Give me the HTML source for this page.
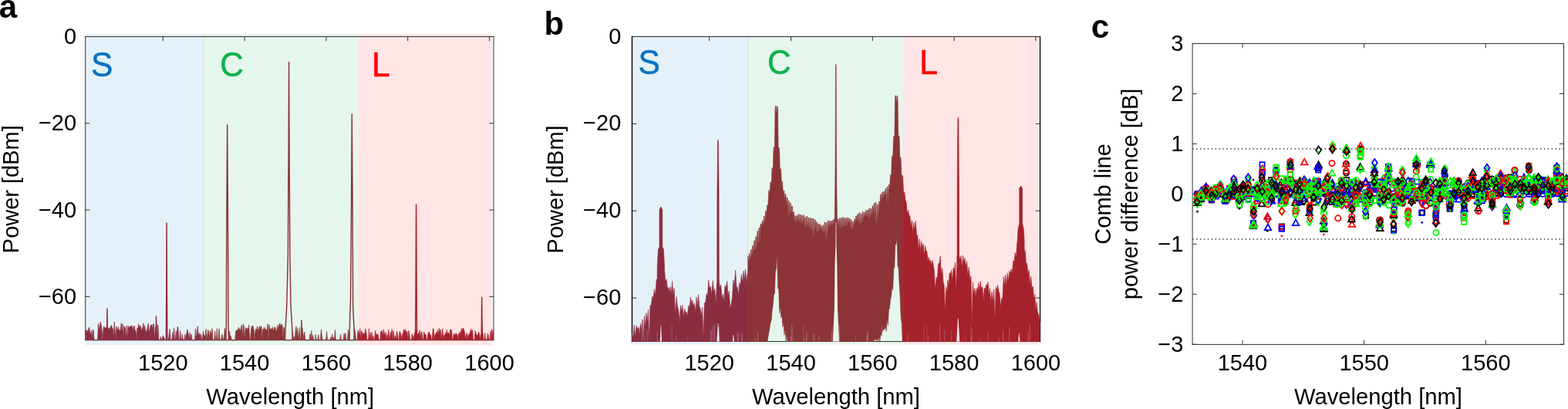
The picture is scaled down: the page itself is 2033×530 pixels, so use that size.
<!DOCTYPE html>
<html lang="en"><head><meta charset="utf-8"><title>Figure</title>
<style>html,body{margin:0;padding:0;background:#fff;overflow:hidden}svg{display:block}</style>
</head><body>
<svg width="2033" height="530" viewBox="0 0 2033 530" font-family='"Liberation Sans", sans-serif' fill="#000">
<rect width="2033" height="530" fill="#fff"/>
<rect x="111" y="44" width="153.3" height="403.3" fill="#0072bd" fill-opacity="0.1"/>
<rect x="263.15" y="44" width="201.2" height="403.3" fill="#00a651" fill-opacity="0.1"/>
<rect x="464.35" y="44" width="173.65" height="403.3" fill="#ff0000" fill-opacity="0.1"/>
<path d="M110.7 47.5H640M110.7 440.7H640" fill="none" stroke="#303030" stroke-width="1.0" stroke-linecap="square"/>
<path d="M110.7 47.5V440.7M640 47.5V440.7" fill="none" stroke="#303030" stroke-width="1.0" stroke-linecap="square"/>
<line x1="211.31" y1="47.5" x2="211.31" y2="53.2" stroke="#303030" stroke-width="1.0"/>
<text x="211.31" y="480.3" font-size="29" text-anchor="middle">1520</text>
<line x1="317.11" y1="47.5" x2="317.11" y2="53.2" stroke="#303030" stroke-width="1.0"/>
<text x="317.11" y="480.3" font-size="29" text-anchor="middle">1540</text>
<line x1="422.91" y1="47.5" x2="422.91" y2="53.2" stroke="#303030" stroke-width="1.0"/>
<text x="422.91" y="480.3" font-size="29" text-anchor="middle">1560</text>
<line x1="528.71" y1="47.5" x2="528.71" y2="53.2" stroke="#303030" stroke-width="1.0"/>
<text x="528.71" y="480.3" font-size="29" text-anchor="middle">1580</text>
<line x1="634.51" y1="47.5" x2="634.51" y2="53.2" stroke="#303030" stroke-width="1.0"/>
<text x="634.51" y="480.3" font-size="29" text-anchor="middle">1600</text>
<line x1="110.7" y1="47.5" x2="116.4" y2="47.5" stroke="#303030" stroke-width="1.0"/>
<line x1="640" y1="47.5" x2="634.3" y2="47.5" stroke="#303030" stroke-width="1.0"/>
<text x="99.1" y="57" font-size="29" text-anchor="end">0</text>
<line x1="110.7" y1="159.79" x2="116.4" y2="159.79" stroke="#303030" stroke-width="1.0"/>
<line x1="640" y1="159.79" x2="634.3" y2="159.79" stroke="#303030" stroke-width="1.0"/>
<text x="99.1" y="169.29" font-size="29" text-anchor="end">−20</text>
<line x1="110.7" y1="272.07" x2="116.4" y2="272.07" stroke="#303030" stroke-width="1.0"/>
<line x1="640" y1="272.07" x2="634.3" y2="272.07" stroke="#303030" stroke-width="1.0"/>
<text x="99.1" y="281.57" font-size="29" text-anchor="end">−40</text>
<line x1="110.7" y1="384.36" x2="116.4" y2="384.36" stroke="#303030" stroke-width="1.0"/>
<line x1="640" y1="384.36" x2="634.3" y2="384.36" stroke="#303030" stroke-width="1.0"/>
<text x="99.1" y="393.86" font-size="29" text-anchor="end">−60</text>
<g fill="#8b2d40" stroke="#8b2d40" stroke-width="0.7" stroke-linejoin="round"><path d="M111.2 440.7L111.2 440.7L111.3 427.66L112.2 428.13L113.1 428.09L114 431.85L114.9 425.41L115.8 423.86L116.7 432.62L117.6 432.57L118.5 428.52L119.4 440.7L120.3 426.94L121.2 428.59L122.1 440.7L123 440.7L123.9 440.7L124.8 440.7L125.7 440.7L126.6 440.7L127.5 419.27L128.4 423.45L129.3 427.69L130.2 416.92L131.1 420.78L132 426.74L132.9 440.7L133.8 427.57L134.7 422.8L135.6 425.6L136.5 424.72L137.4 424.73L138.3 424.35L139.2 423.36L140.1 426.6L141 424.86L141.9 427.41L142.8 425.03L143.7 422.71L144.6 421.38L145.5 426L146.4 425.67L147.3 440.7L148.2 417.25L149.1 427.52L150 440.7L150.9 423.32L151.8 427.37L152.7 427.19L153.6 423.5L154.5 429.62L155.4 427.76L156.3 428.25L157.2 418.91L158.1 429.47L159 419.69L159.9 440.7L160.8 422.7L161.7 426.19L162.6 423.69L163.5 440.7L164.4 421.96L165.3 440.7L166.2 422.16L167.1 425.11L168 423.4L168.9 423.29L169.8 422.67L170.7 421.69L171.6 423.31L172.5 428.78L173.4 423.09L174.3 422.02L175.2 429.59L176.1 428.43L177 440.7L177.9 424.84L178.8 426.54L179.7 419.64L180.6 423.29L181.5 424.24L182.4 421.88L183.3 427.84L184.2 427.35L185.1 424.27L186 418.9L186.9 429.35L187.8 421.91L188.7 428.52L189.6 429.43L190.5 428.73L191.4 422.77L192.3 419.16L193.2 429.64L194.1 427.56L195 422.03L195.9 421.38L196.8 420.4L197.7 428.27L198.6 419.69L199.5 420.03L200.4 440.7L201.3 424.53L202.2 422.64L203.1 419.8L204 440.7L204.9 421L205.8 440.7L206.7 440.7L207.6 440.7L208.5 436.05L209.4 440.7L210.3 440.7L211.2 434.82L212.1 436.69L213 437.81L213.9 440.7L214.8 440.7L215.7 440.7L216.6 440.7L217.5 440.7L218.4 440.7L219.3 432.82L220.2 426.23L221.1 440.7L222 440.7L222.9 440.7L223.8 430.74L224.7 440.7L225.6 424.64L226.5 440.7L227.4 440.7L228.3 428.73L229.2 440.7L230.1 423.1L231 425.29L231.9 440.7L232.8 440.7L233.7 428.7L234.6 440.7L235.5 440.7L236.4 433.03L237.3 440.7L238.2 440.7L239.1 440.7L240 433.21L240.9 440.7L241.8 433.73L242.7 426.77L243.6 429.81L244.5 434.39L245.4 440.7L246.3 430.82L247.2 440.7L248.1 433.04L249 440.7L249.9 440.7L250.8 440.7L251.7 440.7L252.6 440.7L253.5 426.07L254.4 440.7L255.3 431.61L256.2 422.72L257.1 432.59L258 434.44L258.9 431.56L259.8 440.7L260.7 433.09L261.6 440.7L262.5 440.7L263.4 429.13L264 433.15L264 440.7Z"/></g><g fill="none" stroke="#8b2d40" stroke-width="1.45" stroke-linejoin="round"><path d="M138.6 440.7L139 400L139.5 440.7"/><path d="M202.1 440.7L202.5 410L203 440.7"/><path d="M215.4 440.7L215.8 380L216.1 289L216.5 380L216.9 440.7"/></g>
<g fill="#8b3337" stroke="#8b3337" stroke-width="0.7" stroke-linejoin="round"><path d="M264 440.7L264 433.15L264.3 435.17L265.2 435.29L266.1 434.55L267 426.46L267.9 440.7L268.8 435.02L269.7 427.29L270.6 430.03L271.5 440.7L272.4 427.99L273.3 430.71L274.2 434.6L275.1 425.87L276 440.7L276.9 440.7L277.8 440.7L278.7 429.1L279.6 440.7L280.5 440.7L281.4 425.68L282.3 440.7L283.2 440.7L284.1 425.84L285 440.7L285.9 440.7L286.8 440.7L287.7 432.98L288.6 435.58L289.5 440.7L290.4 440.7L291.3 425.31L292.2 428.78L293.1 440.7L294 440.7L294.9 440.7L295.8 440.7L296.7 440.7L297.6 429.32L298.5 435.76L299.4 435.63L300.3 440.7L301.2 440.7L302.1 440.7L303 440.7L303.9 440.7L304.8 440.7L305.7 428.86L306.6 429.2L307.5 427.13L308.4 429.06L309.3 423.91L310.2 426.56L311.1 426.58L312 429.69L312.9 421.4L313.8 421.56L314.7 440.7L315.6 419.74L316.5 424.1L317.4 440.7L318.3 424.55L319.2 425.56L320.1 428.52L321 424.83L321.9 426.82L322.8 421.14L323.7 440.7L324.6 440.7L325.5 427.36L326.4 422.83L327.3 422.16L328.2 422.74L329.1 426.96L330 440.7L330.9 429.58L331.8 425.99L332.7 428.75L333.6 422.76L334.5 427.38L335.4 428.6L336.3 422.84L337.2 425.92L338.1 422.51L339 423.67L339.9 440.7L340.8 426.15L341.7 428.79L342.6 423.85L343.5 427.35L344.4 426.36L345.3 428.59L346.2 426.84L347.1 419.6L348 440.7L348.9 420.87L349.8 425.3L350.7 426.97L351.6 425.7L352.5 427.56L353.4 423.75L354.3 427.76L355.2 428.1L356.1 423.46L357 424.86L357.9 429.02L358.8 428.77L359.7 421.5L360.6 427.28L361.5 421.29L362.4 419.05L363.3 423.79L364.2 419.64L365.1 422.37L366 420.53L366.9 440.7L367.8 423.94L368.7 425.06L369.6 440.7L370.5 440.7L371.4 440.7L372.3 440.7L373.2 440.7L374.1 440.7L375 440.7L375.9 440.7L376.8 440.7L377.7 440.7L378.6 440.7L379.5 430.23L380.4 440.7L381.3 436L382.2 440.7L383.1 429.31L384 422.84L384.9 436.55L385.8 425.55L386.7 440.7L387.6 434.5L388.5 424.53L389.4 440.7L390.3 440.7L391.2 430.93L392.1 425.2L393 440.7L393.9 432.92L394.8 429.98L395.7 440.7L396.6 440.7L397.5 440.7L398.4 440.7L399.3 440.7L400.2 440.7L401.1 440.7L402 432.76L402.9 440.7L403.8 428.55L404.7 440.7L405.6 434.34L406.5 440.7L407.4 440.7L408.3 440.7L409.2 433.36L410.1 440.7L411 440.7L411.9 440.7L412.8 433.55L413.7 440.7L414.6 440.7L415.5 440.7L416.4 426.79L417.3 435.15L418.2 440.7L419.1 440.7L420 440.7L420.9 440.7L421.8 440.7L422.7 440.7L423.6 429.65L424.5 440.7L425.4 440.7L426.3 440.7L427.2 440.7L428.1 440.7L429 436.65L429.9 440.7L430.8 433.27L431.7 440.7L432.6 437.39L433.5 440.7L434.4 427.57L435.3 440.7L436.2 440.7L437.1 440.7L438 440.7L438.9 440.7L439.8 440.7L440.7 440.7L441.6 433.29L442.5 440.7L443.4 440.7L444.3 440.7L445.2 440.7L446.1 432.06L447 440.7L447.9 431.55L448.8 440.7L449.7 440.7L450.6 440.7L451.5 427.27L452.4 431.82L453.3 440.7L454.2 440.7L455.1 440.7L456 440.7L456.9 440.7L457.8 440.7L458.7 440.7L459.6 425.76L460.5 430.1L461.4 440.7L462.3 440.7L463.2 440.7L464.1 428.3L464.35 428.76L464.35 440.7Z"/></g><g fill="none" stroke="#8b3337" stroke-width="1.45" stroke-linejoin="round"><path d="M390.6 440.7L391 415L391.5 440.7"/><path d="M292.9 440.7L293.4 420L293.6 350L294.3 220L294.7 161.6L295.1 220L295.8 350L296 420L296.5 440.7"/><path d="M369.4 440.7L370.4 420L371.7 398L373.4 330L374.1 200L374.6 80.8L375.1 200L375.9 330L377.1 398L378.5 420L379.4 440.7"/><path d="M453 440.7L453.4 424L453.8 407L454.5 390L455.6 260L456.3 148L457.1 260L457.6 390L458.1 407L459 424L459.5 440.7"/></g>
<g fill="#a5212c" stroke="#a5212c" stroke-width="0.7" stroke-linejoin="round"><path d="M464.35 440.7L464.35 428.76L465 429.96L465.9 435.52L466.8 425.83L467.7 440.7L468.6 428.99L469.5 429.78L470.4 433.7L471.3 431.84L472.2 432.75L473.1 431.39L474 426.11L474.9 431.59L475.8 440.7L476.7 440.7L477.6 440.7L478.5 425.75L479.4 440.7L480.3 431.36L481.2 440.7L482.1 430.45L483 440.7L483.9 435.15L484.8 440.7L485.7 440.7L486.6 428.18L487.5 435.39L488.4 432.94L489.3 433.31L490.2 433.55L491.1 440.7L492 440.7L492.9 440.7L493.8 429.69L494.7 428.54L495.6 430.32L496.5 434.91L497.4 426.75L498.3 432.14L499.2 435.39L500.1 430.72L501 440.7L501.9 433.79L502.8 440.7L503.7 427.32L504.6 433.98L505.5 440.7L506.4 430.13L507.3 434.64L508.2 426.7L509.1 440.7L510 428.74L510.9 435.46L511.8 440.7L512.7 434.5L513.6 440.7L514.5 429.08L515.4 433.41L516.3 440.7L517.2 440.7L518.1 429.41L519 430.42L519.9 434.2L520.8 440.7L521.7 432.85L522.6 432.91L523.5 426.73L524.4 431.08L525.3 426.41L526.2 430.14L527.1 429.12L528 430.64L528.9 440.7L529.8 428.28L530.7 433.02L531.6 440.7L532.5 440.7L533.4 440.7L534.3 432.86L535.2 435.35L536.1 440.7L537 434.37L537.9 430.74L538.8 433.07L539.7 426.63L540.6 433.54L541.5 434.28L542.4 431.61L543.3 432.61L544.2 427.79L545.1 440.7L546 430.59L546.9 429.95L547.8 440.7L548.7 440.7L549.6 430.15L550.5 432.29L551.4 433.03L552.3 434.36L553.2 440.7L554.1 440.7L555 432.17L555.9 430.08L556.8 431.33L557.7 434.3L558.6 434.11L559.5 440.7L560.4 440.7L561.3 425.84L562.2 426.27L563.1 440.7L564 432.79L564.9 433.75L565.8 430.23L566.7 431.4L567.6 427.79L568.5 434.65L569.4 425.46L570.3 431.32L571.2 427.04L572.1 440.7L573 431.48L573.9 425.88L574.8 440.7L575.7 434.15L576.6 434.46L577.5 431.58L578.4 433.34L579.3 427.45L580.2 433.24L581.1 430.83L582 431.78L582.9 434.44L583.8 426.61L584.7 428L585.6 427.81L586.5 440.7L587.4 440.7L588.3 431.99L589.2 434.1L590.1 433.91L591 431.54L591.9 433.77L592.8 433.19L593.7 440.7L594.6 431.96L595.5 434.07L596.4 429.74L597.3 434.62L598.2 425.78L599.1 431.57L600 425.15L600.9 425.28L601.8 428.49L602.7 431.94L603.6 440.7L604.5 433.46L605.4 431.61L606.3 440.7L607.2 433.39L608.1 434.69L609 432.31L609.9 429.22L610.8 426.39L611.7 431.23L612.6 427.54L613.5 440.7L614.4 440.7L615.3 440.7L616.2 428.48L617.1 431.93L618 433.93L618.9 434.38L619.8 433.68L620.7 430.18L621.6 433.07L622.5 440.7L623.4 433.16L624.3 440.7L625.2 430.58L626.1 432.36L627 440.7L627.9 440.7L628.8 431.49L629.7 440.7L630.6 440.7L631.5 440.7L632.4 431.93L633.3 434.62L634.2 440.7L635.1 440.7L636 428.82L636.9 440.7L637.8 426.37L638.7 435.4L639.6 428.39L639.7 440.7L639.7 440.7Z"/></g><g fill="none" stroke="#a5212c" stroke-width="1.45" stroke-linejoin="round"><path d="M538.5 440.7L538.9 400L539.6 265L540.3 400L540.7 440.7"/><path d="M624 440.7L624.4 420L624.7 385.3L625.1 420L625.5 440.7"/></g>
<text x="376.2" y="523.5" font-size="29.2" text-anchor="middle">Wavelength [nm]</text>
<text transform="translate(23.8 245.2) rotate(-90)" font-size="29" text-anchor="middle">Power [dBm]</text>
<text x="-1.3" y="22.8" font-size="42" font-weight="bold">a</text>
<text transform="translate(117.9 98.7) scale(1 1.045)" font-size="42.5" fill="#0b72c4" stroke="#0b72c4" stroke-width="0.5">S</text>
<text transform="translate(285.3 98.7) scale(1 1.045)" font-size="42.5" fill="#0cb14b" stroke="#0cb14b" stroke-width="0.5">C</text>
<text transform="translate(482 98.7) scale(1 1.045)" font-size="42.5" fill="#ff0000" stroke="#ff0000" stroke-width="0.5">L</text>
<rect x="817.5" y="45.5" width="152.6" height="401" fill="#0072bd" fill-opacity="0.1"/>
<rect x="968.95" y="45.5" width="201.45" height="401" fill="#00a651" fill-opacity="0.1"/>
<rect x="1170.4" y="45.5" width="175.6" height="401" fill="#ff0000" fill-opacity="0.1"/>
<path d="M819.5 47.5H1348.5M819.5 442.5H1348.5" fill="none" stroke="#303030" stroke-width="1.0" stroke-linecap="square"/>
<path d="M819.5 47.5V442.5M1348.5 47.5V442.5" fill="none" stroke="#000" stroke-width="1.35" stroke-linecap="square"/>
<line x1="919.71" y1="47.5" x2="919.71" y2="53.2" stroke="#303030" stroke-width="1.0"/>
<text x="919.71" y="480.3" font-size="29" text-anchor="middle">1520</text>
<line x1="1025.51" y1="47.5" x2="1025.51" y2="53.2" stroke="#303030" stroke-width="1.0"/>
<text x="1025.51" y="480.3" font-size="29" text-anchor="middle">1540</text>
<line x1="1131.31" y1="47.5" x2="1131.31" y2="53.2" stroke="#303030" stroke-width="1.0"/>
<text x="1131.31" y="480.3" font-size="29" text-anchor="middle">1560</text>
<line x1="1237.11" y1="47.5" x2="1237.11" y2="53.2" stroke="#303030" stroke-width="1.0"/>
<text x="1237.11" y="480.3" font-size="29" text-anchor="middle">1580</text>
<line x1="1342.91" y1="47.5" x2="1342.91" y2="53.2" stroke="#303030" stroke-width="1.0"/>
<text x="1342.91" y="480.3" font-size="29" text-anchor="middle">1600</text>
<line x1="819.5" y1="47.5" x2="825.2" y2="47.5" stroke="#303030" stroke-width="1.0"/>
<line x1="1348.5" y1="47.5" x2="1342.8" y2="47.5" stroke="#303030" stroke-width="1.0"/>
<text x="805.3" y="56.5" font-size="29" text-anchor="end">0</text>
<line x1="819.5" y1="160.36" x2="825.2" y2="160.36" stroke="#303030" stroke-width="1.0"/>
<line x1="1348.5" y1="160.36" x2="1342.8" y2="160.36" stroke="#303030" stroke-width="1.0"/>
<text x="805.3" y="169.36" font-size="29" text-anchor="end">−20</text>
<line x1="819.5" y1="273.21" x2="825.2" y2="273.21" stroke="#303030" stroke-width="1.0"/>
<line x1="1348.5" y1="273.21" x2="1342.8" y2="273.21" stroke="#303030" stroke-width="1.0"/>
<text x="805.3" y="282.21" font-size="29" text-anchor="end">−40</text>
<line x1="819.5" y1="386.07" x2="825.2" y2="386.07" stroke="#303030" stroke-width="1.0"/>
<line x1="1348.5" y1="386.07" x2="1342.8" y2="386.07" stroke="#303030" stroke-width="1.0"/>
<text x="805.3" y="395.07" font-size="29" text-anchor="end">−60</text>
<g fill="#8b2d40" stroke="#8b2d40" stroke-width="0.6" stroke-linejoin="round"><path d="M819.5 432L820.8 438.52L822.25 420.99L823.55 436.96L825.07 421.87L826.37 426.22L827.9 423.93L829.2 433.68L830.3 419.39L831.6 426.36L832.93 414.15L834.23 441.79L835.41 409.33L836.71 423.05L837.83 405.4L839.13 417.46L840.49 401.09L841.79 442.5L842.94 395.74L844.24 396.34L845.74 384.09L847.04 386.42L848.36 374.75L849.66 382.69L851.19 361.53L852.49 366.01L853.99 347.51L855.29 351.18L856.42 344L857.72 377.45L859.07 344.24L860.37 351.62L861.59 352.62L862.89 364.59L864.18 361.98L865.48 374.3L866.88 372.4L868.18 378.59L869.24 371.47L870.54 380.86L871.59 364.05L872.89 382.76L874.23 373.67L875.53 407.36L877.06 384.39L878.36 396.65L879.89 403.09L881.19 416.06L882.41 395.6L883.71 403.56L884.81 395.12L886.11 410.85L887.59 399.95L888.89 405.72L889.98 404.1L891.28 409.62L892.8 395.72L894.1 398.23L895.42 385.13L896.72 393.48L897.85 389.18L899.15 396.8L900.55 393.12L901.85 405.66L902.92 385.08L904.22 397.47L905.47 381.31L906.77 396.81L908.24 400.86L909.54 409.4L910.61 398.16L911.91 436.66L913.38 392.47L914.68 392.09L916.22 380.41L917.52 382.7L918.61 362.84L919.91 373.26L921.39 370.94L922.69 381.78L924.25 363.74L925.55 378.31L926.83 374.64L928.13 393.2L929.42 366.9L930.72 369.07L931.83 362L933.13 372.42L934.67 368.63L935.97 386.64L937.19 380.94L938.49 391.69L939.93 370.54L941.23 372.79L942.68 364.13L943.98 383.8L945.37 377.02L946.67 399.54L948.08 394.15L949.38 386.35L950.82 363.09L952.12 369.13L953.65 350.22L954.95 373.67L955.99 371.29L957.29 383.08L958.68 366.16L959.98 369.77L961.36 355.15L962.66 367.31L964.03 351.03L965.33 362.36L966.56 349.02L967.86 366.22L969.25 353.99L969.8 371.67L969.8 355L969.8 442.5L819.5 442.5Z"/><path d="M851.7 442.5L852.2 346L853.4 323L855 320L855 272L856.2 269L856.9 268L857.6 269L858.8 272L858.8 320L860.4 323L861.6 346L862.1 442.5Z"/><path d="M929.2 442.5L929.7 364L929.9 250L930.5 184L931 181L931.5 184L932.1 250L932.3 364L932.8 442.5Z"/></g>
<g fill="#8b3337" stroke="#8b3337" stroke-width="0.6" stroke-linejoin="round"><path d="M969.7 337.9L969.7 332.07L969.88 332.07L970.21 337.9L970.86 337.99L971.2 328.74L972.01 328.74L972.34 337.99L972.99 335.43L973.33 323.4L974.14 323.4L974.47 335.43L975.12 328.78L975.46 318.39L976.27 318.39L976.6 328.78L977.25 322.77L977.59 311.91L978.4 311.91L978.73 322.77L979.38 324.14L979.72 306.74L980.53 306.74L980.86 324.14L981.51 310.75L981.85 299.6L982.66 299.6L982.99 310.75L983.64 317.27L983.98 295.2L984.79 295.2L985.12 317.27L985.77 294.61L986.11 290.02L986.92 290.02L987.25 294.61L987.9 292.15L988.24 286.16L989.05 286.16L989.38 292.15L990.03 289.04L990.37 279.92L991.18 279.92L991.51 289.04L992.16 283.63L992.5 273.14L993.31 273.14L993.64 283.63L994.29 269.68L994.63 265.67L995.44 265.67L995.77 269.68L996.42 252.53L996.76 246.66L997.57 246.66L997.9 252.53L998.55 241.79L998.89 236.09L999.7 236.09L1000.03 241.79L1000.68 225.6L1001.02 217.54L1001.83 217.54L1002.16 225.6L1002.81 197.61L1003.15 190.79L1003.96 190.79L1004.29 197.61L1004.94 144.4L1005.28 137.4L1006.09 137.4L1006.42 144.4L1007.08 144.83L1007.41 137.83L1008.22 137.83L1008.56 144.83L1009.21 197.26L1009.54 191.38L1010.35 191.38L1010.69 197.26L1011.34 224.54L1011.67 218.64L1012.48 218.64L1012.82 224.54L1013.47 244.42L1013.8 235.52L1014.61 235.52L1014.95 244.42L1015.6 253.43L1015.93 246.97L1016.74 246.97L1017.08 253.43L1017.73 260.57L1018.06 251.33L1018.87 251.33L1019.21 260.57L1019.86 264.84L1020.19 255.96L1021 255.96L1021.34 264.84L1021.99 283.17L1022.32 260.18L1023.13 260.18L1023.47 283.17L1024.12 277.23L1024.45 262.95L1025.26 262.95L1025.6 277.23L1026.25 273.83L1026.58 266.88L1027.39 266.88L1027.73 273.83L1028.38 281.74L1028.71 274.52L1029.52 274.52L1029.86 281.74L1030.51 290.89L1030.84 279.8L1031.65 279.8L1031.99 290.89L1032.64 284.52L1032.97 279.22L1033.78 279.22L1034.12 284.52L1034.77 287.26L1035.1 277.39L1035.91 277.39L1036.25 287.26L1036.9 287.91L1037.23 278.08L1038.04 278.08L1038.38 287.91L1039.03 291.13L1039.36 278.94L1040.17 278.94L1040.51 291.13L1041.16 285.64L1041.49 278.86L1042.3 278.86L1042.64 285.64L1043.29 295.45L1043.62 281.68L1044.43 281.68L1044.77 295.45L1045.42 292.73L1045.75 280.16L1046.56 280.16L1046.9 292.73L1047.55 293.9L1047.88 282.11L1048.69 282.11L1049.03 293.9L1049.68 296.52L1050.01 282.49L1050.82 282.49L1051.16 296.52L1051.81 296.25L1052.14 282.88L1052.95 282.88L1053.29 296.25L1053.94 310.8L1054.27 283.25L1055.09 283.25L1055.42 310.8L1056.07 293.57L1056.4 284.81L1057.22 284.81L1057.55 293.57L1058.2 301.8L1058.53 287.79L1059.35 287.79L1059.68 301.8L1060.33 300.02L1060.66 289.98L1061.48 289.98L1061.81 300.02L1062.46 296.16L1062.79 290.47L1063.61 290.47L1063.94 296.16L1064.59 297.23L1064.92 292.48L1065.74 292.48L1066.07 297.23L1066.72 304.26L1067.05 291.55L1067.87 291.55L1068.2 304.26L1068.85 299.82L1069.18 287.87L1070 287.87L1070.33 299.82L1070.98 316.06L1071.31 288.43L1072.13 288.43L1072.46 316.06L1073.11 296.97L1073.44 285.86L1074.26 285.86L1074.59 296.97L1075.24 292L1075.57 286.52L1076.39 286.52L1076.72 292L1077.37 292.12L1077.7 286.48L1078.52 286.48L1078.85 292.12L1079.5 290.51L1079.83 284.73L1080.65 284.73L1080.98 290.51L1081.63 288.5L1081.96 283.31L1082.78 283.31L1083.11 288.5L1083.76 287.48L1084.09 282.85L1084.91 282.85L1085.24 287.48L1085.89 297.59L1086.22 283.92L1087.04 283.92L1087.37 297.59L1088.02 290.23L1088.35 282.77L1089.17 282.77L1089.5 290.23L1090.15 297.06L1090.48 282.73L1091.3 282.73L1091.63 297.06L1092.28 293.19L1092.61 281.52L1093.43 281.52L1093.76 293.19L1094.41 292.28L1094.74 282.72L1095.56 282.72L1095.89 292.28L1096.54 293.19L1096.87 282.36L1097.69 282.36L1098.02 293.19L1098.67 288.97L1099 282.17L1099.82 282.17L1100.15 288.97L1100.8 288.8L1101.13 283.33L1101.95 283.33L1102.28 288.8L1102.93 296.85L1103.26 284.75L1104.08 284.75L1104.41 296.85L1105.06 298.55L1105.39 287.35L1106.21 287.35L1106.54 298.55L1107.19 288.93L1107.52 283.93L1108.34 283.93L1108.67 288.93L1109.32 286.54L1109.65 279.91L1110.47 279.91L1110.8 286.54L1111.45 285.06L1111.78 277.5L1112.6 277.5L1112.93 285.06L1113.58 292.88L1113.91 275.62L1114.73 275.62L1115.06 292.88L1115.71 288.52L1116.05 277.03L1116.86 277.03L1117.19 288.52L1117.84 288.91L1118.18 274.21L1118.99 274.21L1119.32 288.91L1119.97 280.54L1120.31 275L1121.12 275L1121.45 280.54L1122.1 279.36L1122.44 272.77L1123.25 272.77L1123.58 279.36L1124.23 280.12L1124.57 272.29L1125.38 272.29L1125.71 280.12L1126.36 283.18L1126.7 270.03L1127.51 270.03L1127.84 283.18L1128.49 279.3L1128.83 270.53L1129.64 270.53L1129.97 279.3L1130.62 277.44L1130.96 266.92L1131.77 266.92L1132.1 277.44L1132.75 271.86L1133.09 263.51L1133.9 263.51L1134.23 271.86L1134.88 290.52L1135.22 262.18L1136.03 262.18L1136.36 290.52L1137.01 287.01L1137.35 264.96L1138.16 264.96L1138.49 287.01L1139.14 272.01L1139.48 261.19L1140.29 261.19L1140.62 272.01L1141.27 256.93L1141.61 251.84L1142.42 251.84L1142.75 256.93L1143.4 256.95L1143.74 248.83L1144.55 248.83L1144.88 256.95L1145.53 253.96L1145.87 248.29L1146.68 248.29L1147.01 253.96L1147.66 250.23L1148 244.45L1148.81 244.45L1149.14 250.23L1149.79 270.77L1150.13 241.9L1150.94 241.9L1151.27 270.77L1151.92 245.71L1152.26 239.35L1153.07 239.35L1153.4 245.71L1154.05 233.95L1154.39 226.58L1155.2 226.58L1155.53 233.95L1156.18 207.2L1156.52 202.05L1157.33 202.05L1157.66 207.2L1158.31 182.29L1158.65 176.73L1159.46 176.73L1159.79 182.29L1160.44 130.94L1160.78 123.94L1161.59 123.94L1161.92 130.94L1162.58 131.38L1162.91 124.38L1163.72 124.38L1164.06 131.38L1164.71 180.32L1165.04 176.01L1165.85 176.01L1166.19 180.32L1166.84 210.57L1167.17 203.98L1167.98 203.98L1168.32 210.57L1168.97 235.66L1169.3 226.98L1170.11 226.98L1170.4 235.66L1170.4 243.4L1170.4 238.12L1170.4 238.12L1170.4 243.4L1170.4 442.5L1170.25 442.5L1169.2 418.35L1168.15 412.74L1167.1 384.91L1166.05 367.66L1165 347.71L1163.95 345.04L1162.9 308L1161.85 317.18L1160.8 316L1159.75 346.22L1158.7 348.8L1157.65 375.88L1156.6 371.2L1155.55 383.79L1154.5 388L1153.45 399.35L1152.4 401.6L1151.35 421.18L1150.3 412.84L1149.25 429.49L1148.2 421.37L1147.15 426.63L1146.1 425.83L1145.05 428.25L1144 429.33L1142.95 435.2L1141.9 432.83L1140.85 442.5L1139.8 436.16L1138.75 442.5L1137.7 437.87L1136.65 442.5L1135.6 439.57L1131.4 442.5L1127.2 442.5L1123 442.5L1118.8 442.5L1114.6 442.5L1110.4 442.5L1106.2 442.5L1102 442.5L1097.8 442.5L1093.6 442.5L1089.4 442.5L1085.2 442.5L1081 442.5L1076.8 442.5L1072.6 442.5L1068.4 442.5L1064.2 442.5L1060 442.5L1055.8 442.5L1051.6 442.5L1047.4 442.5L1043.2 442.5L1039 442.5L1034.8 442.5L1030.6 442.5L1026.4 442.5L1022.2 442.5L1021.15 442.5L1020.1 434.3L1019.05 442.5L1018 426.25L1016.95 433.95L1015.9 418.38L1014.85 423.54L1013.8 408.43L1012.75 411.85L1011.7 396.93L1010.65 405.77L1009.6 374L1008.55 373.94L1007.5 327.86L1006.45 347.91L1005.4 352.31L1004.35 380.77L1003.3 381.76L1002.25 395.27L1001.2 401.83L1000.15 414.71L999.1 417.71L994.9 442.5L990.7 442.5L986.5 442.5L982.3 442.5L978.1 442.5L973.9 442.5L969.7 442.5Z"/><path d="M1082.2 292L1082.4 270L1082.8 240L1083.2 180L1083.45 87L1083.8 83L1084.15 87L1084.4 180L1084.8 240L1085.2 270L1085.4 292Z"/></g>
<g fill="#a5212c" stroke="#a5212c" stroke-width="0.6" stroke-linejoin="round"><path d="M1170.4 228L1171.65 249.99L1172.68 248.83L1173.93 259.44L1175.02 262.06L1176.27 277.18L1177.53 272.12L1178.78 280.52L1179.84 279.51L1181.09 293.76L1182.38 285.77L1183.63 303.26L1184.64 288.14L1185.89 297.03L1187.18 286.31L1188.43 303.75L1189.79 305.47L1191.04 324.03L1192.27 309.72L1193.52 325.79L1194.57 312.49L1195.82 321.35L1197.21 315.65L1198.46 331.62L1199.52 318.43L1200.77 325.78L1201.82 325.18L1203.07 338.43L1204.19 333.25L1205.44 340.04L1206.46 336.59L1207.71 342.88L1208.9 337.56L1210.15 343.79L1211.31 350.2L1212.56 375.4L1214.01 359.05L1215.26 362.57L1216.54 341.52L1217.79 342.08L1219.12 331.72L1220.37 355.59L1221.72 347.33L1222.97 365.14L1224.16 369.9L1225.41 404.79L1226.54 371.82L1227.79 379.29L1228.83 362.7L1230.08 371.39L1231.09 353.64L1232.34 354.79L1233.52 349.8L1234.77 363.47L1236.07 347.01L1237.32 350.94L1238.51 339.98L1239.76 379.19L1241.17 332L1242.42 345.18L1243.68 332L1244.93 337.23L1246.16 331.57L1247.41 347.43L1248.47 331.05L1249.72 339.99L1250.95 334.42L1252.2 345.41L1253.58 338.44L1254.83 356.45L1256.31 346.23L1257.56 362.92L1258.97 357.6L1260.22 421.83L1261.24 365.72L1262.49 380.54L1263.93 373.79L1265.18 385L1266.32 373.34L1267.57 375.68L1268.75 366.59L1270 376.64L1271.17 364.18L1272.42 374.19L1273.84 371.73L1275.09 389.74L1276.29 372.85L1277.54 375.76L1278.79 368.69L1280.04 370.13L1281.09 365.31L1282.34 382.73L1283.44 373.53L1284.69 392.06L1286.03 377.86L1287.28 391.55L1288.68 374.91L1289.93 414.97L1291.22 372.09L1292.47 376.28L1293.63 369.41L1294.88 377.44L1296.07 380.91L1297.32 397.77L1298.52 386.18L1299.77 388.97L1301.23 358.3L1302.48 369.9L1303.75 356.09L1305 369.18L1306.3 353.7L1307.55 364.96L1308.69 351.31L1309.94 354.15L1311.12 348.5L1312.37 354.38L1313.73 337.55L1314.98 339.6L1316.11 327.46L1317.36 334.55L1318.74 314.99L1319.99 321.43L1321.44 297.49L1322.69 309.63L1324.06 297L1325.31 308.55L1326.57 302.09L1327.82 328.89L1329.3 324.45L1330.55 344.13L1331.55 340.77L1332.8 354.68L1334.13 349.86L1335.38 368.89L1336.69 358.36L1337.94 372.86L1339.28 371L1340.53 387.43L1341.72 381.55L1342.97 402.09L1344.12 391.4L1345.37 404.34L1346.82 407.69L1348.07 421.75L1348.3 418L1348.3 442.5L1170.4 442.5Z"/><path d="M1240.5 442.5L1241 334L1241.2 240L1241.8 155L1242.3 151.7L1242.8 155L1243.4 240L1243.6 334L1244.1 442.5Z"/><path d="M1318.6 442.5L1319.1 312L1320.1 296L1321.7 290L1321.7 244L1322.9 242L1323.6 241L1324.3 242L1325.5 244L1325.5 290L1327.1 296L1328.1 312L1328.6 442.5Z"/></g>
<g><line x1="961.75" y1="442.5" x2="961.75" y2="431.45" stroke="#e6f0f9" stroke-opacity="0.56" stroke-width="0.59"/><line x1="957.3" y1="442.5" x2="957.3" y2="433.15" stroke="#e6f0f9" stroke-opacity="0.51" stroke-width="0.65"/><line x1="891.6" y1="442.5" x2="891.6" y2="435.58" stroke="#e6f0f9" stroke-opacity="0.36" stroke-width="0.45"/><line x1="835.55" y1="442.5" x2="835.55" y2="434.61" stroke="#e6f0f9" stroke-opacity="0.48" stroke-width="0.43"/><line x1="932.68" y1="442.5" x2="932.68" y2="423.51" stroke="#e6f0f9" stroke-opacity="0.54" stroke-width="0.64"/><line x1="926.11" y1="442.5" x2="926.11" y2="419.94" stroke="#e6f0f9" stroke-opacity="0.59" stroke-width="0.59"/><line x1="962.9" y1="442.5" x2="962.9" y2="435.54" stroke="#e6f0f9" stroke-opacity="0.33" stroke-width="0.42"/><line x1="852.14" y1="442.5" x2="852.14" y2="430.39" stroke="#e6f0f9" stroke-opacity="0.44" stroke-width="0.6"/><line x1="930.47" y1="442.5" x2="930.47" y2="435.91" stroke="#e6f0f9" stroke-opacity="0.42" stroke-width="0.56"/><line x1="876.78" y1="442.5" x2="876.78" y2="435.27" stroke="#e6f0f9" stroke-opacity="0.48" stroke-width="0.51"/><line x1="921.82" y1="442.5" x2="921.82" y2="428.09" stroke="#e6f0f9" stroke-opacity="0.59" stroke-width="0.68"/><line x1="832.54" y1="442.5" x2="832.54" y2="423.06" stroke="#e6f0f9" stroke-opacity="0.52" stroke-width="0.49"/><line x1="839.06" y1="442.5" x2="839.06" y2="428.4" stroke="#e6f0f9" stroke-opacity="0.41" stroke-width="0.62"/><line x1="956.09" y1="442.5" x2="956.09" y2="430.24" stroke="#e6f0f9" stroke-opacity="0.39" stroke-width="0.55"/><line x1="923.74" y1="442.5" x2="923.74" y2="422.51" stroke="#e6f0f9" stroke-opacity="0.47" stroke-width="0.49"/><line x1="871.19" y1="442.5" x2="871.19" y2="421.39" stroke="#e6f0f9" stroke-opacity="0.46" stroke-width="0.42"/><line x1="1054.47" y1="442.5" x2="1054.47" y2="432.98" stroke="#e6f6ec" stroke-opacity="0.5" stroke-width="0.42"/><line x1="1025.12" y1="442.5" x2="1025.12" y2="435.68" stroke="#e6f6ec" stroke-opacity="0.44" stroke-width="0.7"/><line x1="1078.11" y1="442.5" x2="1078.11" y2="430.16" stroke="#e6f6ec" stroke-opacity="0.58" stroke-width="0.43"/><line x1="1041.73" y1="442.5" x2="1041.73" y2="422.1" stroke="#e6f6ec" stroke-opacity="0.3" stroke-width="0.63"/><line x1="1042.76" y1="442.5" x2="1042.76" y2="437.19" stroke="#e6f6ec" stroke-opacity="0.38" stroke-width="0.54"/><line x1="1047.03" y1="442.5" x2="1047.03" y2="427.68" stroke="#e6f6ec" stroke-opacity="0.32" stroke-width="0.47"/><line x1="1162.96" y1="442.5" x2="1162.96" y2="429.09" stroke="#e6f6ec" stroke-opacity="0.44" stroke-width="0.43"/><line x1="1026.72" y1="442.5" x2="1026.72" y2="419.36" stroke="#e6f6ec" stroke-opacity="0.51" stroke-width="0.55"/><line x1="982.39" y1="442.5" x2="982.39" y2="430.04" stroke="#e6f6ec" stroke-opacity="0.53" stroke-width="0.53"/><line x1="1088.33" y1="442.5" x2="1088.33" y2="420.36" stroke="#e6f6ec" stroke-opacity="0.49" stroke-width="0.59"/><line x1="979.07" y1="442.5" x2="979.07" y2="437.05" stroke="#e6f6ec" stroke-opacity="0.53" stroke-width="0.52"/><line x1="1143.34" y1="442.5" x2="1143.34" y2="421.81" stroke="#e6f6ec" stroke-opacity="0.57" stroke-width="0.51"/><line x1="1167.81" y1="442.5" x2="1167.81" y2="423.13" stroke="#e6f6ec" stroke-opacity="0.57" stroke-width="0.44"/><line x1="1125.06" y1="442.5" x2="1125.06" y2="429.48" stroke="#e6f6ec" stroke-opacity="0.59" stroke-width="0.7"/><line x1="1014.47" y1="442.5" x2="1014.47" y2="429.49" stroke="#e6f6ec" stroke-opacity="0.38" stroke-width="0.54"/><line x1="1028.16" y1="442.5" x2="1028.16" y2="424.84" stroke="#e6f6ec" stroke-opacity="0.34" stroke-width="0.45"/><line x1="1061.7" y1="442.5" x2="1061.7" y2="436.1" stroke="#e6f6ec" stroke-opacity="0.41" stroke-width="0.67"/><line x1="1145.52" y1="442.5" x2="1145.52" y2="433.77" stroke="#e6f6ec" stroke-opacity="0.31" stroke-width="0.65"/><line x1="1160.31" y1="442.5" x2="1160.31" y2="426.12" stroke="#e6f6ec" stroke-opacity="0.34" stroke-width="0.47"/><line x1="1152.36" y1="442.5" x2="1152.36" y2="419.69" stroke="#e6f6ec" stroke-opacity="0.31" stroke-width="0.46"/><line x1="1056.09" y1="442.5" x2="1056.09" y2="432.43" stroke="#e6f6ec" stroke-opacity="0.53" stroke-width="0.51"/><line x1="1123.94" y1="442.5" x2="1123.94" y2="434.61" stroke="#e6f6ec" stroke-opacity="0.46" stroke-width="0.69"/><line x1="1109.59" y1="442.5" x2="1109.59" y2="435.79" stroke="#e6f6ec" stroke-opacity="0.33" stroke-width="0.59"/><line x1="1045.5" y1="442.5" x2="1045.5" y2="430.49" stroke="#e6f6ec" stroke-opacity="0.44" stroke-width="0.57"/><line x1="1161.31" y1="442.5" x2="1161.31" y2="432.92" stroke="#e6f6ec" stroke-opacity="0.47" stroke-width="0.48"/><line x1="1078.89" y1="442.5" x2="1078.89" y2="423.6" stroke="#e6f6ec" stroke-opacity="0.34" stroke-width="0.54"/><line x1="1295.1" y1="442.5" x2="1295.1" y2="437.35" stroke="#fee6e6" stroke-opacity="0.53" stroke-width="0.53"/><line x1="1260.22" y1="442.5" x2="1260.22" y2="425.9" stroke="#fee6e6" stroke-opacity="0.54" stroke-width="0.42"/><line x1="1259.59" y1="442.5" x2="1259.59" y2="436.77" stroke="#fee6e6" stroke-opacity="0.42" stroke-width="0.5"/><line x1="1176.7" y1="442.5" x2="1176.7" y2="431.84" stroke="#fee6e6" stroke-opacity="0.44" stroke-width="0.6"/><line x1="1332.99" y1="442.5" x2="1332.99" y2="430.46" stroke="#fee6e6" stroke-opacity="0.46" stroke-width="0.61"/><line x1="1335.15" y1="442.5" x2="1335.15" y2="419.46" stroke="#fee6e6" stroke-opacity="0.6" stroke-width="0.49"/><line x1="1201.83" y1="442.5" x2="1201.83" y2="419.79" stroke="#fee6e6" stroke-opacity="0.32" stroke-width="0.53"/><line x1="1300.36" y1="442.5" x2="1300.36" y2="427.45" stroke="#fee6e6" stroke-opacity="0.42" stroke-width="0.68"/><line x1="1224.76" y1="442.5" x2="1224.76" y2="427.02" stroke="#fee6e6" stroke-opacity="0.55" stroke-width="0.44"/><line x1="1233.72" y1="442.5" x2="1233.72" y2="428.11" stroke="#fee6e6" stroke-opacity="0.47" stroke-width="0.46"/><line x1="1251.53" y1="442.5" x2="1251.53" y2="436.36" stroke="#fee6e6" stroke-opacity="0.33" stroke-width="0.5"/><line x1="1197.88" y1="442.5" x2="1197.88" y2="419.12" stroke="#fee6e6" stroke-opacity="0.38" stroke-width="0.48"/><line x1="1308.58" y1="442.5" x2="1308.58" y2="423.42" stroke="#fee6e6" stroke-opacity="0.38" stroke-width="0.65"/><line x1="1281.25" y1="442.5" x2="1281.25" y2="430.12" stroke="#fee6e6" stroke-opacity="0.49" stroke-width="0.47"/><line x1="1218.57" y1="442.5" x2="1218.57" y2="420.85" stroke="#fee6e6" stroke-opacity="0.43" stroke-width="0.67"/><line x1="1203.61" y1="442.5" x2="1203.61" y2="434.89" stroke="#fee6e6" stroke-opacity="0.32" stroke-width="0.62"/><line x1="1270.09" y1="442.5" x2="1270.09" y2="437.32" stroke="#fee6e6" stroke-opacity="0.31" stroke-width="0.65"/><line x1="1258.53" y1="442.5" x2="1258.53" y2="420.94" stroke="#fee6e6" stroke-opacity="0.31" stroke-width="0.58"/></g>
<path d="M1088 442.5L1087.1 423L1086 400L1085.3 342L1084.45 320L1084.2 288L1083.6 288L1083.35 320L1082.5 342L1081.8 400L1080.7 423L1079.8 442.5Z" fill="#e6f6ec"/>
<path d="M855.8 442.5L856.6 422L857.2 422L858 442.5Z" fill="#e6f0f9"/>
<path d="M929.4 442.5L930.7 419L931.3 419L932.6 442.5Z" fill="#e6f0f9"/>
<path d="M949.8 442.5L950.5 434L951.1 434L951.8 442.5Z" fill="#e6f0f9"/>
<path d="M1240.2 442.5L1241.9 412L1242.5 412L1244.2 442.5Z" fill="#fee6e6"/>
<path d="M1320.2 442.5L1321 432L1321.6 432L1322.4 442.5Z" fill="#fee6e6"/>
<text x="1084" y="523.5" font-size="29.2" text-anchor="middle">Wavelength [nm]</text>
<text transform="translate(730 245.4) rotate(-90)" font-size="29" text-anchor="middle">Power [dBm]</text>
<text x="705.5" y="44.7" font-size="42" font-weight="bold">b</text>
<text transform="translate(827.5 95.8) scale(1 1.045)" font-size="42.5" fill="#0b72c4" stroke="#0b72c4" stroke-width="0.5">S</text>
<text transform="translate(995 95.8) scale(1 1.045)" font-size="42.5" fill="#0cb14b" stroke="#0cb14b" stroke-width="0.5">C</text>
<text transform="translate(1192.3 95.8) scale(1 1.045)" font-size="42.5" fill="#ff0000" stroke="#ff0000" stroke-width="0.5">L</text>
<line x1="1546.1" y1="192.89" x2="2027.5" y2="192.89" stroke="#5a5a5a" stroke-width="1.8" stroke-dasharray="1.5 3.4"/>
<line x1="1546.1" y1="309.81" x2="2027.5" y2="309.81" stroke="#5a5a5a" stroke-width="1.8" stroke-dasharray="1.5 3.4"/>
<g fill="none" stroke-width="1.75">
<g stroke="#0000ff">
<circle cx="1552.46" cy="252.01" r="3.6"/>
<circle cx="1557.31" cy="251.23" r="3.6"/>
<circle cx="1563.47" cy="251.49" r="3.6"/>
<circle cx="1570.9" cy="250.92" r="3.6"/>
<circle cx="1575.4" cy="250.79" r="3.6"/>
<circle cx="1581.69" cy="251.07" r="3.6"/>
<circle cx="1588.41" cy="251.56" r="3.6"/>
<circle cx="1594.09" cy="251.34" r="3.6"/>
<circle cx="1599.73" cy="251.38" r="3.6"/>
<circle cx="1606.66" cy="251.64" r="3.6"/>
<circle cx="1612.45" cy="251.4" r="3.6"/>
<circle cx="1618.16" cy="251.17" r="3.6"/>
<circle cx="1624.95" cy="251.22" r="3.6"/>
<circle cx="1630.39" cy="250.72" r="3.6"/>
<circle cx="1636.34" cy="251.32" r="3.6"/>
<circle cx="1643.5" cy="252.15" r="3.6"/>
<circle cx="1648.37" cy="251.74" r="3.6"/>
<circle cx="1654.8" cy="251.34" r="3.6"/>
<circle cx="1662.12" cy="251.29" r="3.6"/>
<circle cx="1666.27" cy="251.63" r="3.6"/>
<circle cx="1673.23" cy="251.29" r="3.6"/>
<circle cx="1680.25" cy="250.7" r="3.6"/>
<circle cx="1684.95" cy="251.56" r="3.6"/>
<circle cx="1691.36" cy="252.03" r="3.6"/>
<circle cx="1697.76" cy="251.85" r="3.6"/>
<circle cx="1703.24" cy="251.17" r="3.6"/>
<circle cx="1708.88" cy="251.07" r="3.6"/>
<circle cx="1716.33" cy="251.07" r="3.6"/>
<circle cx="1721.71" cy="251.02" r="3.6"/>
<circle cx="1726.96" cy="252.33" r="3.6"/>
<circle cx="1734.14" cy="251.21" r="3.6"/>
<circle cx="1739.3" cy="250.38" r="3.6"/>
<circle cx="1745.76" cy="251.97" r="3.6"/>
<circle cx="1752.53" cy="251.22" r="3.6"/>
<circle cx="1757.97" cy="251.55" r="3.6"/>
<circle cx="1763.94" cy="250.89" r="3.6"/>
<circle cx="1771.34" cy="251.16" r="3.6"/>
<circle cx="1775.52" cy="251.24" r="3.6"/>
<circle cx="1781.89" cy="251.14" r="3.6"/>
<circle cx="1788.86" cy="251.92" r="3.6"/>
<circle cx="1794.07" cy="250.67" r="3.6"/>
<circle cx="1799.85" cy="251.44" r="3.6"/>
<circle cx="1806.85" cy="250.93" r="3.6"/>
<circle cx="1812.17" cy="251.3" r="3.6"/>
<circle cx="1818.47" cy="250.82" r="3.6"/>
<circle cx="1825.56" cy="251.17" r="3.6"/>
<circle cx="1830.44" cy="250.94" r="3.6"/>
<circle cx="1837" cy="250.87" r="3.6"/>
<circle cx="1843.25" cy="251.43" r="3.6"/>
<circle cx="1849.16" cy="252.2" r="3.6"/>
<circle cx="1855.12" cy="250.91" r="3.6"/>
<circle cx="1862.11" cy="250.38" r="3.6"/>
<circle cx="1866.62" cy="251.3" r="3.6"/>
<circle cx="1872.92" cy="250.99" r="3.6"/>
<circle cx="1880.18" cy="250.82" r="3.6"/>
<circle cx="1884.94" cy="252.42" r="3.6"/>
<circle cx="1891.25" cy="252.71" r="3.6"/>
<circle cx="1898.54" cy="250.17" r="3.6"/>
<circle cx="1903.54" cy="250.72" r="3.6"/>
<circle cx="1908.93" cy="251.38" r="3.6"/>
<circle cx="1916.56" cy="252.29" r="3.6"/>
<circle cx="1921.68" cy="250.86" r="3.6"/>
<circle cx="1927.35" cy="251.41" r="3.6"/>
<circle cx="1935.14" cy="251.96" r="3.6"/>
<circle cx="1939.86" cy="250.88" r="3.6"/>
<circle cx="1945.67" cy="251.6" r="3.6"/>
<circle cx="1952.76" cy="251.75" r="3.6"/>
<circle cx="1957.85" cy="250.56" r="3.6"/>
<circle cx="1964.37" cy="250.77" r="3.6"/>
<circle cx="1971.07" cy="251.82" r="3.6"/>
<circle cx="1975.93" cy="252.2" r="3.6"/>
<circle cx="1982.45" cy="251.5" r="3.6"/>
<circle cx="1989.18" cy="251.69" r="3.6"/>
<circle cx="1993.93" cy="250.61" r="3.6"/>
<circle cx="2000.33" cy="251.37" r="3.6"/>
<circle cx="2007.67" cy="251.19" r="3.6"/>
<circle cx="2012.87" cy="251.56" r="3.6"/>
<circle cx="2018.54" cy="250.83" r="3.6"/>
<circle cx="2025.38" cy="251.65" r="3.6"/>
<circle cx="2030.62" cy="250.53" r="3.6"/>
</g>
<g stroke="#000000">
<rect x="1549.12" y="252.33" width="6.2" height="6.2"/>
<rect x="1549.05" y="248.49" width="6.2" height="6.2"/>
<rect x="1554.92" y="252.67" width="6.2" height="6.2"/>
<rect x="1554.89" y="255.16" width="6.2" height="6.2"/>
<rect x="1560.33" y="241.5" width="6.2" height="6.2"/>
<rect x="1567.08" y="251.6" width="6.2" height="6.2"/>
<rect x="1567.75" y="256.31" width="6.2" height="6.2"/>
<rect x="1578.25" y="248.44" width="6.2" height="6.2"/>
<rect x="1590.53" y="247.64" width="6.2" height="6.2"/>
<rect x="1591.32" y="246.95" width="6.2" height="6.2"/>
<rect x="1603.89" y="249.48" width="6.2" height="6.2"/>
<rect x="1604.01" y="262.64" width="6.2" height="6.2"/>
<rect x="1609" y="245.25" width="6.2" height="6.2"/>
<rect x="1609.32" y="243.43" width="6.2" height="6.2"/>
<rect x="1615.53" y="250.94" width="6.2" height="6.2"/>
<rect x="1614.61" y="248.44" width="6.2" height="6.2"/>
<rect x="1621.82" y="242.24" width="6.2" height="6.2"/>
<rect x="1621.71" y="271.08" width="6.2" height="6.2"/>
<rect x="1633.76" y="219.59" width="6.2" height="6.2"/>
<rect x="1633.73" y="249.71" width="6.2" height="6.2"/>
<rect x="1640.19" y="248.36" width="6.2" height="6.2"/>
<rect x="1640.71" y="235.15" width="6.2" height="6.2"/>
<rect x="1645.06" y="230.04" width="6.2" height="6.2"/>
<rect x="1658.87" y="290.34" width="6.2" height="6.2"/>
<rect x="1663.36" y="250.1" width="6.2" height="6.2"/>
<rect x="1664.09" y="251.75" width="6.2" height="6.2"/>
<rect x="1669.29" y="209.14" width="6.2" height="6.2"/>
<rect x="1676.86" y="234.57" width="6.2" height="6.2"/>
<rect x="1681.33" y="258.03" width="6.2" height="6.2"/>
<rect x="1681.59" y="252.09" width="6.2" height="6.2"/>
<rect x="1687.9" y="239.58" width="6.2" height="6.2"/>
<rect x="1694.71" y="265.77" width="6.2" height="6.2"/>
<rect x="1694.56" y="238.24" width="6.2" height="6.2"/>
<rect x="1699.72" y="245.44" width="6.2" height="6.2"/>
<rect x="1700.36" y="259.33" width="6.2" height="6.2"/>
<rect x="1705.94" y="214.98" width="6.2" height="6.2"/>
<rect x="1705.99" y="243.91" width="6.2" height="6.2"/>
<rect x="1713.57" y="237.35" width="6.2" height="6.2"/>
<rect x="1713.47" y="237.08" width="6.2" height="6.2"/>
<rect x="1718.34" y="240.56" width="6.2" height="6.2"/>
<rect x="1718.71" y="253.7" width="6.2" height="6.2"/>
<rect x="1723.86" y="258.76" width="6.2" height="6.2"/>
<rect x="1731.02" y="253.16" width="6.2" height="6.2"/>
<rect x="1731.68" y="262.06" width="6.2" height="6.2"/>
<rect x="1742.96" y="230.05" width="6.2" height="6.2"/>
<rect x="1749.09" y="244.06" width="6.2" height="6.2"/>
<rect x="1749.2" y="234.98" width="6.2" height="6.2"/>
<rect x="1754.7" y="235.6" width="6.2" height="6.2"/>
<rect x="1754.35" y="252.74" width="6.2" height="6.2"/>
<rect x="1761.15" y="190.11" width="6.2" height="6.2"/>
<rect x="1761.06" y="235.68" width="6.2" height="6.2"/>
<rect x="1767.93" y="276.57" width="6.2" height="6.2"/>
<rect x="1768.02" y="246.34" width="6.2" height="6.2"/>
<rect x="1772.82" y="256.03" width="6.2" height="6.2"/>
<rect x="1772.53" y="244.47" width="6.2" height="6.2"/>
<rect x="1778.53" y="239.58" width="6.2" height="6.2"/>
<rect x="1778.44" y="237.57" width="6.2" height="6.2"/>
<rect x="1785.77" y="282.48" width="6.2" height="6.2"/>
<rect x="1785.67" y="255.07" width="6.2" height="6.2"/>
<rect x="1791.12" y="233.36" width="6.2" height="6.2"/>
<rect x="1796.87" y="220.59" width="6.2" height="6.2"/>
<rect x="1797.44" y="215.8" width="6.2" height="6.2"/>
<rect x="1804.11" y="293.47" width="6.2" height="6.2"/>
<rect x="1804.3" y="251.41" width="6.2" height="6.2"/>
<rect x="1809.73" y="235.38" width="6.2" height="6.2"/>
<rect x="1808.76" y="240.39" width="6.2" height="6.2"/>
<rect x="1815.44" y="251.57" width="6.2" height="6.2"/>
<rect x="1815.31" y="249.6" width="6.2" height="6.2"/>
<rect x="1822.52" y="251.34" width="6.2" height="6.2"/>
<rect x="1822.46" y="250.23" width="6.2" height="6.2"/>
<rect x="1827.2" y="231.35" width="6.2" height="6.2"/>
<rect x="1841" y="272.26" width="6.2" height="6.2"/>
<rect x="1840.31" y="243.01" width="6.2" height="6.2"/>
<rect x="1845.76" y="254.29" width="6.2" height="6.2"/>
<rect x="1852.06" y="241.71" width="6.2" height="6.2"/>
<rect x="1851.22" y="210.5" width="6.2" height="6.2"/>
<rect x="1858.3" y="275.48" width="6.2" height="6.2"/>
<rect x="1859.1" y="264.01" width="6.2" height="6.2"/>
<rect x="1863.35" y="244.48" width="6.2" height="6.2"/>
<rect x="1864.17" y="254.94" width="6.2" height="6.2"/>
<rect x="1869.63" y="237.74" width="6.2" height="6.2"/>
<rect x="1869.88" y="230.7" width="6.2" height="6.2"/>
<rect x="1876.58" y="267.65" width="6.2" height="6.2"/>
<rect x="1876.69" y="251.18" width="6.2" height="6.2"/>
<rect x="1888.13" y="234.1" width="6.2" height="6.2"/>
<rect x="1895.33" y="266.75" width="6.2" height="6.2"/>
<rect x="1900.24" y="241.77" width="6.2" height="6.2"/>
<rect x="1900.63" y="239.53" width="6.2" height="6.2"/>
<rect x="1906.73" y="238.68" width="6.2" height="6.2"/>
<rect x="1913.39" y="250.12" width="6.2" height="6.2"/>
<rect x="1918.35" y="237.37" width="6.2" height="6.2"/>
<rect x="1918.27" y="247.04" width="6.2" height="6.2"/>
<rect x="1924.57" y="230.8" width="6.2" height="6.2"/>
<rect x="1931.13" y="234.41" width="6.2" height="6.2"/>
<rect x="1936.71" y="240.68" width="6.2" height="6.2"/>
<rect x="1949.79" y="237.5" width="6.2" height="6.2"/>
<rect x="1950.03" y="282.43" width="6.2" height="6.2"/>
<rect x="1955.26" y="226.36" width="6.2" height="6.2"/>
<rect x="1961.16" y="234.13" width="6.2" height="6.2"/>
<rect x="1961.31" y="233.59" width="6.2" height="6.2"/>
<rect x="1967.96" y="254.67" width="6.2" height="6.2"/>
<rect x="1979.2" y="245.52" width="6.2" height="6.2"/>
<rect x="1978.87" y="213.48" width="6.2" height="6.2"/>
<rect x="1986.12" y="255.5" width="6.2" height="6.2"/>
<rect x="1991.47" y="234.01" width="6.2" height="6.2"/>
<rect x="1997.7" y="230.08" width="6.2" height="6.2"/>
<rect x="1997.16" y="236.61" width="6.2" height="6.2"/>
<rect x="2004.2" y="254.02" width="6.2" height="6.2"/>
<rect x="2009.8" y="244.05" width="6.2" height="6.2"/>
<rect x="2009.59" y="235.59" width="6.2" height="6.2"/>
<rect x="2015.25" y="214.36" width="6.2" height="6.2"/>
<rect x="2022.16" y="240.43" width="6.2" height="6.2"/>
<rect x="2022.32" y="240.54" width="6.2" height="6.2"/>
<rect x="2027.78" y="233.54" width="6.2" height="6.2"/>
</g>
<g stroke="#00ff00">
<path d="M1552.25 257.48l3.5 4.9l-3.5 4.9l-3.5 -4.9z"/>
<path d="M1552.95 251.2l3.5 4.9l-3.5 4.9l-3.5 -4.9z"/>
<path d="M1564.07 244.91l3.5 4.9l-3.5 4.9l-3.5 -4.9z"/>
<path d="M1563.2 240.08l3.5 4.9l-3.5 4.9l-3.5 -4.9z"/>
<path d="M1575.72 245.92l3.5 4.9l-3.5 4.9l-3.5 -4.9z"/>
<path d="M1582.3 234.17l3.5 4.9l-3.5 4.9l-3.5 -4.9z"/>
<path d="M1582.23 242.57l3.5 4.9l-3.5 4.9l-3.5 -4.9z"/>
<path d="M1588.63 253.95l3.5 4.9l-3.5 4.9l-3.5 -4.9z"/>
<path d="M1589.14 245.65l3.5 4.9l-3.5 4.9l-3.5 -4.9z"/>
<path d="M1594.36 248.57l3.5 4.9l-3.5 4.9l-3.5 -4.9z"/>
<path d="M1593.5 246.79l3.5 4.9l-3.5 4.9l-3.5 -4.9z"/>
<path d="M1600.05 247.86l3.5 4.9l-3.5 4.9l-3.5 -4.9z"/>
<path d="M1607.16 253.72l3.5 4.9l-3.5 4.9l-3.5 -4.9z"/>
<path d="M1612.11 245.14l3.5 4.9l-3.5 4.9l-3.5 -4.9z"/>
<path d="M1612.44 241.1l3.5 4.9l-3.5 4.9l-3.5 -4.9z"/>
<path d="M1618 228.46l3.5 4.9l-3.5 4.9l-3.5 -4.9z"/>
<path d="M1625.08 261.95l3.5 4.9l-3.5 4.9l-3.5 -4.9z"/>
<path d="M1624.8 273.77l3.5 4.9l-3.5 4.9l-3.5 -4.9z"/>
<path d="M1630.12 235.09l3.5 4.9l-3.5 4.9l-3.5 -4.9z"/>
<path d="M1636.01 239.71l3.5 4.9l-3.5 4.9l-3.5 -4.9z"/>
<path d="M1643.01 233.15l3.5 4.9l-3.5 4.9l-3.5 -4.9z"/>
<path d="M1648.31 248.97l3.5 4.9l-3.5 4.9l-3.5 -4.9z"/>
<path d="M1648.06 254.45l3.5 4.9l-3.5 4.9l-3.5 -4.9z"/>
<path d="M1654.16 236.07l3.5 4.9l-3.5 4.9l-3.5 -4.9z"/>
<path d="M1661.6 248.56l3.5 4.9l-3.5 4.9l-3.5 -4.9z"/>
<path d="M1661.7 268.49l3.5 4.9l-3.5 4.9l-3.5 -4.9z"/>
<path d="M1666.86 236.67l3.5 4.9l-3.5 4.9l-3.5 -4.9z"/>
<path d="M1672.39 234.57l3.5 4.9l-3.5 4.9l-3.5 -4.9z"/>
<path d="M1679.43 238.08l3.5 4.9l-3.5 4.9l-3.5 -4.9z"/>
<path d="M1679.48 273.04l3.5 4.9l-3.5 4.9l-3.5 -4.9z"/>
<path d="M1684.7 249.89l3.5 4.9l-3.5 4.9l-3.5 -4.9z"/>
<path d="M1684.87 242.73l3.5 4.9l-3.5 4.9l-3.5 -4.9z"/>
<path d="M1691.22 255.7l3.5 4.9l-3.5 4.9l-3.5 -4.9z"/>
<path d="M1691.02 227.95l3.5 4.9l-3.5 4.9l-3.5 -4.9z"/>
<path d="M1697.8 282.12l3.5 4.9l-3.5 4.9l-3.5 -4.9z"/>
<path d="M1698.32 269.61l3.5 4.9l-3.5 4.9l-3.5 -4.9z"/>
<path d="M1702.81 233.68l3.5 4.9l-3.5 4.9l-3.5 -4.9z"/>
<path d="M1709.11 256.63l3.5 4.9l-3.5 4.9l-3.5 -4.9z"/>
<path d="M1709.63 230.58l3.5 4.9l-3.5 4.9l-3.5 -4.9z"/>
<path d="M1716.25 237.67l3.5 4.9l-3.5 4.9l-3.5 -4.9z"/>
<path d="M1715.85 266.13l3.5 4.9l-3.5 4.9l-3.5 -4.9z"/>
<path d="M1727.62 183.45l3.5 4.9l-3.5 4.9l-3.5 -4.9z"/>
<path d="M1727.04 235.75l3.5 4.9l-3.5 4.9l-3.5 -4.9z"/>
<path d="M1734.53 251.42l3.5 4.9l-3.5 4.9l-3.5 -4.9z"/>
<path d="M1739.45 254.15l3.5 4.9l-3.5 4.9l-3.5 -4.9z"/>
<path d="M1745.24 238.64l3.5 4.9l-3.5 4.9l-3.5 -4.9z"/>
<path d="M1752.39 232.81l3.5 4.9l-3.5 4.9l-3.5 -4.9z"/>
<path d="M1752.91 258.3l3.5 4.9l-3.5 4.9l-3.5 -4.9z"/>
<path d="M1758.21 247.28l3.5 4.9l-3.5 4.9l-3.5 -4.9z"/>
<path d="M1757.85 248.74l3.5 4.9l-3.5 4.9l-3.5 -4.9z"/>
<path d="M1763.87 234.84l3.5 4.9l-3.5 4.9l-3.5 -4.9z"/>
<path d="M1764.21 235.54l3.5 4.9l-3.5 4.9l-3.5 -4.9z"/>
<path d="M1771.08 248.29l3.5 4.9l-3.5 4.9l-3.5 -4.9z"/>
<path d="M1770.37 274.98l3.5 4.9l-3.5 4.9l-3.5 -4.9z"/>
<path d="M1776.33 244.97l3.5 4.9l-3.5 4.9l-3.5 -4.9z"/>
<path d="M1775.56 246.23l3.5 4.9l-3.5 4.9l-3.5 -4.9z"/>
<path d="M1781.6 213.15l3.5 4.9l-3.5 4.9l-3.5 -4.9z"/>
<path d="M1789.42 243.07l3.5 4.9l-3.5 4.9l-3.5 -4.9z"/>
<path d="M1789.06 258.53l3.5 4.9l-3.5 4.9l-3.5 -4.9z"/>
<path d="M1794.5 256.54l3.5 4.9l-3.5 4.9l-3.5 -4.9z"/>
<path d="M1794.08 226.32l3.5 4.9l-3.5 4.9l-3.5 -4.9z"/>
<path d="M1800.14 246.67l3.5 4.9l-3.5 4.9l-3.5 -4.9z"/>
<path d="M1807.02 277.8l3.5 4.9l-3.5 4.9l-3.5 -4.9z"/>
<path d="M1812.54 243.87l3.5 4.9l-3.5 4.9l-3.5 -4.9z"/>
<path d="M1812.78 234.83l3.5 4.9l-3.5 4.9l-3.5 -4.9z"/>
<path d="M1818.28 215.8l3.5 4.9l-3.5 4.9l-3.5 -4.9z"/>
<path d="M1818.02 247.05l3.5 4.9l-3.5 4.9l-3.5 -4.9z"/>
<path d="M1825.74 284.88l3.5 4.9l-3.5 4.9l-3.5 -4.9z"/>
<path d="M1825.66 230.83l3.5 4.9l-3.5 4.9l-3.5 -4.9z"/>
<path d="M1830.24 240.17l3.5 4.9l-3.5 4.9l-3.5 -4.9z"/>
<path d="M1830.38 237.97l3.5 4.9l-3.5 4.9l-3.5 -4.9z"/>
<path d="M1837.01 212.62l3.5 4.9l-3.5 4.9l-3.5 -4.9z"/>
<path d="M1837.07 249.91l3.5 4.9l-3.5 4.9l-3.5 -4.9z"/>
<path d="M1843.28 239.52l3.5 4.9l-3.5 4.9l-3.5 -4.9z"/>
<path d="M1848.72 229.49l3.5 4.9l-3.5 4.9l-3.5 -4.9z"/>
<path d="M1849.08 233.82l3.5 4.9l-3.5 4.9l-3.5 -4.9z"/>
<path d="M1854.74 245.63l3.5 4.9l-3.5 4.9l-3.5 -4.9z"/>
<path d="M1862.29 269l3.5 4.9l-3.5 4.9l-3.5 -4.9z"/>
<path d="M1866.88 251.81l3.5 4.9l-3.5 4.9l-3.5 -4.9z"/>
<path d="M1873.37 213.78l3.5 4.9l-3.5 4.9l-3.5 -4.9z"/>
<path d="M1873.49 244.37l3.5 4.9l-3.5 4.9l-3.5 -4.9z"/>
<path d="M1891.64 236.34l3.5 4.9l-3.5 4.9l-3.5 -4.9z"/>
<path d="M1898.16 250.36l3.5 4.9l-3.5 4.9l-3.5 -4.9z"/>
<path d="M1903.54 239.09l3.5 4.9l-3.5 4.9l-3.5 -4.9z"/>
<path d="M1908.99 227.46l3.5 4.9l-3.5 4.9l-3.5 -4.9z"/>
<path d="M1916.55 235.79l3.5 4.9l-3.5 4.9l-3.5 -4.9z"/>
<path d="M1921.49 231.11l3.5 4.9l-3.5 4.9l-3.5 -4.9z"/>
<path d="M1928 216.88l3.5 4.9l-3.5 4.9l-3.5 -4.9z"/>
<path d="M1927.81 239.53l3.5 4.9l-3.5 4.9l-3.5 -4.9z"/>
<path d="M1934.76 257.03l3.5 4.9l-3.5 4.9l-3.5 -4.9z"/>
<path d="M1934.39 256.59l3.5 4.9l-3.5 4.9l-3.5 -4.9z"/>
<path d="M1939.46 239.09l3.5 4.9l-3.5 4.9l-3.5 -4.9z"/>
<path d="M1946.29 224.98l3.5 4.9l-3.5 4.9l-3.5 -4.9z"/>
<path d="M1945.69 238.42l3.5 4.9l-3.5 4.9l-3.5 -4.9z"/>
<path d="M1952.76 231.29l3.5 4.9l-3.5 4.9l-3.5 -4.9z"/>
<path d="M1953.34 229.11l3.5 4.9l-3.5 4.9l-3.5 -4.9z"/>
<path d="M1958.12 235.81l3.5 4.9l-3.5 4.9l-3.5 -4.9z"/>
<path d="M1958.08 243.98l3.5 4.9l-3.5 4.9l-3.5 -4.9z"/>
<path d="M1964.31 234.13l3.5 4.9l-3.5 4.9l-3.5 -4.9z"/>
<path d="M1963.77 219l3.5 4.9l-3.5 4.9l-3.5 -4.9z"/>
<path d="M1971.25 258.1l3.5 4.9l-3.5 4.9l-3.5 -4.9z"/>
<path d="M1970.91 233.71l3.5 4.9l-3.5 4.9l-3.5 -4.9z"/>
<path d="M1982.68 240.14l3.5 4.9l-3.5 4.9l-3.5 -4.9z"/>
<path d="M1981.81 235.84l3.5 4.9l-3.5 4.9l-3.5 -4.9z"/>
<path d="M1989.62 254.23l3.5 4.9l-3.5 4.9l-3.5 -4.9z"/>
<path d="M1989.18 239.77l3.5 4.9l-3.5 4.9l-3.5 -4.9z"/>
<path d="M1994.47 235.65l3.5 4.9l-3.5 4.9l-3.5 -4.9z"/>
<path d="M1994.31 225.42l3.5 4.9l-3.5 4.9l-3.5 -4.9z"/>
<path d="M2007.09 228.13l3.5 4.9l-3.5 4.9l-3.5 -4.9z"/>
<path d="M2012.21 242.94l3.5 4.9l-3.5 4.9l-3.5 -4.9z"/>
<path d="M2018.39 235.45l3.5 4.9l-3.5 4.9l-3.5 -4.9z"/>
<path d="M2025.3 235.16l3.5 4.9l-3.5 4.9l-3.5 -4.9z"/>
<path d="M2025.37 238.2l3.5 4.9l-3.5 4.9l-3.5 -4.9z"/>
<path d="M2030.64 227.39l3.5 4.9l-3.5 4.9l-3.5 -4.9z"/>
</g>
<g stroke="#000000">
<circle cx="1552.9" cy="260.31" r="3.6"/>
<circle cx="1557.93" cy="251.57" r="3.6"/>
<circle cx="1563.52" cy="245.46" r="3.6"/>
<circle cx="1570.19" cy="256.97" r="3.6"/>
<circle cx="1576.05" cy="246.8" r="3.6"/>
<circle cx="1581.96" cy="244.08" r="3.6"/>
<circle cx="1588.71" cy="250.5" r="3.6"/>
<circle cx="1593.71" cy="246.68" r="3.6"/>
<circle cx="1600.01" cy="236.12" r="3.6"/>
<circle cx="1607.23" cy="252.5" r="3.6"/>
<circle cx="1607.31" cy="255.43" r="3.6"/>
<circle cx="1612.27" cy="255.16" r="3.6"/>
<circle cx="1617.75" cy="246.43" r="3.6"/>
<circle cx="1618.27" cy="238.79" r="3.6"/>
<circle cx="1630.28" cy="251.83" r="3.6"/>
<circle cx="1630.34" cy="247.63" r="3.6"/>
<circle cx="1636.32" cy="233.33" r="3.6"/>
<circle cx="1643.28" cy="245.99" r="3.6"/>
<circle cx="1648.16" cy="244.02" r="3.6"/>
<circle cx="1648.48" cy="248.32" r="3.6"/>
<circle cx="1654.81" cy="220.18" r="3.6"/>
<circle cx="1661.23" cy="256.6" r="3.6"/>
<circle cx="1661.84" cy="248.92" r="3.6"/>
<circle cx="1667.17" cy="238.7" r="3.6"/>
<circle cx="1666.55" cy="260.63" r="3.6"/>
<circle cx="1673.28" cy="232.25" r="3.6"/>
<circle cx="1679.59" cy="239.44" r="3.6"/>
<circle cx="1684.86" cy="239.18" r="3.6"/>
<circle cx="1698.14" cy="252.05" r="3.6"/>
<circle cx="1697.69" cy="251.17" r="3.6"/>
<circle cx="1703.62" cy="252.59" r="3.6"/>
<circle cx="1703.37" cy="252.65" r="3.6"/>
<circle cx="1709.62" cy="239.76" r="3.6"/>
<circle cx="1716.33" cy="249.29" r="3.6"/>
<circle cx="1721.48" cy="243.44" r="3.6"/>
<circle cx="1721.75" cy="249.33" r="3.6"/>
<circle cx="1727.81" cy="258.54" r="3.6"/>
<circle cx="1727.07" cy="246.53" r="3.6"/>
<circle cx="1739.1" cy="234.56" r="3.6"/>
<circle cx="1739.09" cy="240.53" r="3.6"/>
<circle cx="1745.34" cy="212.51" r="3.6"/>
<circle cx="1745.49" cy="224.1" r="3.6"/>
<circle cx="1752.8" cy="284.74" r="3.6"/>
<circle cx="1752.24" cy="251.87" r="3.6"/>
<circle cx="1757.77" cy="238.07" r="3.6"/>
<circle cx="1758.16" cy="248.99" r="3.6"/>
<circle cx="1763.68" cy="194.76" r="3.6"/>
<circle cx="1776.42" cy="261.95" r="3.6"/>
<circle cx="1776.15" cy="239.61" r="3.6"/>
<circle cx="1782.07" cy="231.39" r="3.6"/>
<circle cx="1788.6" cy="285.49" r="3.6"/>
<circle cx="1789.5" cy="255.88" r="3.6"/>
<circle cx="1794.41" cy="243.53" r="3.6"/>
<circle cx="1800" cy="248.07" r="3.6"/>
<circle cx="1807.22" cy="276.29" r="3.6"/>
<circle cx="1811.86" cy="255.41" r="3.6"/>
<circle cx="1812.48" cy="238.12" r="3.6"/>
<circle cx="1818.19" cy="240.61" r="3.6"/>
<circle cx="1818.35" cy="263.35" r="3.6"/>
<circle cx="1825.17" cy="251.26" r="3.6"/>
<circle cx="1825.5" cy="277.53" r="3.6"/>
<circle cx="1830.1" cy="251.92" r="3.6"/>
<circle cx="1836.77" cy="256.79" r="3.6"/>
<circle cx="1843.89" cy="241.37" r="3.6"/>
<circle cx="1849.23" cy="236.79" r="3.6"/>
<circle cx="1848.88" cy="266.52" r="3.6"/>
<circle cx="1854.39" cy="263.37" r="3.6"/>
<circle cx="1862.34" cy="244.84" r="3.6"/>
<circle cx="1866.71" cy="245.68" r="3.6"/>
<circle cx="1866.63" cy="243.87" r="3.6"/>
<circle cx="1873.39" cy="227.75" r="3.6"/>
<circle cx="1879.81" cy="267.68" r="3.6"/>
<circle cx="1880.13" cy="258.11" r="3.6"/>
<circle cx="1884.78" cy="238.8" r="3.6"/>
<circle cx="1885.63" cy="241.01" r="3.6"/>
<circle cx="1890.81" cy="240.32" r="3.6"/>
<circle cx="1891.16" cy="240.84" r="3.6"/>
<circle cx="1898.29" cy="279.31" r="3.6"/>
<circle cx="1897.78" cy="246.4" r="3.6"/>
<circle cx="1903.56" cy="237.2" r="3.6"/>
<circle cx="1903.47" cy="242.49" r="3.6"/>
<circle cx="1909.71" cy="232.92" r="3.6"/>
<circle cx="1916.48" cy="254.96" r="3.6"/>
<circle cx="1916.75" cy="262.34" r="3.6"/>
<circle cx="1927.41" cy="254.88" r="3.6"/>
<circle cx="1934.43" cy="231.99" r="3.6"/>
<circle cx="1939.91" cy="250.08" r="3.6"/>
<circle cx="1939.25" cy="240.5" r="3.6"/>
<circle cx="1945.71" cy="238.72" r="3.6"/>
<circle cx="1946.15" cy="242.34" r="3.6"/>
<circle cx="1953.32" cy="276.9" r="3.6"/>
<circle cx="1952.62" cy="230.62" r="3.6"/>
<circle cx="1957.6" cy="250.13" r="3.6"/>
<circle cx="1963.96" cy="220.83" r="3.6"/>
<circle cx="1964.09" cy="251.99" r="3.6"/>
<circle cx="1971.51" cy="264.07" r="3.6"/>
<circle cx="1970.59" cy="265.97" r="3.6"/>
<circle cx="1976.45" cy="247.82" r="3.6"/>
<circle cx="1982.53" cy="220.69" r="3.6"/>
<circle cx="1982.26" cy="243.37" r="3.6"/>
<circle cx="1989.64" cy="261.63" r="3.6"/>
<circle cx="1994.74" cy="245.73" r="3.6"/>
<circle cx="2000.15" cy="233.14" r="3.6"/>
<circle cx="2000.38" cy="234.88" r="3.6"/>
<circle cx="2007.32" cy="260.99" r="3.6"/>
<circle cx="2007.92" cy="236.53" r="3.6"/>
<circle cx="2012.64" cy="237.71" r="3.6"/>
<circle cx="2012.69" cy="248.87" r="3.6"/>
<circle cx="2018.47" cy="228" r="3.6"/>
<circle cx="2018.73" cy="235.45" r="3.6"/>
<circle cx="2026.05" cy="235.13" r="3.6"/>
<circle cx="2025.81" cy="240.73" r="3.6"/>
<circle cx="2030.35" cy="243.67" r="3.6"/>
<circle cx="2030.68" cy="234.86" r="3.6"/>
</g>
<g stroke="#ff0000">
<path d="M1552.79 254.26l4.3 7.6h-8.6z"/>
<path d="M1552.31 249.83l4.3 7.6h-8.6z"/>
<path d="M1557.15 250.78l4.3 7.6h-8.6z"/>
<path d="M1557.42 243.67l4.3 7.6h-8.6z"/>
<path d="M1563.43 240.78l4.3 7.6h-8.6z"/>
<path d="M1563.38 240.73l4.3 7.6h-8.6z"/>
<path d="M1570.96 243.99l4.3 7.6h-8.6z"/>
<path d="M1575.78 248.09l4.3 7.6h-8.6z"/>
<path d="M1575.48 245.74l4.3 7.6h-8.6z"/>
<path d="M1581.38 246.53l4.3 7.6h-8.6z"/>
<path d="M1581.72 237.96l4.3 7.6h-8.6z"/>
<path d="M1589.1 254.36l4.3 7.6h-8.6z"/>
<path d="M1594.05 247.43l4.3 7.6h-8.6z"/>
<path d="M1600.41 232.3l4.3 7.6h-8.6z"/>
<path d="M1599.69 249.75l4.3 7.6h-8.6z"/>
<path d="M1607.03 244.77l4.3 7.6h-8.6z"/>
<path d="M1607.45 254.02l4.3 7.6h-8.6z"/>
<path d="M1612.02 239.08l4.3 7.6h-8.6z"/>
<path d="M1617.77 248.87l4.3 7.6h-8.6z"/>
<path d="M1618.38 243l4.3 7.6h-8.6z"/>
<path d="M1625.69 285.47l4.3 7.6h-8.6z"/>
<path d="M1630.19 242.14l4.3 7.6h-8.6z"/>
<path d="M1629.87 246.87l4.3 7.6h-8.6z"/>
<path d="M1635.93 252.91l4.3 7.6h-8.6z"/>
<path d="M1636.54 234.53l4.3 7.6h-8.6z"/>
<path d="M1643.32 276.19l4.3 7.6h-8.6z"/>
<path d="M1643.56 249.65l4.3 7.6h-8.6z"/>
<path d="M1648.61 240.42l4.3 7.6h-8.6z"/>
<path d="M1648.33 254.33l4.3 7.6h-8.6z"/>
<path d="M1661.3 235.26l4.3 7.6h-8.6z"/>
<path d="M1662.03 256.31l4.3 7.6h-8.6z"/>
<path d="M1666.69 235.26l4.3 7.6h-8.6z"/>
<path d="M1673.11 211.88l4.3 7.6h-8.6z"/>
<path d="M1680.21 255.3l4.3 7.6h-8.6z"/>
<path d="M1680.32 265.05l4.3 7.6h-8.6z"/>
<path d="M1685.19 255.61l4.3 7.6h-8.6z"/>
<path d="M1691.21 205.79l4.3 7.6h-8.6z"/>
<path d="M1698.35 233.92l4.3 7.6h-8.6z"/>
<path d="M1703.15 233.97l4.3 7.6h-8.6z"/>
<path d="M1709.27 211.13l4.3 7.6h-8.6z"/>
<path d="M1708.97 250.31l4.3 7.6h-8.6z"/>
<path d="M1721.51 234.26l4.3 7.6h-8.6z"/>
<path d="M1721.68 243.27l4.3 7.6h-8.6z"/>
<path d="M1734.13 260.31l4.3 7.6h-8.6z"/>
<path d="M1734.55 242l4.3 7.6h-8.6z"/>
<path d="M1739.22 240.52l4.3 7.6h-8.6z"/>
<path d="M1739.96 254.58l4.3 7.6h-8.6z"/>
<path d="M1745.19 208.07l4.3 7.6h-8.6z"/>
<path d="M1746.04 252.46l4.3 7.6h-8.6z"/>
<path d="M1752.66 260.73l4.3 7.6h-8.6z"/>
<path d="M1752.92 286.2l4.3 7.6h-8.6z"/>
<path d="M1763.95 184.75l4.3 7.6h-8.6z"/>
<path d="M1763.4 250.02l4.3 7.6h-8.6z"/>
<path d="M1770.55 233.29l4.3 7.6h-8.6z"/>
<path d="M1770.94 256.11l4.3 7.6h-8.6z"/>
<path d="M1775.49 238.97l4.3 7.6h-8.6z"/>
<path d="M1782.01 234.05l4.3 7.6h-8.6z"/>
<path d="M1788.74 284.52l4.3 7.6h-8.6z"/>
<path d="M1794.44 233.28l4.3 7.6h-8.6z"/>
<path d="M1799.73 219.78l4.3 7.6h-8.6z"/>
<path d="M1800.2 226.57l4.3 7.6h-8.6z"/>
<path d="M1807.61 232.42l4.3 7.6h-8.6z"/>
<path d="M1806.79 272.52l4.3 7.6h-8.6z"/>
<path d="M1812.81 237.91l4.3 7.6h-8.6z"/>
<path d="M1812.6 258.09l4.3 7.6h-8.6z"/>
<path d="M1818.86 227.83l4.3 7.6h-8.6z"/>
<path d="M1818.04 233.72l4.3 7.6h-8.6z"/>
<path d="M1825.06 241.63l4.3 7.6h-8.6z"/>
<path d="M1825.32 239.91l4.3 7.6h-8.6z"/>
<path d="M1830.56 254.98l4.3 7.6h-8.6z"/>
<path d="M1837.03 206.68l4.3 7.6h-8.6z"/>
<path d="M1843.25 248.53l4.3 7.6h-8.6z"/>
<path d="M1848.89 250.95l4.3 7.6h-8.6z"/>
<path d="M1854.89 209.01l4.3 7.6h-8.6z"/>
<path d="M1862.2 282.07l4.3 7.6h-8.6z"/>
<path d="M1861.46 255.65l4.3 7.6h-8.6z"/>
<path d="M1867.23 238.68l4.3 7.6h-8.6z"/>
<path d="M1872.76 249.35l4.3 7.6h-8.6z"/>
<path d="M1872.65 229.71l4.3 7.6h-8.6z"/>
<path d="M1879.99 255.97l4.3 7.6h-8.6z"/>
<path d="M1879.62 257.05l4.3 7.6h-8.6z"/>
<path d="M1884.84 231.45l4.3 7.6h-8.6z"/>
<path d="M1885.22 233.88l4.3 7.6h-8.6z"/>
<path d="M1891.21 234.77l4.3 7.6h-8.6z"/>
<path d="M1897.85 241.17l4.3 7.6h-8.6z"/>
<path d="M1902.91 245.93l4.3 7.6h-8.6z"/>
<path d="M1909.63 249.56l4.3 7.6h-8.6z"/>
<path d="M1908.94 222.79l4.3 7.6h-8.6z"/>
<path d="M1921.13 251.31l4.3 7.6h-8.6z"/>
<path d="M1921.88 237.58l4.3 7.6h-8.6z"/>
<path d="M1928.08 250.73l4.3 7.6h-8.6z"/>
<path d="M1928.09 234.25l4.3 7.6h-8.6z"/>
<path d="M1934.4 250.8l4.3 7.6h-8.6z"/>
<path d="M1939.94 234.2l4.3 7.6h-8.6z"/>
<path d="M1939.92 230.34l4.3 7.6h-8.6z"/>
<path d="M1945.6 220.44l4.3 7.6h-8.6z"/>
<path d="M1946.06 230.8l4.3 7.6h-8.6z"/>
<path d="M1953.33 233.64l4.3 7.6h-8.6z"/>
<path d="M1953.32 242.68l4.3 7.6h-8.6z"/>
<path d="M1957.94 246.68l4.3 7.6h-8.6z"/>
<path d="M1958.37 239.42l4.3 7.6h-8.6z"/>
<path d="M1963.67 227.72l4.3 7.6h-8.6z"/>
<path d="M1971.13 237.45l4.3 7.6h-8.6z"/>
<path d="M1970.87 233.13l4.3 7.6h-8.6z"/>
<path d="M1976.46 238.69l4.3 7.6h-8.6z"/>
<path d="M1976.17 229.83l4.3 7.6h-8.6z"/>
<path d="M1982.16 238.13l4.3 7.6h-8.6z"/>
<path d="M1994.74 236.87l4.3 7.6h-8.6z"/>
<path d="M1994.11 236.68l4.3 7.6h-8.6z"/>
<path d="M2007.24 256.16l4.3 7.6h-8.6z"/>
<path d="M2007.81 233.94l4.3 7.6h-8.6z"/>
<path d="M2012.51 241.97l4.3 7.6h-8.6z"/>
<path d="M2018.35 242.13l4.3 7.6h-8.6z"/>
<path d="M2018.96 227.05l4.3 7.6h-8.6z"/>
<path d="M2025.86 249.03l4.3 7.6h-8.6z"/>
<path d="M2026.13 232.27l4.3 7.6h-8.6z"/>
<path d="M2030.96 227.72l4.3 7.6h-8.6z"/>
<path d="M2030.8 235.05l4.3 7.6h-8.6z"/>
</g>
<g stroke="#000000">
<path d="M1552.44 258.56l4.3 7.6h-8.6z"/>
<path d="M1552.63 253.95l4.3 7.6h-8.6z"/>
<path d="M1557.83 243.93l4.3 7.6h-8.6z"/>
<path d="M1558 247.3l4.3 7.6h-8.6z"/>
<path d="M1564.04 241.71l4.3 7.6h-8.6z"/>
<path d="M1570.24 242.9l4.3 7.6h-8.6z"/>
<path d="M1575.44 247.42l4.3 7.6h-8.6z"/>
<path d="M1575.25 246.21l4.3 7.6h-8.6z"/>
<path d="M1581.39 244.95l4.3 7.6h-8.6z"/>
<path d="M1582.01 239.43l4.3 7.6h-8.6z"/>
<path d="M1588.44 254.22l4.3 7.6h-8.6z"/>
<path d="M1588.4 246.52l4.3 7.6h-8.6z"/>
<path d="M1593.84 245.1l4.3 7.6h-8.6z"/>
<path d="M1600.48 249.09l4.3 7.6h-8.6z"/>
<path d="M1600.34 236.09l4.3 7.6h-8.6z"/>
<path d="M1607.39 250.83l4.3 7.6h-8.6z"/>
<path d="M1611.65 246.91l4.3 7.6h-8.6z"/>
<path d="M1611.64 236.51l4.3 7.6h-8.6z"/>
<path d="M1617.91 245.35l4.3 7.6h-8.6z"/>
<path d="M1617.85 245.54l4.3 7.6h-8.6z"/>
<path d="M1624.9 288.22l4.3 7.6h-8.6z"/>
<path d="M1636.02 259.79l4.3 7.6h-8.6z"/>
<path d="M1635.91 237.25l4.3 7.6h-8.6z"/>
<path d="M1643.34 250.61l4.3 7.6h-8.6z"/>
<path d="M1648.29 238.26l4.3 7.6h-8.6z"/>
<path d="M1654.8 235.86l4.3 7.6h-8.6z"/>
<path d="M1661.31 232.38l4.3 7.6h-8.6z"/>
<path d="M1661.75 247.96l4.3 7.6h-8.6z"/>
<path d="M1666.3 230.54l4.3 7.6h-8.6z"/>
<path d="M1667.22 233.85l4.3 7.6h-8.6z"/>
<path d="M1672.75 208.81l4.3 7.6h-8.6z"/>
<path d="M1672.58 230.36l4.3 7.6h-8.6z"/>
<path d="M1679.44 258.55l4.3 7.6h-8.6z"/>
<path d="M1685.01 257.57l4.3 7.6h-8.6z"/>
<path d="M1685.36 230.11l4.3 7.6h-8.6z"/>
<path d="M1697.78 271.47l4.3 7.6h-8.6z"/>
<path d="M1709.6 209.34l4.3 7.6h-8.6z"/>
<path d="M1716.5 292.61l4.3 7.6h-8.6z"/>
<path d="M1716.15 282.11l4.3 7.6h-8.6z"/>
<path d="M1721.28 243.78l4.3 7.6h-8.6z"/>
<path d="M1726.91 233.97l4.3 7.6h-8.6z"/>
<path d="M1734.19 258.85l4.3 7.6h-8.6z"/>
<path d="M1739.05 248.02l4.3 7.6h-8.6z"/>
<path d="M1739.34 254.87l4.3 7.6h-8.6z"/>
<path d="M1745.57 247.07l4.3 7.6h-8.6z"/>
<path d="M1752.33 279.73l4.3 7.6h-8.6z"/>
<path d="M1752.18 253.25l4.3 7.6h-8.6z"/>
<path d="M1757.86 232.43l4.3 7.6h-8.6z"/>
<path d="M1763.58 212.05l4.3 7.6h-8.6z"/>
<path d="M1770.88 231.39l4.3 7.6h-8.6z"/>
<path d="M1775.71 251.89l4.3 7.6h-8.6z"/>
<path d="M1776.41 249.68l4.3 7.6h-8.6z"/>
<path d="M1781.92 219.69l4.3 7.6h-8.6z"/>
<path d="M1789.26 291.54l4.3 7.6h-8.6z"/>
<path d="M1794.18 244.49l4.3 7.6h-8.6z"/>
<path d="M1799.99 223.21l4.3 7.6h-8.6z"/>
<path d="M1800.67 227.72l4.3 7.6h-8.6z"/>
<path d="M1807.03 274.44l4.3 7.6h-8.6z"/>
<path d="M1807.17 252.67l4.3 7.6h-8.6z"/>
<path d="M1812.35 236.21l4.3 7.6h-8.6z"/>
<path d="M1812.22 256.09l4.3 7.6h-8.6z"/>
<path d="M1818.72 232.08l4.3 7.6h-8.6z"/>
<path d="M1818.27 228.29l4.3 7.6h-8.6z"/>
<path d="M1825.72 240.4l4.3 7.6h-8.6z"/>
<path d="M1830.44 237.47l4.3 7.6h-8.6z"/>
<path d="M1830.6 255.53l4.3 7.6h-8.6z"/>
<path d="M1836.19 248.92l4.3 7.6h-8.6z"/>
<path d="M1836.71 203.89l4.3 7.6h-8.6z"/>
<path d="M1843.47 235.27l4.3 7.6h-8.6z"/>
<path d="M1848.81 240l4.3 7.6h-8.6z"/>
<path d="M1848.76 249.84l4.3 7.6h-8.6z"/>
<path d="M1854.62 207.06l4.3 7.6h-8.6z"/>
<path d="M1854.36 207.64l4.3 7.6h-8.6z"/>
<path d="M1885.48 230.25l4.3 7.6h-8.6z"/>
<path d="M1891.05 240.6l4.3 7.6h-8.6z"/>
<path d="M1891.53 246.64l4.3 7.6h-8.6z"/>
<path d="M1898.22 243.2l4.3 7.6h-8.6z"/>
<path d="M1903.19 240l4.3 7.6h-8.6z"/>
<path d="M1909.64 219.26l4.3 7.6h-8.6z"/>
<path d="M1909.46 247.52l4.3 7.6h-8.6z"/>
<path d="M1916.7 265.29l4.3 7.6h-8.6z"/>
<path d="M1916.34 256.33l4.3 7.6h-8.6z"/>
<path d="M1921.6 249.19l4.3 7.6h-8.6z"/>
<path d="M1921.79 252.81l4.3 7.6h-8.6z"/>
<path d="M1927.3 233.62l4.3 7.6h-8.6z"/>
<path d="M1927.89 247.76l4.3 7.6h-8.6z"/>
<path d="M1934.17 230.31l4.3 7.6h-8.6z"/>
<path d="M1939.25 228.81l4.3 7.6h-8.6z"/>
<path d="M1945.8 231.63l4.3 7.6h-8.6z"/>
<path d="M1946.03 226.17l4.3 7.6h-8.6z"/>
<path d="M1953.23 231.94l4.3 7.6h-8.6z"/>
<path d="M1957.98 229.78l4.3 7.6h-8.6z"/>
<path d="M1957.48 243.33l4.3 7.6h-8.6z"/>
<path d="M1964.12 239.96l4.3 7.6h-8.6z"/>
<path d="M1970.72 240.62l4.3 7.6h-8.6z"/>
<path d="M1976.47 234.68l4.3 7.6h-8.6z"/>
<path d="M1976.29 227.57l4.3 7.6h-8.6z"/>
<path d="M1989.6 252.13l4.3 7.6h-8.6z"/>
<path d="M1989.19 226.96l4.3 7.6h-8.6z"/>
<path d="M1994.83 233.76l4.3 7.6h-8.6z"/>
<path d="M1994.17 226.82l4.3 7.6h-8.6z"/>
<path d="M2000.49 240.21l4.3 7.6h-8.6z"/>
<path d="M2000.3 241.22l4.3 7.6h-8.6z"/>
<path d="M2007.04 257.04l4.3 7.6h-8.6z"/>
<path d="M2007.62 233.49l4.3 7.6h-8.6z"/>
<path d="M2012.58 232.97l4.3 7.6h-8.6z"/>
<path d="M2018.62 225.66l4.3 7.6h-8.6z"/>
<path d="M2025.47 224.84l4.3 7.6h-8.6z"/>
<path d="M2025.64 250.18l4.3 7.6h-8.6z"/>
<path d="M2030.99 226.42l4.3 7.6h-8.6z"/>
<path d="M2030.68 230.8l4.3 7.6h-8.6z"/>
</g>
<g stroke="#ff0000">
<circle cx="1552.35" cy="254.43" r="3.6"/>
<circle cx="1557.16" cy="250.47" r="3.6"/>
<circle cx="1563.96" cy="242.85" r="3.6"/>
<circle cx="1570.91" cy="255.11" r="3.6"/>
<circle cx="1575.3" cy="246.36" r="3.6"/>
<circle cx="1575.51" cy="246.13" r="3.6"/>
<circle cx="1581.77" cy="241.51" r="3.6"/>
<circle cx="1581.93" cy="249.3" r="3.6"/>
<circle cx="1593.55" cy="248.3" r="3.6"/>
<circle cx="1593.96" cy="254.46" r="3.6"/>
<circle cx="1600.46" cy="239.7" r="3.6"/>
<circle cx="1599.73" cy="232.07" r="3.6"/>
<circle cx="1606.92" cy="246.38" r="3.6"/>
<circle cx="1606.8" cy="257.87" r="3.6"/>
<circle cx="1617.79" cy="239.82" r="3.6"/>
<circle cx="1629.91" cy="252.43" r="3.6"/>
<circle cx="1636.55" cy="258.49" r="3.6"/>
<circle cx="1643.59" cy="248.56" r="3.6"/>
<circle cx="1643.96" cy="264.88" r="3.6"/>
<circle cx="1648.78" cy="259.21" r="3.6"/>
<circle cx="1648.71" cy="250.74" r="3.6"/>
<circle cx="1654.52" cy="223.73" r="3.6"/>
<circle cx="1661.39" cy="259.9" r="3.6"/>
<circle cx="1667.11" cy="255.9" r="3.6"/>
<circle cx="1667.01" cy="237.61" r="3.6"/>
<circle cx="1691.08" cy="252.99" r="3.6"/>
<circle cx="1698.49" cy="259.23" r="3.6"/>
<circle cx="1697.58" cy="249.26" r="3.6"/>
<circle cx="1703.13" cy="246.36" r="3.6"/>
<circle cx="1703.32" cy="252.75" r="3.6"/>
<circle cx="1709.4" cy="246.22" r="3.6"/>
<circle cx="1720.93" cy="247.65" r="3.6"/>
<circle cx="1726.93" cy="211.48" r="3.6"/>
<circle cx="1734.79" cy="282.81" r="3.6"/>
<circle cx="1734.93" cy="247" r="3.6"/>
<circle cx="1739.22" cy="233.19" r="3.6"/>
<circle cx="1745.29" cy="221.78" r="3.6"/>
<circle cx="1752.19" cy="256.77" r="3.6"/>
<circle cx="1752.67" cy="280.66" r="3.6"/>
<circle cx="1757.73" cy="260.02" r="3.6"/>
<circle cx="1763.87" cy="239.55" r="3.6"/>
<circle cx="1764.11" cy="201.52" r="3.6"/>
<circle cx="1771.35" cy="250.29" r="3.6"/>
<circle cx="1770.48" cy="263.71" r="3.6"/>
<circle cx="1782.36" cy="249.95" r="3.6"/>
<circle cx="1789.47" cy="284.89" r="3.6"/>
<circle cx="1793.84" cy="236.66" r="3.6"/>
<circle cx="1800.68" cy="254.27" r="3.6"/>
<circle cx="1800.24" cy="229.29" r="3.6"/>
<circle cx="1807.37" cy="270.15" r="3.6"/>
<circle cx="1807.69" cy="237.4" r="3.6"/>
<circle cx="1812.39" cy="252.73" r="3.6"/>
<circle cx="1818.7" cy="261.45" r="3.6"/>
<circle cx="1818.63" cy="246.89" r="3.6"/>
<circle cx="1825.42" cy="275.29" r="3.6"/>
<circle cx="1825.86" cy="273.28" r="3.6"/>
<circle cx="1830.24" cy="243.91" r="3.6"/>
<circle cx="1836.12" cy="247.23" r="3.6"/>
<circle cx="1836.35" cy="221.73" r="3.6"/>
<circle cx="1844.06" cy="238.06" r="3.6"/>
<circle cx="1848.66" cy="266.78" r="3.6"/>
<circle cx="1848.65" cy="243.1" r="3.6"/>
<circle cx="1862.05" cy="272.82" r="3.6"/>
<circle cx="1866.97" cy="240.4" r="3.6"/>
<circle cx="1866.6" cy="251.24" r="3.6"/>
<circle cx="1872.61" cy="233.62" r="3.6"/>
<circle cx="1872.76" cy="232.78" r="3.6"/>
<circle cx="1880.2" cy="258.98" r="3.6"/>
<circle cx="1879.86" cy="263.65" r="3.6"/>
<circle cx="1884.98" cy="240.58" r="3.6"/>
<circle cx="1891.24" cy="233.89" r="3.6"/>
<circle cx="1898.45" cy="241.9" r="3.6"/>
<circle cx="1898.16" cy="247.96" r="3.6"/>
<circle cx="1902.94" cy="257.29" r="3.6"/>
<circle cx="1909.35" cy="232" r="3.6"/>
<circle cx="1916.84" cy="273.76" r="3.6"/>
<circle cx="1921.74" cy="252.85" r="3.6"/>
<circle cx="1921.76" cy="252.09" r="3.6"/>
<circle cx="1927.65" cy="251.94" r="3.6"/>
<circle cx="1927.23" cy="254.52" r="3.6"/>
<circle cx="1934.49" cy="259.26" r="3.6"/>
<circle cx="1934.93" cy="250.18" r="3.6"/>
<circle cx="1940.23" cy="240.11" r="3.6"/>
<circle cx="1945.35" cy="235.58" r="3.6"/>
<circle cx="1945.35" cy="241.54" r="3.6"/>
<circle cx="1952.81" cy="239.47" r="3.6"/>
<circle cx="1952.42" cy="273.75" r="3.6"/>
<circle cx="1958.08" cy="252.5" r="3.6"/>
<circle cx="1963.86" cy="220.21" r="3.6"/>
<circle cx="1963.61" cy="250.9" r="3.6"/>
<circle cx="1971.01" cy="232.24" r="3.6"/>
<circle cx="1971.4" cy="266.14" r="3.6"/>
<circle cx="1976.32" cy="238.03" r="3.6"/>
<circle cx="1976.17" cy="232.77" r="3.6"/>
<circle cx="1982.13" cy="218.23" r="3.6"/>
<circle cx="1982.02" cy="246.05" r="3.6"/>
<circle cx="1994.68" cy="246.28" r="3.6"/>
<circle cx="1993.91" cy="241.76" r="3.6"/>
<circle cx="2007.49" cy="251.76" r="3.6"/>
<circle cx="2007.09" cy="261.74" r="3.6"/>
<circle cx="2019.02" cy="225.4" r="3.6"/>
<circle cx="2025.98" cy="233.97" r="3.6"/>
<circle cx="2025.42" cy="242.15" r="3.6"/>
<circle cx="2031.08" cy="240.58" r="3.6"/>
</g>
<g stroke="#0000ff">
<path d="M1552.13 247.5l3.5 4.9l-3.5 4.9l-3.5 -4.9z"/>
<path d="M1557.86 246.02l3.5 4.9l-3.5 4.9l-3.5 -4.9z"/>
<path d="M1563.23 240.3l3.5 4.9l-3.5 4.9l-3.5 -4.9z"/>
<path d="M1563.63 237.61l3.5 4.9l-3.5 4.9l-3.5 -4.9z"/>
<path d="M1570.21 245.05l3.5 4.9l-3.5 4.9l-3.5 -4.9z"/>
<path d="M1575.33 247.29l3.5 4.9l-3.5 4.9l-3.5 -4.9z"/>
<path d="M1576.13 244.9l3.5 4.9l-3.5 4.9l-3.5 -4.9z"/>
<path d="M1588.78 248.65l3.5 4.9l-3.5 4.9l-3.5 -4.9z"/>
<path d="M1588.65 247.37l3.5 4.9l-3.5 4.9l-3.5 -4.9z"/>
<path d="M1594.33 249.99l3.5 4.9l-3.5 4.9l-3.5 -4.9z"/>
<path d="M1593.69 245.18l3.5 4.9l-3.5 4.9l-3.5 -4.9z"/>
<path d="M1599.53 246.01l3.5 4.9l-3.5 4.9l-3.5 -4.9z"/>
<path d="M1599.61 227.26l3.5 4.9l-3.5 4.9l-3.5 -4.9z"/>
<path d="M1606.67 250.84l3.5 4.9l-3.5 4.9l-3.5 -4.9z"/>
<path d="M1606.95 242.04l3.5 4.9l-3.5 4.9l-3.5 -4.9z"/>
<path d="M1612.04 241.37l3.5 4.9l-3.5 4.9l-3.5 -4.9z"/>
<path d="M1618.27 225.16l3.5 4.9l-3.5 4.9l-3.5 -4.9z"/>
<path d="M1625.64 274.56l3.5 4.9l-3.5 4.9l-3.5 -4.9z"/>
<path d="M1630.46 251.5l3.5 4.9l-3.5 4.9l-3.5 -4.9z"/>
<path d="M1630.03 239.26l3.5 4.9l-3.5 4.9l-3.5 -4.9z"/>
<path d="M1636.37 237.84l3.5 4.9l-3.5 4.9l-3.5 -4.9z"/>
<path d="M1643.95 278.92l3.5 4.9l-3.5 4.9l-3.5 -4.9z"/>
<path d="M1648.18 255.01l3.5 4.9l-3.5 4.9l-3.5 -4.9z"/>
<path d="M1648.05 242.7l3.5 4.9l-3.5 4.9l-3.5 -4.9z"/>
<path d="M1654.21 234.61l3.5 4.9l-3.5 4.9l-3.5 -4.9z"/>
<path d="M1654.39 234.82l3.5 4.9l-3.5 4.9l-3.5 -4.9z"/>
<path d="M1661.82 242.65l3.5 4.9l-3.5 4.9l-3.5 -4.9z"/>
<path d="M1667.17 235.39l3.5 4.9l-3.5 4.9l-3.5 -4.9z"/>
<path d="M1666.91 243.16l3.5 4.9l-3.5 4.9l-3.5 -4.9z"/>
<path d="M1672.53 245.6l3.5 4.9l-3.5 4.9l-3.5 -4.9z"/>
<path d="M1673.06 205.35l3.5 4.9l-3.5 4.9l-3.5 -4.9z"/>
<path d="M1679.38 249.57l3.5 4.9l-3.5 4.9l-3.5 -4.9z"/>
<path d="M1680.05 240.52l3.5 4.9l-3.5 4.9l-3.5 -4.9z"/>
<path d="M1685.33 242.41l3.5 4.9l-3.5 4.9l-3.5 -4.9z"/>
<path d="M1685.19 256.2l3.5 4.9l-3.5 4.9l-3.5 -4.9z"/>
<path d="M1691.05 228.57l3.5 4.9l-3.5 4.9l-3.5 -4.9z"/>
<path d="M1697.71 268.71l3.5 4.9l-3.5 4.9l-3.5 -4.9z"/>
<path d="M1702.94 231.94l3.5 4.9l-3.5 4.9l-3.5 -4.9z"/>
<path d="M1703.15 245.13l3.5 4.9l-3.5 4.9l-3.5 -4.9z"/>
<path d="M1709.52 233.4l3.5 4.9l-3.5 4.9l-3.5 -4.9z"/>
<path d="M1708.97 254.08l3.5 4.9l-3.5 4.9l-3.5 -4.9z"/>
<path d="M1716.74 239.6l3.5 4.9l-3.5 4.9l-3.5 -4.9z"/>
<path d="M1721.67 253.79l3.5 4.9l-3.5 4.9l-3.5 -4.9z"/>
<path d="M1721.83 224.61l3.5 4.9l-3.5 4.9l-3.5 -4.9z"/>
<path d="M1727.02 253.3l3.5 4.9l-3.5 4.9l-3.5 -4.9z"/>
<path d="M1734.5 253.9l3.5 4.9l-3.5 4.9l-3.5 -4.9z"/>
<path d="M1739.7 251.33l3.5 4.9l-3.5 4.9l-3.5 -4.9z"/>
<path d="M1745.61 259.89l3.5 4.9l-3.5 4.9l-3.5 -4.9z"/>
<path d="M1752.8 259.75l3.5 4.9l-3.5 4.9l-3.5 -4.9z"/>
<path d="M1752.97 235.04l3.5 4.9l-3.5 4.9l-3.5 -4.9z"/>
<path d="M1764.26 235.7l3.5 4.9l-3.5 4.9l-3.5 -4.9z"/>
<path d="M1763.35 234.42l3.5 4.9l-3.5 4.9l-3.5 -4.9z"/>
<path d="M1770.39 269.12l3.5 4.9l-3.5 4.9l-3.5 -4.9z"/>
<path d="M1770.42 253.93l3.5 4.9l-3.5 4.9l-3.5 -4.9z"/>
<path d="M1776.15 247.89l3.5 4.9l-3.5 4.9l-3.5 -4.9z"/>
<path d="M1775.55 250.77l3.5 4.9l-3.5 4.9l-3.5 -4.9z"/>
<path d="M1782.31 206.06l3.5 4.9l-3.5 4.9l-3.5 -4.9z"/>
<path d="M1781.77 218.68l3.5 4.9l-3.5 4.9l-3.5 -4.9z"/>
<path d="M1789.29 257.45l3.5 4.9l-3.5 4.9l-3.5 -4.9z"/>
<path d="M1793.82 233.5l3.5 4.9l-3.5 4.9l-3.5 -4.9z"/>
<path d="M1799.81 236.51l3.5 4.9l-3.5 4.9l-3.5 -4.9z"/>
<path d="M1807.27 256.48l3.5 4.9l-3.5 4.9l-3.5 -4.9z"/>
<path d="M1818.27 218.91l3.5 4.9l-3.5 4.9l-3.5 -4.9z"/>
<path d="M1825.92 229.95l3.5 4.9l-3.5 4.9l-3.5 -4.9z"/>
<path d="M1830.16 240.31l3.5 4.9l-3.5 4.9l-3.5 -4.9z"/>
<path d="M1836.66 248.95l3.5 4.9l-3.5 4.9l-3.5 -4.9z"/>
<path d="M1836.27 247.39l3.5 4.9l-3.5 4.9l-3.5 -4.9z"/>
<path d="M1843.61 237.06l3.5 4.9l-3.5 4.9l-3.5 -4.9z"/>
<path d="M1843.35 256.74l3.5 4.9l-3.5 4.9l-3.5 -4.9z"/>
<path d="M1848.44 248.56l3.5 4.9l-3.5 4.9l-3.5 -4.9z"/>
<path d="M1848.47 230.82l3.5 4.9l-3.5 4.9l-3.5 -4.9z"/>
<path d="M1854.4 231.53l3.5 4.9l-3.5 4.9l-3.5 -4.9z"/>
<path d="M1861.93 271.47l3.5 4.9l-3.5 4.9l-3.5 -4.9z"/>
<path d="M1861.53 283.88l3.5 4.9l-3.5 4.9l-3.5 -4.9z"/>
<path d="M1873.09 221.18l3.5 4.9l-3.5 4.9l-3.5 -4.9z"/>
<path d="M1872.55 219.63l3.5 4.9l-3.5 4.9l-3.5 -4.9z"/>
<path d="M1880.07 252.33l3.5 4.9l-3.5 4.9l-3.5 -4.9z"/>
<path d="M1879.92 261.15l3.5 4.9l-3.5 4.9l-3.5 -4.9z"/>
<path d="M1885.49 249.3l3.5 4.9l-3.5 4.9l-3.5 -4.9z"/>
<path d="M1884.92 249.26l3.5 4.9l-3.5 4.9l-3.5 -4.9z"/>
<path d="M1890.92 230.98l3.5 4.9l-3.5 4.9l-3.5 -4.9z"/>
<path d="M1891.28 235.14l3.5 4.9l-3.5 4.9l-3.5 -4.9z"/>
<path d="M1898.74 253.7l3.5 4.9l-3.5 4.9l-3.5 -4.9z"/>
<path d="M1903.36 236.47l3.5 4.9l-3.5 4.9l-3.5 -4.9z"/>
<path d="M1909.65 231.23l3.5 4.9l-3.5 4.9l-3.5 -4.9z"/>
<path d="M1916.73 250.85l3.5 4.9l-3.5 4.9l-3.5 -4.9z"/>
<path d="M1916.38 237.97l3.5 4.9l-3.5 4.9l-3.5 -4.9z"/>
<path d="M1922 229.5l3.5 4.9l-3.5 4.9l-3.5 -4.9z"/>
<path d="M1921.33 240.19l3.5 4.9l-3.5 4.9l-3.5 -4.9z"/>
<path d="M1927.95 212.8l3.5 4.9l-3.5 4.9l-3.5 -4.9z"/>
<path d="M1934.7 255.77l3.5 4.9l-3.5 4.9l-3.5 -4.9z"/>
<path d="M1934.69 262.73l3.5 4.9l-3.5 4.9l-3.5 -4.9z"/>
<path d="M1940.21 239.4l3.5 4.9l-3.5 4.9l-3.5 -4.9z"/>
<path d="M1939.55 233.22l3.5 4.9l-3.5 4.9l-3.5 -4.9z"/>
<path d="M1945.94 241.65l3.5 4.9l-3.5 4.9l-3.5 -4.9z"/>
<path d="M1945.5 242.87l3.5 4.9l-3.5 4.9l-3.5 -4.9z"/>
<path d="M1957.88 242.64l3.5 4.9l-3.5 4.9l-3.5 -4.9z"/>
<path d="M1957.97 234.9l3.5 4.9l-3.5 4.9l-3.5 -4.9z"/>
<path d="M1964.07 222.83l3.5 4.9l-3.5 4.9l-3.5 -4.9z"/>
<path d="M1970.93 239.72l3.5 4.9l-3.5 4.9l-3.5 -4.9z"/>
<path d="M1976.16 234.73l3.5 4.9l-3.5 4.9l-3.5 -4.9z"/>
<path d="M1982.33 242.37l3.5 4.9l-3.5 4.9l-3.5 -4.9z"/>
<path d="M1982.22 235.7l3.5 4.9l-3.5 4.9l-3.5 -4.9z"/>
<path d="M1994.12 242.3l3.5 4.9l-3.5 4.9l-3.5 -4.9z"/>
<path d="M1993.85 229.48l3.5 4.9l-3.5 4.9l-3.5 -4.9z"/>
<path d="M1999.92 240.83l3.5 4.9l-3.5 4.9l-3.5 -4.9z"/>
<path d="M2007.28 230.33l3.5 4.9l-3.5 4.9l-3.5 -4.9z"/>
<path d="M2012.38 242.53l3.5 4.9l-3.5 4.9l-3.5 -4.9z"/>
<path d="M2012.66 242.46l3.5 4.9l-3.5 4.9l-3.5 -4.9z"/>
<path d="M2018.54 210.98l3.5 4.9l-3.5 4.9l-3.5 -4.9z"/>
<path d="M2025.4 232.21l3.5 4.9l-3.5 4.9l-3.5 -4.9z"/>
<path d="M2025.55 237.87l3.5 4.9l-3.5 4.9l-3.5 -4.9z"/>
<path d="M2031.12 233.96l3.5 4.9l-3.5 4.9l-3.5 -4.9z"/>
</g>
<g stroke="#0000ff">
<path d="M1552.36 255.14l4.3 7.6h-8.6z"/>
<path d="M1557.76 242.46l4.3 7.6h-8.6z"/>
<path d="M1563.28 243.79l4.3 7.6h-8.6z"/>
<path d="M1576.2 247.19l4.3 7.6h-8.6z"/>
<path d="M1575.36 249.95l4.3 7.6h-8.6z"/>
<path d="M1582.2 236.21l4.3 7.6h-8.6z"/>
<path d="M1588.78 252.23l4.3 7.6h-8.6z"/>
<path d="M1589.23 245.48l4.3 7.6h-8.6z"/>
<path d="M1593.58 243.28l4.3 7.6h-8.6z"/>
<path d="M1593.76 239.62l4.3 7.6h-8.6z"/>
<path d="M1599.53 238.75l4.3 7.6h-8.6z"/>
<path d="M1606.67 248.8l4.3 7.6h-8.6z"/>
<path d="M1606.77 252.7l4.3 7.6h-8.6z"/>
<path d="M1612.53 243.14l4.3 7.6h-8.6z"/>
<path d="M1612.18 248.41l4.3 7.6h-8.6z"/>
<path d="M1617.84 243.01l4.3 7.6h-8.6z"/>
<path d="M1618.46 243.47l4.3 7.6h-8.6z"/>
<path d="M1625.16 242.33l4.3 7.6h-8.6z"/>
<path d="M1624.89 286.11l4.3 7.6h-8.6z"/>
<path d="M1630.75 253.11l4.3 7.6h-8.6z"/>
<path d="M1636.48 239.16l4.3 7.6h-8.6z"/>
<path d="M1636.17 242.19l4.3 7.6h-8.6z"/>
<path d="M1643.96 290.5l4.3 7.6h-8.6z"/>
<path d="M1648.92 256.14l4.3 7.6h-8.6z"/>
<path d="M1648.1 240.78l4.3 7.6h-8.6z"/>
<path d="M1661.86 251.7l4.3 7.6h-8.6z"/>
<path d="M1661.9 254.67l4.3 7.6h-8.6z"/>
<path d="M1666.78 241.42l4.3 7.6h-8.6z"/>
<path d="M1666.64 230.53l4.3 7.6h-8.6z"/>
<path d="M1673.08 232.18l4.3 7.6h-8.6z"/>
<path d="M1680.24 248.28l4.3 7.6h-8.6z"/>
<path d="M1680.08 284.56l4.3 7.6h-8.6z"/>
<path d="M1684.85 242.95l4.3 7.6h-8.6z"/>
<path d="M1684.91 233.4l4.3 7.6h-8.6z"/>
<path d="M1690.83 252.77l4.3 7.6h-8.6z"/>
<path d="M1690.66 247.41l4.3 7.6h-8.6z"/>
<path d="M1697.79 231.93l4.3 7.6h-8.6z"/>
<path d="M1702.77 232.18l4.3 7.6h-8.6z"/>
<path d="M1708.78 211.59l4.3 7.6h-8.6z"/>
<path d="M1708.72 244.67l4.3 7.6h-8.6z"/>
<path d="M1716.63 290.38l4.3 7.6h-8.6z"/>
<path d="M1716.11 233.38l4.3 7.6h-8.6z"/>
<path d="M1721.37 253.96l4.3 7.6h-8.6z"/>
<path d="M1727.17 251.32l4.3 7.6h-8.6z"/>
<path d="M1727.34 232.69l4.3 7.6h-8.6z"/>
<path d="M1734.34 241.92l4.3 7.6h-8.6z"/>
<path d="M1734.49 247.77l4.3 7.6h-8.6z"/>
<path d="M1745.95 250.98l4.3 7.6h-8.6z"/>
<path d="M1745.78 189.78l4.3 7.6h-8.6z"/>
<path d="M1752.44 259.71l4.3 7.6h-8.6z"/>
<path d="M1763.43 254.13l4.3 7.6h-8.6z"/>
<path d="M1770.92 231.2l4.3 7.6h-8.6z"/>
<path d="M1776.31 246.43l4.3 7.6h-8.6z"/>
<path d="M1776.43 239.22l4.3 7.6h-8.6z"/>
<path d="M1782.16 215.63l4.3 7.6h-8.6z"/>
<path d="M1788.65 287.13l4.3 7.6h-8.6z"/>
<path d="M1788.77 236.65l4.3 7.6h-8.6z"/>
<path d="M1794.05 246.38l4.3 7.6h-8.6z"/>
<path d="M1794.39 232.48l4.3 7.6h-8.6z"/>
<path d="M1800.38 213.67l4.3 7.6h-8.6z"/>
<path d="M1799.99 221.95l4.3 7.6h-8.6z"/>
<path d="M1807.04 252.61l4.3 7.6h-8.6z"/>
<path d="M1812.38 236.99l4.3 7.6h-8.6z"/>
<path d="M1812.76 253.68l4.3 7.6h-8.6z"/>
<path d="M1818.42 237.2l4.3 7.6h-8.6z"/>
<path d="M1825.86 242.76l4.3 7.6h-8.6z"/>
<path d="M1824.99 240.8l4.3 7.6h-8.6z"/>
<path d="M1830.45 239.75l4.3 7.6h-8.6z"/>
<path d="M1836.38 208.38l4.3 7.6h-8.6z"/>
<path d="M1836.88 205.08l4.3 7.6h-8.6z"/>
<path d="M1843.96 236l4.3 7.6h-8.6z"/>
<path d="M1848.65 254.9l4.3 7.6h-8.6z"/>
<path d="M1849.15 241.44l4.3 7.6h-8.6z"/>
<path d="M1854.7 209.02l4.3 7.6h-8.6z"/>
<path d="M1855 209.04l4.3 7.6h-8.6z"/>
<path d="M1861.71 256.01l4.3 7.6h-8.6z"/>
<path d="M1866.65 240.6l4.3 7.6h-8.6z"/>
<path d="M1873.45 232.68l4.3 7.6h-8.6z"/>
<path d="M1872.63 232.17l4.3 7.6h-8.6z"/>
<path d="M1879.64 250.62l4.3 7.6h-8.6z"/>
<path d="M1880.2 253.58l4.3 7.6h-8.6z"/>
<path d="M1885.18 231.18l4.3 7.6h-8.6z"/>
<path d="M1885.39 234.42l4.3 7.6h-8.6z"/>
<path d="M1891.31 253.9l4.3 7.6h-8.6z"/>
<path d="M1891.59 233.65l4.3 7.6h-8.6z"/>
<path d="M1898.35 238.32l4.3 7.6h-8.6z"/>
<path d="M1898.7 266.24l4.3 7.6h-8.6z"/>
<path d="M1903.03 243l4.3 7.6h-8.6z"/>
<path d="M1909.86 241.36l4.3 7.6h-8.6z"/>
<path d="M1915.97 255.63l4.3 7.6h-8.6z"/>
<path d="M1921.76 244.6l4.3 7.6h-8.6z"/>
<path d="M1921.12 249.41l4.3 7.6h-8.6z"/>
<path d="M1927.69 237.65l4.3 7.6h-8.6z"/>
<path d="M1934.88 260.72l4.3 7.6h-8.6z"/>
<path d="M1940.05 236.64l4.3 7.6h-8.6z"/>
<path d="M1940.2 232.42l4.3 7.6h-8.6z"/>
<path d="M1946.21 228.48l4.3 7.6h-8.6z"/>
<path d="M1945.31 222.91l4.3 7.6h-8.6z"/>
<path d="M1952.99 240.31l4.3 7.6h-8.6z"/>
<path d="M1953.28 264.82l4.3 7.6h-8.6z"/>
<path d="M1957.79 245.64l4.3 7.6h-8.6z"/>
<path d="M1958.19 242.34l4.3 7.6h-8.6z"/>
<path d="M1964.47 241.96l4.3 7.6h-8.6z"/>
<path d="M1964.04 230.77l4.3 7.6h-8.6z"/>
<path d="M1971.19 233.87l4.3 7.6h-8.6z"/>
<path d="M1975.97 225.44l4.3 7.6h-8.6z"/>
<path d="M1982.12 224.98l4.3 7.6h-8.6z"/>
<path d="M1982.64 237.81l4.3 7.6h-8.6z"/>
<path d="M1989.27 255.12l4.3 7.6h-8.6z"/>
<path d="M1994.13 238.96l4.3 7.6h-8.6z"/>
<path d="M1994.54 234.63l4.3 7.6h-8.6z"/>
<path d="M2000.53 236.9l4.3 7.6h-8.6z"/>
<path d="M2000.36 243.09l4.3 7.6h-8.6z"/>
<path d="M2007.49 243.61l4.3 7.6h-8.6z"/>
<path d="M2012.36 235.39l4.3 7.6h-8.6z"/>
<path d="M2012.4 239.08l4.3 7.6h-8.6z"/>
<path d="M2018.65 216.68l4.3 7.6h-8.6z"/>
<path d="M2018.45 246.53l4.3 7.6h-8.6z"/>
<path d="M2025.33 251.6l4.3 7.6h-8.6z"/>
<path d="M2025.59 254.11l4.3 7.6h-8.6z"/>
<path d="M2030.75 232.19l4.3 7.6h-8.6z"/>
</g>
<g stroke="#ff0000">
<rect x="1549.14" y="253.29" width="6.2" height="6.2"/>
<rect x="1554.19" y="251.57" width="6.2" height="6.2"/>
<rect x="1554.23" y="249.08" width="6.2" height="6.2"/>
<rect x="1560.27" y="241.57" width="6.2" height="6.2"/>
<rect x="1560.8" y="250.87" width="6.2" height="6.2"/>
<rect x="1567.55" y="254.94" width="6.2" height="6.2"/>
<rect x="1573.06" y="241.28" width="6.2" height="6.2"/>
<rect x="1572.66" y="247.98" width="6.2" height="6.2"/>
<rect x="1578.92" y="248.98" width="6.2" height="6.2"/>
<rect x="1585.42" y="257.55" width="6.2" height="6.2"/>
<rect x="1585.38" y="253.97" width="6.2" height="6.2"/>
<rect x="1590.85" y="240.8" width="6.2" height="6.2"/>
<rect x="1596.47" y="251.78" width="6.2" height="6.2"/>
<rect x="1596.99" y="246.32" width="6.2" height="6.2"/>
<rect x="1603.97" y="249.03" width="6.2" height="6.2"/>
<rect x="1609.06" y="245.54" width="6.2" height="6.2"/>
<rect x="1615.32" y="246.29" width="6.2" height="6.2"/>
<rect x="1614.61" y="248.25" width="6.2" height="6.2"/>
<rect x="1622.17" y="287.42" width="6.2" height="6.2"/>
<rect x="1621.85" y="267.92" width="6.2" height="6.2"/>
<rect x="1626.75" y="257.54" width="6.2" height="6.2"/>
<rect x="1627.64" y="245.6" width="6.2" height="6.2"/>
<rect x="1633.25" y="225.42" width="6.2" height="6.2"/>
<rect x="1640.28" y="238.99" width="6.2" height="6.2"/>
<rect x="1639.93" y="246.01" width="6.2" height="6.2"/>
<rect x="1645.02" y="238.42" width="6.2" height="6.2"/>
<rect x="1651.45" y="221.71" width="6.2" height="6.2"/>
<rect x="1658.57" y="291.26" width="6.2" height="6.2"/>
<rect x="1664.03" y="250.62" width="6.2" height="6.2"/>
<rect x="1663.94" y="253.95" width="6.2" height="6.2"/>
<rect x="1669.98" y="206.52" width="6.2" height="6.2"/>
<rect x="1669.73" y="216.89" width="6.2" height="6.2"/>
<rect x="1676.65" y="270.54" width="6.2" height="6.2"/>
<rect x="1676.68" y="233.43" width="6.2" height="6.2"/>
<rect x="1682.09" y="254.61" width="6.2" height="6.2"/>
<rect x="1687.58" y="235.84" width="6.2" height="6.2"/>
<rect x="1695.25" y="264.32" width="6.2" height="6.2"/>
<rect x="1695.37" y="240.8" width="6.2" height="6.2"/>
<rect x="1699.71" y="243.63" width="6.2" height="6.2"/>
<rect x="1706.36" y="247.36" width="6.2" height="6.2"/>
<rect x="1713.57" y="238.68" width="6.2" height="6.2"/>
<rect x="1718.5" y="242.94" width="6.2" height="6.2"/>
<rect x="1724.02" y="249.28" width="6.2" height="6.2"/>
<rect x="1731.73" y="245.69" width="6.2" height="6.2"/>
<rect x="1731.82" y="260.17" width="6.2" height="6.2"/>
<rect x="1736.17" y="254.71" width="6.2" height="6.2"/>
<rect x="1749.41" y="267.51" width="6.2" height="6.2"/>
<rect x="1755.08" y="250.16" width="6.2" height="6.2"/>
<rect x="1760.71" y="189.41" width="6.2" height="6.2"/>
<rect x="1772.53" y="251.57" width="6.2" height="6.2"/>
<rect x="1772.85" y="252.27" width="6.2" height="6.2"/>
<rect x="1779.36" y="234.57" width="6.2" height="6.2"/>
<rect x="1778.56" y="236.18" width="6.2" height="6.2"/>
<rect x="1785.53" y="232.36" width="6.2" height="6.2"/>
<rect x="1791.53" y="230.99" width="6.2" height="6.2"/>
<rect x="1790.74" y="256.25" width="6.2" height="6.2"/>
<rect x="1797.24" y="228.16" width="6.2" height="6.2"/>
<rect x="1804.36" y="252.69" width="6.2" height="6.2"/>
<rect x="1803.84" y="273.42" width="6.2" height="6.2"/>
<rect x="1809.43" y="242.5" width="6.2" height="6.2"/>
<rect x="1809.31" y="242.09" width="6.2" height="6.2"/>
<rect x="1815.43" y="249.14" width="6.2" height="6.2"/>
<rect x="1815.04" y="252.31" width="6.2" height="6.2"/>
<rect x="1822.23" y="246.47" width="6.2" height="6.2"/>
<rect x="1827.34" y="236.62" width="6.2" height="6.2"/>
<rect x="1827.07" y="235.57" width="6.2" height="6.2"/>
<rect x="1833.91" y="245.08" width="6.2" height="6.2"/>
<rect x="1840.82" y="241.63" width="6.2" height="6.2"/>
<rect x="1840.62" y="253.86" width="6.2" height="6.2"/>
<rect x="1845.87" y="248.09" width="6.2" height="6.2"/>
<rect x="1851.3" y="240.58" width="6.2" height="6.2"/>
<rect x="1859.26" y="261.43" width="6.2" height="6.2"/>
<rect x="1870.33" y="232.69" width="6.2" height="6.2"/>
<rect x="1877.15" y="266.47" width="6.2" height="6.2"/>
<rect x="1876.63" y="252.91" width="6.2" height="6.2"/>
<rect x="1882.09" y="232.36" width="6.2" height="6.2"/>
<rect x="1887.74" y="237.61" width="6.2" height="6.2"/>
<rect x="1894.68" y="279.26" width="6.2" height="6.2"/>
<rect x="1899.82" y="240.71" width="6.2" height="6.2"/>
<rect x="1900.58" y="250.94" width="6.2" height="6.2"/>
<rect x="1905.92" y="237.87" width="6.2" height="6.2"/>
<rect x="1906.49" y="239.94" width="6.2" height="6.2"/>
<rect x="1913.52" y="235.25" width="6.2" height="6.2"/>
<rect x="1918.74" y="252.96" width="6.2" height="6.2"/>
<rect x="1918.11" y="239.4" width="6.2" height="6.2"/>
<rect x="1924.49" y="227.9" width="6.2" height="6.2"/>
<rect x="1924.42" y="233.41" width="6.2" height="6.2"/>
<rect x="1931.08" y="232.77" width="6.2" height="6.2"/>
<rect x="1936.94" y="250.62" width="6.2" height="6.2"/>
<rect x="1942.61" y="234.22" width="6.2" height="6.2"/>
<rect x="1949.9" y="284.12" width="6.2" height="6.2"/>
<rect x="1955.32" y="228.74" width="6.2" height="6.2"/>
<rect x="1960.51" y="242.85" width="6.2" height="6.2"/>
<rect x="1967.73" y="241.29" width="6.2" height="6.2"/>
<rect x="1978.83" y="239.58" width="6.2" height="6.2"/>
<rect x="1979.26" y="211.97" width="6.2" height="6.2"/>
<rect x="1991.69" y="228.54" width="6.2" height="6.2"/>
<rect x="1997.46" y="233.28" width="6.2" height="6.2"/>
<rect x="1997.4" y="237.81" width="6.2" height="6.2"/>
<rect x="2003.93" y="252.29" width="6.2" height="6.2"/>
<rect x="2009.4" y="241.74" width="6.2" height="6.2"/>
<rect x="2015.6" y="227.34" width="6.2" height="6.2"/>
<rect x="2015.27" y="217.21" width="6.2" height="6.2"/>
<rect x="2022.54" y="241.65" width="6.2" height="6.2"/>
<rect x="2022.4" y="241.31" width="6.2" height="6.2"/>
<rect x="2027.37" y="244.63" width="6.2" height="6.2"/>
</g>
<g stroke="#0000ff">
<rect x="1549.75" y="254.34" width="6.2" height="6.2"/>
<rect x="1549.82" y="248.23" width="6.2" height="6.2"/>
<rect x="1554.06" y="253.63" width="6.2" height="6.2"/>
<rect x="1560.47" y="246.52" width="6.2" height="6.2"/>
<rect x="1567.78" y="255.61" width="6.2" height="6.2"/>
<rect x="1567.35" y="251.02" width="6.2" height="6.2"/>
<rect x="1578.8" y="248.89" width="6.2" height="6.2"/>
<rect x="1585.32" y="257.8" width="6.2" height="6.2"/>
<rect x="1590.96" y="242.4" width="6.2" height="6.2"/>
<rect x="1590.75" y="246.4" width="6.2" height="6.2"/>
<rect x="1597.27" y="233.41" width="6.2" height="6.2"/>
<rect x="1604.07" y="252.47" width="6.2" height="6.2"/>
<rect x="1609.36" y="239.89" width="6.2" height="6.2"/>
<rect x="1609.01" y="244.77" width="6.2" height="6.2"/>
<rect x="1615.43" y="255.01" width="6.2" height="6.2"/>
<rect x="1615.21" y="245" width="6.2" height="6.2"/>
<rect x="1621.92" y="285.95" width="6.2" height="6.2"/>
<rect x="1626.92" y="249.44" width="6.2" height="6.2"/>
<rect x="1633.35" y="220.64" width="6.2" height="6.2"/>
<rect x="1633.41" y="210.14" width="6.2" height="6.2"/>
<rect x="1640.28" y="243.32" width="6.2" height="6.2"/>
<rect x="1640.65" y="247.9" width="6.2" height="6.2"/>
<rect x="1645.4" y="233.43" width="6.2" height="6.2"/>
<rect x="1645.56" y="250.66" width="6.2" height="6.2"/>
<rect x="1651.07" y="218.15" width="6.2" height="6.2"/>
<rect x="1658.75" y="293.44" width="6.2" height="6.2"/>
<rect x="1658.61" y="293.3" width="6.2" height="6.2"/>
<rect x="1670.1" y="212.44" width="6.2" height="6.2"/>
<rect x="1669.59" y="233.05" width="6.2" height="6.2"/>
<rect x="1677.26" y="236.39" width="6.2" height="6.2"/>
<rect x="1681.89" y="256.39" width="6.2" height="6.2"/>
<rect x="1682.1" y="248.53" width="6.2" height="6.2"/>
<rect x="1687.52" y="232.78" width="6.2" height="6.2"/>
<rect x="1695.31" y="237.37" width="6.2" height="6.2"/>
<rect x="1700.31" y="251.96" width="6.2" height="6.2"/>
<rect x="1705.63" y="231.5" width="6.2" height="6.2"/>
<rect x="1706.14" y="217.3" width="6.2" height="6.2"/>
<rect x="1713.61" y="286.11" width="6.2" height="6.2"/>
<rect x="1718.05" y="237.77" width="6.2" height="6.2"/>
<rect x="1718.36" y="236" width="6.2" height="6.2"/>
<rect x="1723.91" y="248.77" width="6.2" height="6.2"/>
<rect x="1724.74" y="254.88" width="6.2" height="6.2"/>
<rect x="1731.57" y="242.31" width="6.2" height="6.2"/>
<rect x="1730.92" y="260.34" width="6.2" height="6.2"/>
<rect x="1735.96" y="242.74" width="6.2" height="6.2"/>
<rect x="1742.61" y="245.43" width="6.2" height="6.2"/>
<rect x="1749.32" y="246.29" width="6.2" height="6.2"/>
<rect x="1754.97" y="240.23" width="6.2" height="6.2"/>
<rect x="1767.77" y="246.84" width="6.2" height="6.2"/>
<rect x="1772.95" y="254.75" width="6.2" height="6.2"/>
<rect x="1778.71" y="239.54" width="6.2" height="6.2"/>
<rect x="1779.27" y="242.67" width="6.2" height="6.2"/>
<rect x="1786.07" y="232.77" width="6.2" height="6.2"/>
<rect x="1786.35" y="257.97" width="6.2" height="6.2"/>
<rect x="1790.85" y="239.49" width="6.2" height="6.2"/>
<rect x="1790.61" y="253.31" width="6.2" height="6.2"/>
<rect x="1796.94" y="212.78" width="6.2" height="6.2"/>
<rect x="1803.88" y="295.48" width="6.2" height="6.2"/>
<rect x="1804.33" y="268.49" width="6.2" height="6.2"/>
<rect x="1808.95" y="240.26" width="6.2" height="6.2"/>
<rect x="1809.67" y="239.45" width="6.2" height="6.2"/>
<rect x="1814.84" y="252.94" width="6.2" height="6.2"/>
<rect x="1815.3" y="246.29" width="6.2" height="6.2"/>
<rect x="1822.79" y="249.92" width="6.2" height="6.2"/>
<rect x="1822.37" y="248.8" width="6.2" height="6.2"/>
<rect x="1827.81" y="231.89" width="6.2" height="6.2"/>
<rect x="1833.82" y="232.37" width="6.2" height="6.2"/>
<rect x="1840.93" y="245.18" width="6.2" height="6.2"/>
<rect x="1840.09" y="272.93" width="6.2" height="6.2"/>
<rect x="1845.6" y="250.52" width="6.2" height="6.2"/>
<rect x="1851.87" y="210.44" width="6.2" height="6.2"/>
<rect x="1851.57" y="252.7" width="6.2" height="6.2"/>
<rect x="1858.68" y="278.89" width="6.2" height="6.2"/>
<rect x="1859.01" y="264.12" width="6.2" height="6.2"/>
<rect x="1864.3" y="251.93" width="6.2" height="6.2"/>
<rect x="1869.79" y="235.05" width="6.2" height="6.2"/>
<rect x="1876.68" y="248.61" width="6.2" height="6.2"/>
<rect x="1876.72" y="266.75" width="6.2" height="6.2"/>
<rect x="1881.89" y="251.85" width="6.2" height="6.2"/>
<rect x="1894.7" y="275.85" width="6.2" height="6.2"/>
<rect x="1900.45" y="240.78" width="6.2" height="6.2"/>
<rect x="1900.32" y="241.14" width="6.2" height="6.2"/>
<rect x="1906.53" y="242.47" width="6.2" height="6.2"/>
<rect x="1913.19" y="234.1" width="6.2" height="6.2"/>
<rect x="1918.36" y="247.83" width="6.2" height="6.2"/>
<rect x="1918.59" y="257.04" width="6.2" height="6.2"/>
<rect x="1924.69" y="232.77" width="6.2" height="6.2"/>
<rect x="1924.18" y="233.61" width="6.2" height="6.2"/>
<rect x="1931.59" y="233.33" width="6.2" height="6.2"/>
<rect x="1943.04" y="243.45" width="6.2" height="6.2"/>
<rect x="1942.68" y="239.36" width="6.2" height="6.2"/>
<rect x="1949.61" y="276.45" width="6.2" height="6.2"/>
<rect x="1954.84" y="228.86" width="6.2" height="6.2"/>
<rect x="1954.74" y="232.28" width="6.2" height="6.2"/>
<rect x="1960.5" y="249.18" width="6.2" height="6.2"/>
<rect x="1961.23" y="235.63" width="6.2" height="6.2"/>
<rect x="1973.35" y="235.04" width="6.2" height="6.2"/>
<rect x="1979.12" y="242.87" width="6.2" height="6.2"/>
<rect x="1978.84" y="235.92" width="6.2" height="6.2"/>
<rect x="1986.54" y="251.69" width="6.2" height="6.2"/>
<rect x="1991.54" y="236.38" width="6.2" height="6.2"/>
<rect x="1991.35" y="236.32" width="6.2" height="6.2"/>
<rect x="1997.1" y="230" width="6.2" height="6.2"/>
<rect x="1996.98" y="233.02" width="6.2" height="6.2"/>
<rect x="2004.14" y="245.86" width="6.2" height="6.2"/>
<rect x="2004.05" y="250.37" width="6.2" height="6.2"/>
<rect x="2009.45" y="234.8" width="6.2" height="6.2"/>
<rect x="2015.1" y="219.06" width="6.2" height="6.2"/>
<rect x="2022.53" y="243.01" width="6.2" height="6.2"/>
<rect x="2027.26" y="236.7" width="6.2" height="6.2"/>
<rect x="2027.72" y="231.84" width="6.2" height="6.2"/>
</g>
<g stroke="#00ff00">
<circle cx="1557.86" cy="251.16" r="3.6"/>
<circle cx="1557.91" cy="254.97" r="3.6"/>
<circle cx="1563.99" cy="248" r="3.6"/>
<circle cx="1564.07" cy="247.63" r="3.6"/>
<circle cx="1570.25" cy="254.21" r="3.6"/>
<circle cx="1570.64" cy="255.88" r="3.6"/>
<circle cx="1575.88" cy="252.44" r="3.6"/>
<circle cx="1576" cy="242.9" r="3.6"/>
<circle cx="1588.74" cy="255.69" r="3.6"/>
<circle cx="1607.32" cy="255.18" r="3.6"/>
<circle cx="1606.99" cy="258.47" r="3.6"/>
<circle cx="1611.8" cy="250.61" r="3.6"/>
<circle cx="1618.67" cy="244.05" r="3.6"/>
<circle cx="1625.55" cy="269.79" r="3.6"/>
<circle cx="1625.48" cy="248.62" r="3.6"/>
<circle cx="1630.35" cy="251.96" r="3.6"/>
<circle cx="1636.87" cy="257.59" r="3.6"/>
<circle cx="1643" cy="246.35" r="3.6"/>
<circle cx="1643.14" cy="261.79" r="3.6"/>
<circle cx="1648.72" cy="248.34" r="3.6"/>
<circle cx="1648.93" cy="243.53" r="3.6"/>
<circle cx="1655.08" cy="223.47" r="3.6"/>
<circle cx="1654.66" cy="217.33" r="3.6"/>
<circle cx="1661.94" cy="248.35" r="3.6"/>
<circle cx="1666.82" cy="262.73" r="3.6"/>
<circle cx="1666.38" cy="256.44" r="3.6"/>
<circle cx="1672.96" cy="236.11" r="3.6"/>
<circle cx="1679.99" cy="270.14" r="3.6"/>
<circle cx="1684.93" cy="236.79" r="3.6"/>
<circle cx="1691.43" cy="241.1" r="3.6"/>
<circle cx="1698.06" cy="246.87" r="3.6"/>
<circle cx="1698.34" cy="250.96" r="3.6"/>
<circle cx="1703.27" cy="251.15" r="3.6"/>
<circle cx="1703.13" cy="248.47" r="3.6"/>
<circle cx="1709.64" cy="252.46" r="3.6"/>
<circle cx="1716.53" cy="246.37" r="3.6"/>
<circle cx="1716.34" cy="276.01" r="3.6"/>
<circle cx="1721.48" cy="236.34" r="3.6"/>
<circle cx="1721.37" cy="244.57" r="3.6"/>
<circle cx="1734.89" cy="240.9" r="3.6"/>
<circle cx="1739.49" cy="233.43" r="3.6"/>
<circle cx="1745.4" cy="201.65" r="3.6"/>
<circle cx="1757.99" cy="262.93" r="3.6"/>
<circle cx="1757.83" cy="233.54" r="3.6"/>
<circle cx="1763.64" cy="202.42" r="3.6"/>
<circle cx="1764.23" cy="197.54" r="3.6"/>
<circle cx="1770.42" cy="269.89" r="3.6"/>
<circle cx="1770.79" cy="260.98" r="3.6"/>
<circle cx="1775.97" cy="255.13" r="3.6"/>
<circle cx="1775.71" cy="264.26" r="3.6"/>
<circle cx="1781.91" cy="230.41" r="3.6"/>
<circle cx="1788.79" cy="251.98" r="3.6"/>
<circle cx="1788.84" cy="291.52" r="3.6"/>
<circle cx="1793.91" cy="250.75" r="3.6"/>
<circle cx="1794.46" cy="242.19" r="3.6"/>
<circle cx="1799.95" cy="252.55" r="3.6"/>
<circle cx="1800.61" cy="266" r="3.6"/>
<circle cx="1806.94" cy="274.61" r="3.6"/>
<circle cx="1807.74" cy="235.31" r="3.6"/>
<circle cx="1812.73" cy="246.68" r="3.6"/>
<circle cx="1817.98" cy="235.98" r="3.6"/>
<circle cx="1818.12" cy="260.18" r="3.6"/>
<circle cx="1825.44" cy="246.84" r="3.6"/>
<circle cx="1825.3" cy="278.15" r="3.6"/>
<circle cx="1836.15" cy="229.33" r="3.6"/>
<circle cx="1836.93" cy="209.23" r="3.6"/>
<circle cx="1843.59" cy="236.37" r="3.6"/>
<circle cx="1849.11" cy="244.38" r="3.6"/>
<circle cx="1854.99" cy="261.01" r="3.6"/>
<circle cx="1854.91" cy="232.45" r="3.6"/>
<circle cx="1861.77" cy="267.76" r="3.6"/>
<circle cx="1861.93" cy="301.4" r="3.6"/>
<circle cx="1866.6" cy="249.15" r="3.6"/>
<circle cx="1867.11" cy="239.03" r="3.6"/>
<circle cx="1873.01" cy="234.15" r="3.6"/>
<circle cx="1880.49" cy="246.45" r="3.6"/>
<circle cx="1880.04" cy="262.09" r="3.6"/>
<circle cx="1885.3" cy="239.71" r="3.6"/>
<circle cx="1884.97" cy="236.81" r="3.6"/>
<circle cx="1891.55" cy="244.08" r="3.6"/>
<circle cx="1891.18" cy="243.13" r="3.6"/>
<circle cx="1898.56" cy="278.73" r="3.6"/>
<circle cx="1903.38" cy="238.1" r="3.6"/>
<circle cx="1903.55" cy="246.61" r="3.6"/>
<circle cx="1909.23" cy="241.3" r="3.6"/>
<circle cx="1916.66" cy="260.8" r="3.6"/>
<circle cx="1921.17" cy="251.65" r="3.6"/>
<circle cx="1927.32" cy="238.87" r="3.6"/>
<circle cx="1934.82" cy="252.99" r="3.6"/>
<circle cx="1940.06" cy="240.49" r="3.6"/>
<circle cx="1939.37" cy="239.2" r="3.6"/>
<circle cx="1952.37" cy="234.19" r="3.6"/>
<circle cx="1953.21" cy="243.71" r="3.6"/>
<circle cx="1958.39" cy="248.32" r="3.6"/>
<circle cx="1963.56" cy="232.64" r="3.6"/>
<circle cx="1971.25" cy="265.26" r="3.6"/>
<circle cx="1976.22" cy="232.67" r="3.6"/>
<circle cx="1975.87" cy="246.85" r="3.6"/>
<circle cx="1981.77" cy="237.31" r="3.6"/>
<circle cx="1989.43" cy="262.51" r="3.6"/>
<circle cx="1994.37" cy="239.36" r="3.6"/>
<circle cx="1994.05" cy="241.8" r="3.6"/>
<circle cx="2007.74" cy="234.54" r="3.6"/>
<circle cx="2012.04" cy="237.06" r="3.6"/>
<circle cx="2018.82" cy="218.48" r="3.6"/>
<circle cx="2018.44" cy="233.71" r="3.6"/>
<circle cx="2025.54" cy="241.08" r="3.6"/>
<circle cx="2025.55" cy="235.21" r="3.6"/>
<circle cx="2031.19" cy="233.58" r="3.6"/>
</g>
<g stroke="#00ff00">
<rect x="1549.29" y="255.03" width="6.2" height="6.2"/>
<rect x="1553.94" y="250.35" width="6.2" height="6.2"/>
<rect x="1560.64" y="243.55" width="6.2" height="6.2"/>
<rect x="1560.4" y="244.47" width="6.2" height="6.2"/>
<rect x="1567.45" y="246.86" width="6.2" height="6.2"/>
<rect x="1572.92" y="244.7" width="6.2" height="6.2"/>
<rect x="1578.69" y="243.69" width="6.2" height="6.2"/>
<rect x="1579.13" y="247.34" width="6.2" height="6.2"/>
<rect x="1597.21" y="247.59" width="6.2" height="6.2"/>
<rect x="1604.09" y="262.51" width="6.2" height="6.2"/>
<rect x="1603.56" y="251.31" width="6.2" height="6.2"/>
<rect x="1609.23" y="243.36" width="6.2" height="6.2"/>
<rect x="1615.4" y="256.26" width="6.2" height="6.2"/>
<rect x="1627.55" y="247.01" width="6.2" height="6.2"/>
<rect x="1633.75" y="249.65" width="6.2" height="6.2"/>
<rect x="1640.07" y="248.24" width="6.2" height="6.2"/>
<rect x="1640.47" y="236.02" width="6.2" height="6.2"/>
<rect x="1645.11" y="233.65" width="6.2" height="6.2"/>
<rect x="1651.36" y="213.73" width="6.2" height="6.2"/>
<rect x="1651.09" y="226.04" width="6.2" height="6.2"/>
<rect x="1658.28" y="228.1" width="6.2" height="6.2"/>
<rect x="1663.21" y="254.57" width="6.2" height="6.2"/>
<rect x="1669.43" y="231.05" width="6.2" height="6.2"/>
<rect x="1669.58" y="222.37" width="6.2" height="6.2"/>
<rect x="1676.93" y="250.11" width="6.2" height="6.2"/>
<rect x="1676.72" y="237.07" width="6.2" height="6.2"/>
<rect x="1682.04" y="252.23" width="6.2" height="6.2"/>
<rect x="1687.49" y="238.22" width="6.2" height="6.2"/>
<rect x="1687.54" y="233.81" width="6.2" height="6.2"/>
<rect x="1694.93" y="238.04" width="6.2" height="6.2"/>
<rect x="1700.36" y="251.77" width="6.2" height="6.2"/>
<rect x="1700.33" y="249.34" width="6.2" height="6.2"/>
<rect x="1706.41" y="246.66" width="6.2" height="6.2"/>
<rect x="1713.66" y="235.66" width="6.2" height="6.2"/>
<rect x="1713.38" y="281.39" width="6.2" height="6.2"/>
<rect x="1718.49" y="237.15" width="6.2" height="6.2"/>
<rect x="1724.59" y="256.22" width="6.2" height="6.2"/>
<rect x="1731.33" y="252.95" width="6.2" height="6.2"/>
<rect x="1731.19" y="251.57" width="6.2" height="6.2"/>
<rect x="1736.09" y="235" width="6.2" height="6.2"/>
<rect x="1742.94" y="236.81" width="6.2" height="6.2"/>
<rect x="1749.91" y="232.59" width="6.2" height="6.2"/>
<rect x="1760.46" y="200.64" width="6.2" height="6.2"/>
<rect x="1760.36" y="192.17" width="6.2" height="6.2"/>
<rect x="1767.51" y="247.47" width="6.2" height="6.2"/>
<rect x="1772.84" y="248.56" width="6.2" height="6.2"/>
<rect x="1772.71" y="247.44" width="6.2" height="6.2"/>
<rect x="1778.5" y="235.99" width="6.2" height="6.2"/>
<rect x="1778.93" y="257.07" width="6.2" height="6.2"/>
<rect x="1785.91" y="255.57" width="6.2" height="6.2"/>
<rect x="1790.78" y="259.35" width="6.2" height="6.2"/>
<rect x="1791.09" y="235.31" width="6.2" height="6.2"/>
<rect x="1797.07" y="218.13" width="6.2" height="6.2"/>
<rect x="1797.55" y="227.77" width="6.2" height="6.2"/>
<rect x="1803.68" y="255.56" width="6.2" height="6.2"/>
<rect x="1809.57" y="241.35" width="6.2" height="6.2"/>
<rect x="1809.65" y="240.93" width="6.2" height="6.2"/>
<rect x="1814.87" y="249.76" width="6.2" height="6.2"/>
<rect x="1815.47" y="250.82" width="6.2" height="6.2"/>
<rect x="1822.75" y="284.36" width="6.2" height="6.2"/>
<rect x="1821.9" y="244.74" width="6.2" height="6.2"/>
<rect x="1827.92" y="255.53" width="6.2" height="6.2"/>
<rect x="1827.15" y="236.11" width="6.2" height="6.2"/>
<rect x="1833.33" y="246.45" width="6.2" height="6.2"/>
<rect x="1840.41" y="244.24" width="6.2" height="6.2"/>
<rect x="1845.74" y="248.23" width="6.2" height="6.2"/>
<rect x="1845.46" y="235.75" width="6.2" height="6.2"/>
<rect x="1852.19" y="216.49" width="6.2" height="6.2"/>
<rect x="1858.98" y="250.54" width="6.2" height="6.2"/>
<rect x="1863.77" y="244.53" width="6.2" height="6.2"/>
<rect x="1863.56" y="253.61" width="6.2" height="6.2"/>
<rect x="1869.72" y="237.26" width="6.2" height="6.2"/>
<rect x="1877.4" y="252.22" width="6.2" height="6.2"/>
<rect x="1881.64" y="235.15" width="6.2" height="6.2"/>
<rect x="1888.37" y="238.84" width="6.2" height="6.2"/>
<rect x="1895.08" y="284.7" width="6.2" height="6.2"/>
<rect x="1895.36" y="277.19" width="6.2" height="6.2"/>
<rect x="1900.24" y="248.45" width="6.2" height="6.2"/>
<rect x="1913.15" y="237.67" width="6.2" height="6.2"/>
<rect x="1913.29" y="250.86" width="6.2" height="6.2"/>
<rect x="1918.45" y="253.68" width="6.2" height="6.2"/>
<rect x="1924.6" y="233.69" width="6.2" height="6.2"/>
<rect x="1931.75" y="233.56" width="6.2" height="6.2"/>
<rect x="1931.98" y="262.42" width="6.2" height="6.2"/>
<rect x="1936.44" y="238.73" width="6.2" height="6.2"/>
<rect x="1942.49" y="230.59" width="6.2" height="6.2"/>
<rect x="1949.78" y="277.85" width="6.2" height="6.2"/>
<rect x="1955.06" y="229.9" width="6.2" height="6.2"/>
<rect x="1954.48" y="228.33" width="6.2" height="6.2"/>
<rect x="1960.62" y="243.8" width="6.2" height="6.2"/>
<rect x="1967.81" y="252.88" width="6.2" height="6.2"/>
<rect x="1968.02" y="242.44" width="6.2" height="6.2"/>
<rect x="1973.27" y="234.5" width="6.2" height="6.2"/>
<rect x="1979.19" y="214.22" width="6.2" height="6.2"/>
<rect x="1978.75" y="243.8" width="6.2" height="6.2"/>
<rect x="1986.28" y="257.62" width="6.2" height="6.2"/>
<rect x="1986.32" y="256.33" width="6.2" height="6.2"/>
<rect x="1991.28" y="234.88" width="6.2" height="6.2"/>
<rect x="1991.15" y="233.91" width="6.2" height="6.2"/>
<rect x="1997.51" y="237.84" width="6.2" height="6.2"/>
<rect x="2004.32" y="245.66" width="6.2" height="6.2"/>
<rect x="2004.64" y="250.82" width="6.2" height="6.2"/>
<rect x="2009.27" y="236.88" width="6.2" height="6.2"/>
<rect x="2008.97" y="244.48" width="6.2" height="6.2"/>
<rect x="2015.51" y="229.46" width="6.2" height="6.2"/>
<rect x="2022.38" y="229.65" width="6.2" height="6.2"/>
<rect x="2022.48" y="236.64" width="6.2" height="6.2"/>
<rect x="2027.41" y="236.11" width="6.2" height="6.2"/>
</g>
<g stroke="#ff0000">
<path d="M1552.64 247.98l3.5 4.9l-3.5 4.9l-3.5 -4.9z"/>
<path d="M1552.02 254.85l3.5 4.9l-3.5 4.9l-3.5 -4.9z"/>
<path d="M1557.15 249.11l3.5 4.9l-3.5 4.9l-3.5 -4.9z"/>
<path d="M1563.73 243.77l3.5 4.9l-3.5 4.9l-3.5 -4.9z"/>
<path d="M1570.69 244.04l3.5 4.9l-3.5 4.9l-3.5 -4.9z"/>
<path d="M1575.87 245.89l3.5 4.9l-3.5 4.9l-3.5 -4.9z"/>
<path d="M1581.91 236.91l3.5 4.9l-3.5 4.9l-3.5 -4.9z"/>
<path d="M1581.63 243.51l3.5 4.9l-3.5 4.9l-3.5 -4.9z"/>
<path d="M1589.33 250.41l3.5 4.9l-3.5 4.9l-3.5 -4.9z"/>
<path d="M1588.56 246.74l3.5 4.9l-3.5 4.9l-3.5 -4.9z"/>
<path d="M1593.66 246.91l3.5 4.9l-3.5 4.9l-3.5 -4.9z"/>
<path d="M1599.6 240.2l3.5 4.9l-3.5 4.9l-3.5 -4.9z"/>
<path d="M1606.99 241.79l3.5 4.9l-3.5 4.9l-3.5 -4.9z"/>
<path d="M1611.71 237.4l3.5 4.9l-3.5 4.9l-3.5 -4.9z"/>
<path d="M1612.27 240.23l3.5 4.9l-3.5 4.9l-3.5 -4.9z"/>
<path d="M1618.03 244.64l3.5 4.9l-3.5 4.9l-3.5 -4.9z"/>
<path d="M1617.98 238.9l3.5 4.9l-3.5 4.9l-3.5 -4.9z"/>
<path d="M1625.36 273.03l3.5 4.9l-3.5 4.9l-3.5 -4.9z"/>
<path d="M1630.56 238.84l3.5 4.9l-3.5 4.9l-3.5 -4.9z"/>
<path d="M1636.67 214.32l3.5 4.9l-3.5 4.9l-3.5 -4.9z"/>
<path d="M1643.91 279.28l3.5 4.9l-3.5 4.9l-3.5 -4.9z"/>
<path d="M1643.46 243.89l3.5 4.9l-3.5 4.9l-3.5 -4.9z"/>
<path d="M1648.07 252.06l3.5 4.9l-3.5 4.9l-3.5 -4.9z"/>
<path d="M1648.2 246.86l3.5 4.9l-3.5 4.9l-3.5 -4.9z"/>
<path d="M1654.85 223.61l3.5 4.9l-3.5 4.9l-3.5 -4.9z"/>
<path d="M1662.04 268.79l3.5 4.9l-3.5 4.9l-3.5 -4.9z"/>
<path d="M1661.73 242.56l3.5 4.9l-3.5 4.9l-3.5 -4.9z"/>
<path d="M1667.2 253.26l3.5 4.9l-3.5 4.9l-3.5 -4.9z"/>
<path d="M1666.92 236.24l3.5 4.9l-3.5 4.9l-3.5 -4.9z"/>
<path d="M1679.91 240.78l3.5 4.9l-3.5 4.9l-3.5 -4.9z"/>
<path d="M1679.75 246.38l3.5 4.9l-3.5 4.9l-3.5 -4.9z"/>
<path d="M1684.84 234.34l3.5 4.9l-3.5 4.9l-3.5 -4.9z"/>
<path d="M1691.08 232.27l3.5 4.9l-3.5 4.9l-3.5 -4.9z"/>
<path d="M1697.87 265.19l3.5 4.9l-3.5 4.9l-3.5 -4.9z"/>
<path d="M1698.53 277.79l3.5 4.9l-3.5 4.9l-3.5 -4.9z"/>
<path d="M1703.15 231.26l3.5 4.9l-3.5 4.9l-3.5 -4.9z"/>
<path d="M1716.47 236.97l3.5 4.9l-3.5 4.9l-3.5 -4.9z"/>
<path d="M1716.57 278.02l3.5 4.9l-3.5 4.9l-3.5 -4.9z"/>
<path d="M1721.45 223.97l3.5 4.9l-3.5 4.9l-3.5 -4.9z"/>
<path d="M1721 251.34l3.5 4.9l-3.5 4.9l-3.5 -4.9z"/>
<path d="M1727.69 186.73l3.5 4.9l-3.5 4.9l-3.5 -4.9z"/>
<path d="M1726.97 251.26l3.5 4.9l-3.5 4.9l-3.5 -4.9z"/>
<path d="M1734.1 254.41l3.5 4.9l-3.5 4.9l-3.5 -4.9z"/>
<path d="M1739.83 260.48l3.5 4.9l-3.5 4.9l-3.5 -4.9z"/>
<path d="M1739.34 239.01l3.5 4.9l-3.5 4.9l-3.5 -4.9z"/>
<path d="M1745.92 188.34l3.5 4.9l-3.5 4.9l-3.5 -4.9z"/>
<path d="M1745.74 258.52l3.5 4.9l-3.5 4.9l-3.5 -4.9z"/>
<path d="M1753.04 263.03l3.5 4.9l-3.5 4.9l-3.5 -4.9z"/>
<path d="M1757.34 247.51l3.5 4.9l-3.5 4.9l-3.5 -4.9z"/>
<path d="M1757.43 240.4l3.5 4.9l-3.5 4.9l-3.5 -4.9z"/>
<path d="M1763.46 234.57l3.5 4.9l-3.5 4.9l-3.5 -4.9z"/>
<path d="M1771.34 258.65l3.5 4.9l-3.5 4.9l-3.5 -4.9z"/>
<path d="M1776.16 243.37l3.5 4.9l-3.5 4.9l-3.5 -4.9z"/>
<path d="M1775.65 245.55l3.5 4.9l-3.5 4.9l-3.5 -4.9z"/>
<path d="M1781.72 220.23l3.5 4.9l-3.5 4.9l-3.5 -4.9z"/>
<path d="M1789.31 281.13l3.5 4.9l-3.5 4.9l-3.5 -4.9z"/>
<path d="M1789.44 240l3.5 4.9l-3.5 4.9l-3.5 -4.9z"/>
<path d="M1793.89 252.9l3.5 4.9l-3.5 4.9l-3.5 -4.9z"/>
<path d="M1799.72 244.64l3.5 4.9l-3.5 4.9l-3.5 -4.9z"/>
<path d="M1806.82 284.77l3.5 4.9l-3.5 4.9l-3.5 -4.9z"/>
<path d="M1812.08 242.34l3.5 4.9l-3.5 4.9l-3.5 -4.9z"/>
<path d="M1812.38 252.38l3.5 4.9l-3.5 4.9l-3.5 -4.9z"/>
<path d="M1817.97 250.14l3.5 4.9l-3.5 4.9l-3.5 -4.9z"/>
<path d="M1818.45 218.88l3.5 4.9l-3.5 4.9l-3.5 -4.9z"/>
<path d="M1825.46 276.16l3.5 4.9l-3.5 4.9l-3.5 -4.9z"/>
<path d="M1830.07 255.47l3.5 4.9l-3.5 4.9l-3.5 -4.9z"/>
<path d="M1830.95 236.69l3.5 4.9l-3.5 4.9l-3.5 -4.9z"/>
<path d="M1837.1 248.06l3.5 4.9l-3.5 4.9l-3.5 -4.9z"/>
<path d="M1836.92 209.19l3.5 4.9l-3.5 4.9l-3.5 -4.9z"/>
<path d="M1843.47 235.33l3.5 4.9l-3.5 4.9l-3.5 -4.9z"/>
<path d="M1843.88 258.68l3.5 4.9l-3.5 4.9l-3.5 -4.9z"/>
<path d="M1849.12 251.58l3.5 4.9l-3.5 4.9l-3.5 -4.9z"/>
<path d="M1848.56 231.35l3.5 4.9l-3.5 4.9l-3.5 -4.9z"/>
<path d="M1854.93 243.9l3.5 4.9l-3.5 4.9l-3.5 -4.9z"/>
<path d="M1862.19 282.88l3.5 4.9l-3.5 4.9l-3.5 -4.9z"/>
<path d="M1867.22 249.35l3.5 4.9l-3.5 4.9l-3.5 -4.9z"/>
<path d="M1880.08 251.78l3.5 4.9l-3.5 4.9l-3.5 -4.9z"/>
<path d="M1885 245.42l3.5 4.9l-3.5 4.9l-3.5 -4.9z"/>
<path d="M1890.83 237.1l3.5 4.9l-3.5 4.9l-3.5 -4.9z"/>
<path d="M1897.86 253.74l3.5 4.9l-3.5 4.9l-3.5 -4.9z"/>
<path d="M1897.86 242.76l3.5 4.9l-3.5 4.9l-3.5 -4.9z"/>
<path d="M1903.3 238.45l3.5 4.9l-3.5 4.9l-3.5 -4.9z"/>
<path d="M1909.14 233.8l3.5 4.9l-3.5 4.9l-3.5 -4.9z"/>
<path d="M1916.75 234.22l3.5 4.9l-3.5 4.9l-3.5 -4.9z"/>
<path d="M1916.95 235.8l3.5 4.9l-3.5 4.9l-3.5 -4.9z"/>
<path d="M1921.51 231.91l3.5 4.9l-3.5 4.9l-3.5 -4.9z"/>
<path d="M1927.71 222.13l3.5 4.9l-3.5 4.9l-3.5 -4.9z"/>
<path d="M1927.72 233.76l3.5 4.9l-3.5 4.9l-3.5 -4.9z"/>
<path d="M1935.13 259.63l3.5 4.9l-3.5 4.9l-3.5 -4.9z"/>
<path d="M1934.92 256.48l3.5 4.9l-3.5 4.9l-3.5 -4.9z"/>
<path d="M1939.59 240.86l3.5 4.9l-3.5 4.9l-3.5 -4.9z"/>
<path d="M1945.34 244.62l3.5 4.9l-3.5 4.9l-3.5 -4.9z"/>
<path d="M1945.88 228.56l3.5 4.9l-3.5 4.9l-3.5 -4.9z"/>
<path d="M1953.04 227.38l3.5 4.9l-3.5 4.9l-3.5 -4.9z"/>
<path d="M1953.33 237.61l3.5 4.9l-3.5 4.9l-3.5 -4.9z"/>
<path d="M1957.62 234.08l3.5 4.9l-3.5 4.9l-3.5 -4.9z"/>
<path d="M1970.9 253.04l3.5 4.9l-3.5 4.9l-3.5 -4.9z"/>
<path d="M1971.03 233.01l3.5 4.9l-3.5 4.9l-3.5 -4.9z"/>
<path d="M1982.67 214.17l3.5 4.9l-3.5 4.9l-3.5 -4.9z"/>
<path d="M1988.89 237.23l3.5 4.9l-3.5 4.9l-3.5 -4.9z"/>
<path d="M1989.18 252.68l3.5 4.9l-3.5 4.9l-3.5 -4.9z"/>
<path d="M1994.7 237.12l3.5 4.9l-3.5 4.9l-3.5 -4.9z"/>
<path d="M2007.21 230.62l3.5 4.9l-3.5 4.9l-3.5 -4.9z"/>
<path d="M2007.4 256.19l3.5 4.9l-3.5 4.9l-3.5 -4.9z"/>
<path d="M2012.77 240.38l3.5 4.9l-3.5 4.9l-3.5 -4.9z"/>
<path d="M2018.51 242.92l3.5 4.9l-3.5 4.9l-3.5 -4.9z"/>
<path d="M2025.33 233.28l3.5 4.9l-3.5 4.9l-3.5 -4.9z"/>
<path d="M2026.08 248.6l3.5 4.9l-3.5 4.9l-3.5 -4.9z"/>
<path d="M2031.15 230.89l3.5 4.9l-3.5 4.9l-3.5 -4.9z"/>
</g>
<g stroke="#00ff00">
<path d="M1552.16 254.89l4.3 7.6h-8.6z"/>
<path d="M1552.95 257.35l4.3 7.6h-8.6z"/>
<path d="M1557.92 251.26l4.3 7.6h-8.6z"/>
<path d="M1557.09 245.73l4.3 7.6h-8.6z"/>
<path d="M1570.53 251.27l4.3 7.6h-8.6z"/>
<path d="M1576.18 245.09l4.3 7.6h-8.6z"/>
<path d="M1582.05 246.02l4.3 7.6h-8.6z"/>
<path d="M1588.75 253.48l4.3 7.6h-8.6z"/>
<path d="M1589.27 247.27l4.3 7.6h-8.6z"/>
<path d="M1593.57 241.62l4.3 7.6h-8.6z"/>
<path d="M1594.37 238.63l4.3 7.6h-8.6z"/>
<path d="M1599.76 232.88l4.3 7.6h-8.6z"/>
<path d="M1606.75 255.69l4.3 7.6h-8.6z"/>
<path d="M1607.22 249.6l4.3 7.6h-8.6z"/>
<path d="M1618.53 244.58l4.3 7.6h-8.6z"/>
<path d="M1625.15 287.21l4.3 7.6h-8.6z"/>
<path d="M1625.21 285.87l4.3 7.6h-8.6z"/>
<path d="M1630.06 250.7l4.3 7.6h-8.6z"/>
<path d="M1630.02 242.62l4.3 7.6h-8.6z"/>
<path d="M1636.73 239.19l4.3 7.6h-8.6z"/>
<path d="M1636.25 239.98l4.3 7.6h-8.6z"/>
<path d="M1642.98 249.05l4.3 7.6h-8.6z"/>
<path d="M1648.59 246.94l4.3 7.6h-8.6z"/>
<path d="M1654.95 248.33l4.3 7.6h-8.6z"/>
<path d="M1655.03 236.39l4.3 7.6h-8.6z"/>
<path d="M1661.51 259.78l4.3 7.6h-8.6z"/>
<path d="M1666.78 228.03l4.3 7.6h-8.6z"/>
<path d="M1666.99 229.95l4.3 7.6h-8.6z"/>
<path d="M1672.58 208.45l4.3 7.6h-8.6z"/>
<path d="M1680.34 246.99l4.3 7.6h-8.6z"/>
<path d="M1685.42 247.45l4.3 7.6h-8.6z"/>
<path d="M1690.83 248.24l4.3 7.6h-8.6z"/>
<path d="M1698.37 238.2l4.3 7.6h-8.6z"/>
<path d="M1702.99 236.74l4.3 7.6h-8.6z"/>
<path d="M1703.33 229.44l4.3 7.6h-8.6z"/>
<path d="M1709.33 242.44l4.3 7.6h-8.6z"/>
<path d="M1716.51 290.2l4.3 7.6h-8.6z"/>
<path d="M1715.8 289.69l4.3 7.6h-8.6z"/>
<path d="M1721.52 236.24l4.3 7.6h-8.6z"/>
<path d="M1726.91 220l4.3 7.6h-8.6z"/>
<path d="M1734.33 260.24l4.3 7.6h-8.6z"/>
<path d="M1734.96 246.09l4.3 7.6h-8.6z"/>
<path d="M1739.12 257.22l4.3 7.6h-8.6z"/>
<path d="M1745.48 187.31l4.3 7.6h-8.6z"/>
<path d="M1745.94 252.47l4.3 7.6h-8.6z"/>
<path d="M1752.5 265.17l4.3 7.6h-8.6z"/>
<path d="M1757.49 234.07l4.3 7.6h-8.6z"/>
<path d="M1757.47 259.69l4.3 7.6h-8.6z"/>
<path d="M1764.15 214.35l4.3 7.6h-8.6z"/>
<path d="M1763.74 252.11l4.3 7.6h-8.6z"/>
<path d="M1770.4 258.24l4.3 7.6h-8.6z"/>
<path d="M1776.09 250.07l4.3 7.6h-8.6z"/>
<path d="M1776.26 248.81l4.3 7.6h-8.6z"/>
<path d="M1782.26 228.41l4.3 7.6h-8.6z"/>
<path d="M1789.3 234.52l4.3 7.6h-8.6z"/>
<path d="M1794.35 236.13l4.3 7.6h-8.6z"/>
<path d="M1794.36 245.17l4.3 7.6h-8.6z"/>
<path d="M1799.87 211.29l4.3 7.6h-8.6z"/>
<path d="M1800.35 224.48l4.3 7.6h-8.6z"/>
<path d="M1807.65 253.54l4.3 7.6h-8.6z"/>
<path d="M1806.78 235.1l4.3 7.6h-8.6z"/>
<path d="M1812.53 258.84l4.3 7.6h-8.6z"/>
<path d="M1825.95 273.56l4.3 7.6h-8.6z"/>
<path d="M1825.15 238.97l4.3 7.6h-8.6z"/>
<path d="M1830.59 234.96l4.3 7.6h-8.6z"/>
<path d="M1830.63 234.22l4.3 7.6h-8.6z"/>
<path d="M1836.37 200.64l4.3 7.6h-8.6z"/>
<path d="M1844.03 245.47l4.3 7.6h-8.6z"/>
<path d="M1843.93 249.9l4.3 7.6h-8.6z"/>
<path d="M1849.08 238.56l4.3 7.6h-8.6z"/>
<path d="M1855.24 205.1l4.3 7.6h-8.6z"/>
<path d="M1862.01 244.64l4.3 7.6h-8.6z"/>
<path d="M1861.71 255.47l4.3 7.6h-8.6z"/>
<path d="M1866.7 229.91l4.3 7.6h-8.6z"/>
<path d="M1867.1 244.24l4.3 7.6h-8.6z"/>
<path d="M1873.5 245.2l4.3 7.6h-8.6z"/>
<path d="M1880.27 251.48l4.3 7.6h-8.6z"/>
<path d="M1880.16 230.23l4.3 7.6h-8.6z"/>
<path d="M1885.33 233.18l4.3 7.6h-8.6z"/>
<path d="M1884.85 229.91l4.3 7.6h-8.6z"/>
<path d="M1891.54 236.38l4.3 7.6h-8.6z"/>
<path d="M1890.72 243.42l4.3 7.6h-8.6z"/>
<path d="M1898.24 256.9l4.3 7.6h-8.6z"/>
<path d="M1897.97 240.6l4.3 7.6h-8.6z"/>
<path d="M1903.59 240.19l4.3 7.6h-8.6z"/>
<path d="M1909.19 238.6l4.3 7.6h-8.6z"/>
<path d="M1921.06 234.25l4.3 7.6h-8.6z"/>
<path d="M1921.43 245.31l4.3 7.6h-8.6z"/>
<path d="M1927.37 234.99l4.3 7.6h-8.6z"/>
<path d="M1934.73 231.12l4.3 7.6h-8.6z"/>
<path d="M1934.88 260.29l4.3 7.6h-8.6z"/>
<path d="M1940.06 226.41l4.3 7.6h-8.6z"/>
<path d="M1953.22 240.83l4.3 7.6h-8.6z"/>
<path d="M1952.75 266.42l4.3 7.6h-8.6z"/>
<path d="M1958.31 232.99l4.3 7.6h-8.6z"/>
<path d="M1957.49 245.81l4.3 7.6h-8.6z"/>
<path d="M1963.86 231.01l4.3 7.6h-8.6z"/>
<path d="M1971.56 240.02l4.3 7.6h-8.6z"/>
<path d="M1971.34 236.56l4.3 7.6h-8.6z"/>
<path d="M1982.31 226.94l4.3 7.6h-8.6z"/>
<path d="M1982.08 225.32l4.3 7.6h-8.6z"/>
<path d="M1989.54 229.63l4.3 7.6h-8.6z"/>
<path d="M1988.88 225.79l4.3 7.6h-8.6z"/>
<path d="M1994.05 229.69l4.3 7.6h-8.6z"/>
<path d="M1994.77 228.33l4.3 7.6h-8.6z"/>
<path d="M2007.15 235.92l4.3 7.6h-8.6z"/>
<path d="M2012.14 230.28l4.3 7.6h-8.6z"/>
<path d="M2025.87 251.8l4.3 7.6h-8.6z"/>
<path d="M2025.31 249.7l4.3 7.6h-8.6z"/>
<path d="M2030.65 231.1l4.3 7.6h-8.6z"/>
</g>
<g stroke="#000000">
<path d="M1552.07 256.67l3.5 4.9l-3.5 4.9l-3.5 -4.9z"/>
<path d="M1563.37 241.92l3.5 4.9l-3.5 4.9l-3.5 -4.9z"/>
<path d="M1571.12 248.85l3.5 4.9l-3.5 4.9l-3.5 -4.9z"/>
<path d="M1576.23 246.37l3.5 4.9l-3.5 4.9l-3.5 -4.9z"/>
<path d="M1588.56 250.46l3.5 4.9l-3.5 4.9l-3.5 -4.9z"/>
<path d="M1588.84 249.56l3.5 4.9l-3.5 4.9l-3.5 -4.9z"/>
<path d="M1593.7 246.85l3.5 4.9l-3.5 4.9l-3.5 -4.9z"/>
<path d="M1594.24 247.84l3.5 4.9l-3.5 4.9l-3.5 -4.9z"/>
<path d="M1600.27 243.33l3.5 4.9l-3.5 4.9l-3.5 -4.9z"/>
<path d="M1600.1 238.43l3.5 4.9l-3.5 4.9l-3.5 -4.9z"/>
<path d="M1606.78 254.5l3.5 4.9l-3.5 4.9l-3.5 -4.9z"/>
<path d="M1607.28 240.1l3.5 4.9l-3.5 4.9l-3.5 -4.9z"/>
<path d="M1611.78 239.8l3.5 4.9l-3.5 4.9l-3.5 -4.9z"/>
<path d="M1611.85 234.72l3.5 4.9l-3.5 4.9l-3.5 -4.9z"/>
<path d="M1618.09 239.75l3.5 4.9l-3.5 4.9l-3.5 -4.9z"/>
<path d="M1625.6 269.04l3.5 4.9l-3.5 4.9l-3.5 -4.9z"/>
<path d="M1629.86 239.6l3.5 4.9l-3.5 4.9l-3.5 -4.9z"/>
<path d="M1636.57 243.17l3.5 4.9l-3.5 4.9l-3.5 -4.9z"/>
<path d="M1636.04 225.03l3.5 4.9l-3.5 4.9l-3.5 -4.9z"/>
<path d="M1648.96 232.04l3.5 4.9l-3.5 4.9l-3.5 -4.9z"/>
<path d="M1648.7 251.97l3.5 4.9l-3.5 4.9l-3.5 -4.9z"/>
<path d="M1654.28 236.16l3.5 4.9l-3.5 4.9l-3.5 -4.9z"/>
<path d="M1654.93 238.99l3.5 4.9l-3.5 4.9l-3.5 -4.9z"/>
<path d="M1662.11 243.64l3.5 4.9l-3.5 4.9l-3.5 -4.9z"/>
<path d="M1661.89 243.57l3.5 4.9l-3.5 4.9l-3.5 -4.9z"/>
<path d="M1673.07 243.56l3.5 4.9l-3.5 4.9l-3.5 -4.9z"/>
<path d="M1673.25 208.88l3.5 4.9l-3.5 4.9l-3.5 -4.9z"/>
<path d="M1680.13 241.23l3.5 4.9l-3.5 4.9l-3.5 -4.9z"/>
<path d="M1684.73 242.27l3.5 4.9l-3.5 4.9l-3.5 -4.9z"/>
<path d="M1684.83 232.95l3.5 4.9l-3.5 4.9l-3.5 -4.9z"/>
<path d="M1690.68 255.25l3.5 4.9l-3.5 4.9l-3.5 -4.9z"/>
<path d="M1698.47 265.75l3.5 4.9l-3.5 4.9l-3.5 -4.9z"/>
<path d="M1703.04 250.5l3.5 4.9l-3.5 4.9l-3.5 -4.9z"/>
<path d="M1703.31 251.36l3.5 4.9l-3.5 4.9l-3.5 -4.9z"/>
<path d="M1708.93 235.79l3.5 4.9l-3.5 4.9l-3.5 -4.9z"/>
<path d="M1709.57 189.39l3.5 4.9l-3.5 4.9l-3.5 -4.9z"/>
<path d="M1716.7 263.36l3.5 4.9l-3.5 4.9l-3.5 -4.9z"/>
<path d="M1720.9 226.66l3.5 4.9l-3.5 4.9l-3.5 -4.9z"/>
<path d="M1720.9 255.78l3.5 4.9l-3.5 4.9l-3.5 -4.9z"/>
<path d="M1727.67 253.28l3.5 4.9l-3.5 4.9l-3.5 -4.9z"/>
<path d="M1727.56 188.62l3.5 4.9l-3.5 4.9l-3.5 -4.9z"/>
<path d="M1734.48 246.78l3.5 4.9l-3.5 4.9l-3.5 -4.9z"/>
<path d="M1739.5 255.11l3.5 4.9l-3.5 4.9l-3.5 -4.9z"/>
<path d="M1739.23 232.55l3.5 4.9l-3.5 4.9l-3.5 -4.9z"/>
<path d="M1745.94 191.33l3.5 4.9l-3.5 4.9l-3.5 -4.9z"/>
<path d="M1745.95 235.77l3.5 4.9l-3.5 4.9l-3.5 -4.9z"/>
<path d="M1753.04 266.06l3.5 4.9l-3.5 4.9l-3.5 -4.9z"/>
<path d="M1757.89 237.83l3.5 4.9l-3.5 4.9l-3.5 -4.9z"/>
<path d="M1763.53 237.35l3.5 4.9l-3.5 4.9l-3.5 -4.9z"/>
<path d="M1763.76 235.86l3.5 4.9l-3.5 4.9l-3.5 -4.9z"/>
<path d="M1775.79 248.25l3.5 4.9l-3.5 4.9l-3.5 -4.9z"/>
<path d="M1775.47 247l3.5 4.9l-3.5 4.9l-3.5 -4.9z"/>
<path d="M1781.64 231.08l3.5 4.9l-3.5 4.9l-3.5 -4.9z"/>
<path d="M1782.17 219.51l3.5 4.9l-3.5 4.9l-3.5 -4.9z"/>
<path d="M1789.54 283.01l3.5 4.9l-3.5 4.9l-3.5 -4.9z"/>
<path d="M1794.07 253.54l3.5 4.9l-3.5 4.9l-3.5 -4.9z"/>
<path d="M1793.96 240.5l3.5 4.9l-3.5 4.9l-3.5 -4.9z"/>
<path d="M1800.23 249.15l3.5 4.9l-3.5 4.9l-3.5 -4.9z"/>
<path d="M1806.78 285.95l3.5 4.9l-3.5 4.9l-3.5 -4.9z"/>
<path d="M1812.57 230.36l3.5 4.9l-3.5 4.9l-3.5 -4.9z"/>
<path d="M1818.53 251.98l3.5 4.9l-3.5 4.9l-3.5 -4.9z"/>
<path d="M1830.24 256.97l3.5 4.9l-3.5 4.9l-3.5 -4.9z"/>
<path d="M1836.19 208.42l3.5 4.9l-3.5 4.9l-3.5 -4.9z"/>
<path d="M1843.24 239.03l3.5 4.9l-3.5 4.9l-3.5 -4.9z"/>
<path d="M1848.34 231.38l3.5 4.9l-3.5 4.9l-3.5 -4.9z"/>
<path d="M1848.61 228.21l3.5 4.9l-3.5 4.9l-3.5 -4.9z"/>
<path d="M1855.28 244.29l3.5 4.9l-3.5 4.9l-3.5 -4.9z"/>
<path d="M1861.58 232l3.5 4.9l-3.5 4.9l-3.5 -4.9z"/>
<path d="M1861.59 284.07l3.5 4.9l-3.5 4.9l-3.5 -4.9z"/>
<path d="M1866.97 252.8l3.5 4.9l-3.5 4.9l-3.5 -4.9z"/>
<path d="M1866.74 233.56l3.5 4.9l-3.5 4.9l-3.5 -4.9z"/>
<path d="M1872.74 216.48l3.5 4.9l-3.5 4.9l-3.5 -4.9z"/>
<path d="M1880.4 261.52l3.5 4.9l-3.5 4.9l-3.5 -4.9z"/>
<path d="M1884.96 244.86l3.5 4.9l-3.5 4.9l-3.5 -4.9z"/>
<path d="M1884.64 245.9l3.5 4.9l-3.5 4.9l-3.5 -4.9z"/>
<path d="M1891.14 231.67l3.5 4.9l-3.5 4.9l-3.5 -4.9z"/>
<path d="M1891.12 243.74l3.5 4.9l-3.5 4.9l-3.5 -4.9z"/>
<path d="M1898.19 260.91l3.5 4.9l-3.5 4.9l-3.5 -4.9z"/>
<path d="M1897.99 251.56l3.5 4.9l-3.5 4.9l-3.5 -4.9z"/>
<path d="M1903.34 248.89l3.5 4.9l-3.5 4.9l-3.5 -4.9z"/>
<path d="M1903.39 242.62l3.5 4.9l-3.5 4.9l-3.5 -4.9z"/>
<path d="M1909.89 229.97l3.5 4.9l-3.5 4.9l-3.5 -4.9z"/>
<path d="M1916 237.6l3.5 4.9l-3.5 4.9l-3.5 -4.9z"/>
<path d="M1921.74 231.03l3.5 4.9l-3.5 4.9l-3.5 -4.9z"/>
<path d="M1921.33 238.95l3.5 4.9l-3.5 4.9l-3.5 -4.9z"/>
<path d="M1927.78 235.25l3.5 4.9l-3.5 4.9l-3.5 -4.9z"/>
<path d="M1927.43 224.23l3.5 4.9l-3.5 4.9l-3.5 -4.9z"/>
<path d="M1934.69 261.46l3.5 4.9l-3.5 4.9l-3.5 -4.9z"/>
<path d="M1934.65 258.13l3.5 4.9l-3.5 4.9l-3.5 -4.9z"/>
<path d="M1939.8 233l3.5 4.9l-3.5 4.9l-3.5 -4.9z"/>
<path d="M1939.91 238.94l3.5 4.9l-3.5 4.9l-3.5 -4.9z"/>
<path d="M1945.99 245.19l3.5 4.9l-3.5 4.9l-3.5 -4.9z"/>
<path d="M1958.15 242.52l3.5 4.9l-3.5 4.9l-3.5 -4.9z"/>
<path d="M1957.84 238.23l3.5 4.9l-3.5 4.9l-3.5 -4.9z"/>
<path d="M1964.21 233.97l3.5 4.9l-3.5 4.9l-3.5 -4.9z"/>
<path d="M1971.26 232.98l3.5 4.9l-3.5 4.9l-3.5 -4.9z"/>
<path d="M1971.39 238.7l3.5 4.9l-3.5 4.9l-3.5 -4.9z"/>
<path d="M1975.92 238.02l3.5 4.9l-3.5 4.9l-3.5 -4.9z"/>
<path d="M1975.69 239.23l3.5 4.9l-3.5 4.9l-3.5 -4.9z"/>
<path d="M1981.93 211.26l3.5 4.9l-3.5 4.9l-3.5 -4.9z"/>
<path d="M1982.22 240.63l3.5 4.9l-3.5 4.9l-3.5 -4.9z"/>
<path d="M1989.25 242.14l3.5 4.9l-3.5 4.9l-3.5 -4.9z"/>
<path d="M1989.48 238.71l3.5 4.9l-3.5 4.9l-3.5 -4.9z"/>
<path d="M1994.25 246.73l3.5 4.9l-3.5 4.9l-3.5 -4.9z"/>
<path d="M1994.64 224.82l3.5 4.9l-3.5 4.9l-3.5 -4.9z"/>
<path d="M2000.35 235.85l3.5 4.9l-3.5 4.9l-3.5 -4.9z"/>
<path d="M2007.43 235.97l3.5 4.9l-3.5 4.9l-3.5 -4.9z"/>
<path d="M2007.56 259.96l3.5 4.9l-3.5 4.9l-3.5 -4.9z"/>
<path d="M2012.54 237.23l3.5 4.9l-3.5 4.9l-3.5 -4.9z"/>
<path d="M2012.13 242.21l3.5 4.9l-3.5 4.9l-3.5 -4.9z"/>
<path d="M2025.82 249.78l3.5 4.9l-3.5 4.9l-3.5 -4.9z"/>
</g>
<g fill="#0000ff" stroke="none">
<circle cx="1552.34" cy="259.22" r="1.4"/>
<circle cx="1557.54" cy="255.07" r="1.4"/>
<circle cx="1570.29" cy="253.15" r="1.4"/>
<circle cx="1582.28" cy="250.92" r="1.4"/>
<circle cx="1588.52" cy="256.63" r="1.4"/>
<circle cx="1594.03" cy="247.27" r="1.4"/>
<circle cx="1599.53" cy="243.24" r="1.4"/>
<circle cx="1607.41" cy="251.93" r="1.4"/>
<circle cx="1611.97" cy="246.15" r="1.4"/>
<circle cx="1617.96" cy="250.86" r="1.4"/>
<circle cx="1648.32" cy="244" r="1.4"/>
<circle cx="1654.93" cy="254.43" r="1.4"/>
<circle cx="1685.24" cy="262.52" r="1.4"/>
<circle cx="1691.25" cy="256.97" r="1.4"/>
<circle cx="1697.96" cy="248.01" r="1.4"/>
<circle cx="1703.43" cy="241.79" r="1.4"/>
<circle cx="1708.77" cy="254.83" r="1.4"/>
<circle cx="1721.56" cy="247.37" r="1.4"/>
<circle cx="1734.54" cy="251.53" r="1.4"/>
<circle cx="1746.01" cy="233.75" r="1.4"/>
<circle cx="1752.31" cy="250.22" r="1.4"/>
<circle cx="1757.78" cy="236.95" r="1.4"/>
<circle cx="1763.46" cy="244.73" r="1.4"/>
<circle cx="1770.88" cy="257.07" r="1.4"/>
<circle cx="1775.77" cy="243.36" r="1.4"/>
<circle cx="1793.76" cy="251.86" r="1.4"/>
<circle cx="1800.07" cy="231.31" r="1.4"/>
<circle cx="1811.99" cy="255.29" r="1.4"/>
<circle cx="1830.76" cy="235.45" r="1.4"/>
<circle cx="1843.7" cy="288.47" r="1.4"/>
<circle cx="1848.49" cy="238.84" r="1.4"/>
<circle cx="1861.49" cy="242.37" r="1.4"/>
<circle cx="1872.6" cy="232.72" r="1.4"/>
<circle cx="1879.73" cy="261.81" r="1.4"/>
<circle cx="1884.71" cy="244.9" r="1.4"/>
<circle cx="1898.52" cy="247.02" r="1.4"/>
<circle cx="1903.72" cy="247.16" r="1.4"/>
<circle cx="1909.02" cy="242.24" r="1.4"/>
<circle cx="1916.05" cy="275.44" r="1.4"/>
<circle cx="1921.16" cy="255.31" r="1.4"/>
<circle cx="1934.78" cy="235.17" r="1.4"/>
<circle cx="1939.91" cy="246.88" r="1.4"/>
<circle cx="1958.32" cy="238.58" r="1.4"/>
<circle cx="1970.61" cy="254.59" r="1.4"/>
<circle cx="1975.68" cy="250.36" r="1.4"/>
<circle cx="1982.19" cy="216.74" r="1.4"/>
<circle cx="1989.33" cy="232.17" r="1.4"/>
<circle cx="1994.26" cy="238.77" r="1.4"/>
<circle cx="2007.93" cy="248.98" r="1.4"/>
<circle cx="2012.78" cy="246.59" r="1.4"/>
<circle cx="2018.16" cy="227.3" r="1.4"/>
<circle cx="2025.72" cy="255.84" r="1.4"/>
<circle cx="2031.03" cy="233.83" r="1.4"/>
</g>
<g fill="#ff0000" stroke="none">
<circle cx="1552.09" cy="259.99" r="1.4"/>
<circle cx="1557.54" cy="249.27" r="1.4"/>
<circle cx="1563.42" cy="246.91" r="1.4"/>
<circle cx="1570.29" cy="257.25" r="1.4"/>
<circle cx="1575.76" cy="246.92" r="1.4"/>
<circle cx="1581.72" cy="249.14" r="1.4"/>
<circle cx="1589.21" cy="259.57" r="1.4"/>
<circle cx="1593.6" cy="256.27" r="1.4"/>
<circle cx="1599.97" cy="235.9" r="1.4"/>
<circle cx="1606.94" cy="253.19" r="1.4"/>
<circle cx="1612.07" cy="246.92" r="1.4"/>
<circle cx="1618.53" cy="243.62" r="1.4"/>
<circle cx="1625.21" cy="292.3" r="1.4"/>
<circle cx="1630.41" cy="247.87" r="1.4"/>
<circle cx="1636" cy="243.97" r="1.4"/>
<circle cx="1661.84" cy="305.83" r="1.4"/>
<circle cx="1666.88" cy="231.42" r="1.4"/>
<circle cx="1672.3" cy="229.41" r="1.4"/>
<circle cx="1679.94" cy="256.02" r="1.4"/>
<circle cx="1684.64" cy="256.22" r="1.4"/>
<circle cx="1698.4" cy="278.58" r="1.4"/>
<circle cx="1703.13" cy="247.8" r="1.4"/>
<circle cx="1709.15" cy="232.45" r="1.4"/>
<circle cx="1716.25" cy="303.97" r="1.4"/>
<circle cx="1721.56" cy="237.14" r="1.4"/>
<circle cx="1727.27" cy="245.86" r="1.4"/>
<circle cx="1734.45" cy="255.5" r="1.4"/>
<circle cx="1739.81" cy="255.93" r="1.4"/>
<circle cx="1745.57" cy="261.72" r="1.4"/>
<circle cx="1752.58" cy="249.17" r="1.4"/>
<circle cx="1757.87" cy="234.71" r="1.4"/>
<circle cx="1764.2" cy="251.31" r="1.4"/>
<circle cx="1770.67" cy="252.09" r="1.4"/>
<circle cx="1776.33" cy="249.55" r="1.4"/>
<circle cx="1789.47" cy="239.07" r="1.4"/>
<circle cx="1794.18" cy="251.09" r="1.4"/>
<circle cx="1800.36" cy="218.29" r="1.4"/>
<circle cx="1818.72" cy="253.13" r="1.4"/>
<circle cx="1830.68" cy="235.25" r="1.4"/>
<circle cx="1843.71" cy="252.21" r="1.4"/>
<circle cx="1855.23" cy="249.27" r="1.4"/>
<circle cx="1866.91" cy="256.06" r="1.4"/>
<circle cx="1873.01" cy="235.19" r="1.4"/>
<circle cx="1880.38" cy="261.83" r="1.4"/>
<circle cx="1884.83" cy="243.9" r="1.4"/>
<circle cx="1890.82" cy="254" r="1.4"/>
<circle cx="1897.97" cy="278.37" r="1.4"/>
<circle cx="1903.67" cy="256.8" r="1.4"/>
<circle cx="1909.02" cy="237.21" r="1.4"/>
<circle cx="1915.97" cy="276.09" r="1.4"/>
<circle cx="1927.86" cy="234.52" r="1.4"/>
<circle cx="1934.19" cy="270.74" r="1.4"/>
<circle cx="1940.17" cy="238.57" r="1.4"/>
<circle cx="1945.33" cy="238.32" r="1.4"/>
<circle cx="1952.8" cy="250.09" r="1.4"/>
<circle cx="1957.69" cy="243.52" r="1.4"/>
<circle cx="1970.94" cy="242.78" r="1.4"/>
<circle cx="1976.07" cy="228.35" r="1.4"/>
<circle cx="1989.45" cy="259.08" r="1.4"/>
<circle cx="2007.74" cy="230.03" r="1.4"/>
<circle cx="2012.5" cy="239.38" r="1.4"/>
<circle cx="2019.02" cy="235.03" r="1.4"/>
<circle cx="2025.36" cy="232.19" r="1.4"/>
<circle cx="2030.6" cy="233.21" r="1.4"/>
</g>
<g fill="#00ff00" stroke="none">
<circle cx="1552.23" cy="268.33" r="1.4"/>
<circle cx="1557.96" cy="256.58" r="1.4"/>
<circle cx="1571.17" cy="256.26" r="1.4"/>
<circle cx="1575.26" cy="248.85" r="1.4"/>
<circle cx="1581.53" cy="242.55" r="1.4"/>
<circle cx="1589.14" cy="259.43" r="1.4"/>
<circle cx="1606.75" cy="255.57" r="1.4"/>
<circle cx="1612.04" cy="246.5" r="1.4"/>
<circle cx="1618.25" cy="247.4" r="1.4"/>
<circle cx="1630.18" cy="256.68" r="1.4"/>
<circle cx="1636.81" cy="216.97" r="1.4"/>
<circle cx="1643.36" cy="298.96" r="1.4"/>
<circle cx="1648.71" cy="248.62" r="1.4"/>
<circle cx="1673.26" cy="238.59" r="1.4"/>
<circle cx="1679.73" cy="272.75" r="1.4"/>
<circle cx="1697.58" cy="291.84" r="1.4"/>
<circle cx="1702.68" cy="255.2" r="1.4"/>
<circle cx="1709.1" cy="196.83" r="1.4"/>
<circle cx="1716.09" cy="271.59" r="1.4"/>
<circle cx="1721.01" cy="255.79" r="1.4"/>
<circle cx="1727.13" cy="260.37" r="1.4"/>
<circle cx="1745.2" cy="236.25" r="1.4"/>
<circle cx="1752.76" cy="247.14" r="1.4"/>
<circle cx="1758.15" cy="253.24" r="1.4"/>
<circle cx="1763.67" cy="223.99" r="1.4"/>
<circle cx="1770.86" cy="272.83" r="1.4"/>
<circle cx="1794.36" cy="239.69" r="1.4"/>
<circle cx="1800.21" cy="253.73" r="1.4"/>
<circle cx="1807.08" cy="303.1" r="1.4"/>
<circle cx="1811.84" cy="245.19" r="1.4"/>
<circle cx="1818.5" cy="236.95" r="1.4"/>
<circle cx="1825.09" cy="250.39" r="1.4"/>
<circle cx="1830.09" cy="255.21" r="1.4"/>
<circle cx="1836.78" cy="250" r="1.4"/>
<circle cx="1848.81" cy="247.85" r="1.4"/>
<circle cx="1854.37" cy="216.65" r="1.4"/>
<circle cx="1872.59" cy="250.41" r="1.4"/>
<circle cx="1880.12" cy="272.75" r="1.4"/>
<circle cx="1885.19" cy="240.95" r="1.4"/>
<circle cx="1890.77" cy="241.36" r="1.4"/>
<circle cx="1921.77" cy="239.4" r="1.4"/>
<circle cx="1927.95" cy="236.35" r="1.4"/>
<circle cx="1934.75" cy="253.67" r="1.4"/>
<circle cx="1939.8" cy="243.12" r="1.4"/>
<circle cx="1945.62" cy="247.83" r="1.4"/>
<circle cx="1958.43" cy="232.98" r="1.4"/>
<circle cx="1963.54" cy="248.35" r="1.4"/>
<circle cx="1971.24" cy="271.55" r="1.4"/>
<circle cx="1999.99" cy="245.73" r="1.4"/>
<circle cx="2012.34" cy="249.45" r="1.4"/>
<circle cx="2031.21" cy="235.28" r="1.4"/>
</g>
<g fill="#000000" stroke="none">
<circle cx="1552.49" cy="274.25" r="1.4"/>
<circle cx="1557.17" cy="256.42" r="1.4"/>
<circle cx="1563.18" cy="244.38" r="1.4"/>
<circle cx="1571.02" cy="253.43" r="1.4"/>
<circle cx="1575.49" cy="252.13" r="1.4"/>
<circle cx="1582.06" cy="254.46" r="1.4"/>
<circle cx="1588.76" cy="250.75" r="1.4"/>
<circle cx="1599.5" cy="236.17" r="1.4"/>
<circle cx="1606.97" cy="270.26" r="1.4"/>
<circle cx="1611.98" cy="243.12" r="1.4"/>
<circle cx="1618.23" cy="248.49" r="1.4"/>
<circle cx="1625" cy="233.11" r="1.4"/>
<circle cx="1643.19" cy="299.14" r="1.4"/>
<circle cx="1655.04" cy="243.69" r="1.4"/>
<circle cx="1667.05" cy="250.72" r="1.4"/>
<circle cx="1680.01" cy="238.06" r="1.4"/>
<circle cx="1684.57" cy="261.6" r="1.4"/>
<circle cx="1690.54" cy="254.59" r="1.4"/>
<circle cx="1716.41" cy="299.7" r="1.4"/>
<circle cx="1727.34" cy="249.81" r="1.4"/>
<circle cx="1734.8" cy="259.91" r="1.4"/>
<circle cx="1745.33" cy="212.78" r="1.4"/>
<circle cx="1757.92" cy="251.29" r="1.4"/>
<circle cx="1763.68" cy="190.13" r="1.4"/>
<circle cx="1770.65" cy="250.82" r="1.4"/>
<circle cx="1781.5" cy="239.61" r="1.4"/>
<circle cx="1788.88" cy="254.26" r="1.4"/>
<circle cx="1800.54" cy="252.22" r="1.4"/>
<circle cx="1806.83" cy="259.25" r="1.4"/>
<circle cx="1811.96" cy="233.21" r="1.4"/>
<circle cx="1818.26" cy="253.36" r="1.4"/>
<circle cx="1830.47" cy="261.1" r="1.4"/>
<circle cx="1836.85" cy="213.66" r="1.4"/>
<circle cx="1848.49" cy="253.99" r="1.4"/>
<circle cx="1861.53" cy="266.67" r="1.4"/>
<circle cx="1866.45" cy="250.37" r="1.4"/>
<circle cx="1872.74" cy="233.36" r="1.4"/>
<circle cx="1879.89" cy="269.01" r="1.4"/>
<circle cx="1885.46" cy="255.91" r="1.4"/>
<circle cx="1891.47" cy="234.25" r="1.4"/>
<circle cx="1903.23" cy="248.28" r="1.4"/>
<circle cx="1909.55" cy="231.42" r="1.4"/>
<circle cx="1916.73" cy="259.6" r="1.4"/>
<circle cx="1921.23" cy="255.29" r="1.4"/>
<circle cx="1927.23" cy="253.92" r="1.4"/>
<circle cx="1934.34" cy="233.9" r="1.4"/>
<circle cx="1939.3" cy="239.53" r="1.4"/>
<circle cx="1946.19" cy="245.93" r="1.4"/>
<circle cx="1953.34" cy="242.7" r="1.4"/>
<circle cx="1957.56" cy="237.58" r="1.4"/>
<circle cx="1970.77" cy="254.78" r="1.4"/>
<circle cx="1976.07" cy="239.31" r="1.4"/>
<circle cx="1982.41" cy="239.6" r="1.4"/>
<circle cx="1989.76" cy="261.42" r="1.4"/>
<circle cx="1993.87" cy="232.82" r="1.4"/>
<circle cx="2026.03" cy="243.71" r="1.4"/>
<circle cx="2031.22" cy="231.62" r="1.4"/>
</g>
</g>
<path d="M1546.1 56.5H2027.5M1546.1 446.4H2027.5" fill="none" stroke="#303030" stroke-width="1.0" stroke-linecap="square"/>
<path d="M1546.1 56.5V446.4M2027.5 56.5V446.4" fill="none" stroke="#303030" stroke-width="1.0" stroke-linecap="square"/>
<line x1="1611" y1="56.5" x2="1611" y2="62.2" stroke="#303030" stroke-width="1.0"/>
<line x1="1611" y1="446.4" x2="1611" y2="440.7" stroke="#303030" stroke-width="1.0"/>
<text x="1611" y="480" font-size="29" text-anchor="middle">1540</text>
<line x1="1768.65" y1="56.5" x2="1768.65" y2="62.2" stroke="#303030" stroke-width="1.0"/>
<line x1="1768.65" y1="446.4" x2="1768.65" y2="440.7" stroke="#303030" stroke-width="1.0"/>
<text x="1768.65" y="480" font-size="29" text-anchor="middle">1550</text>
<line x1="1926.3" y1="56.5" x2="1926.3" y2="62.2" stroke="#303030" stroke-width="1.0"/>
<line x1="1926.3" y1="446.4" x2="1926.3" y2="440.7" stroke="#303030" stroke-width="1.0"/>
<text x="1926.3" y="480" font-size="29" text-anchor="middle">1560</text>
<line x1="1546.1" y1="56.5" x2="1551.8" y2="56.5" stroke="#303030" stroke-width="1.0"/>
<line x1="2027.5" y1="56.5" x2="2021.8" y2="56.5" stroke="#303030" stroke-width="1.0"/>
<text x="1534.4" y="66" font-size="29" text-anchor="end">3</text>
<line x1="1546.1" y1="121.45" x2="1551.8" y2="121.45" stroke="#303030" stroke-width="1.0"/>
<line x1="2027.5" y1="121.45" x2="2021.8" y2="121.45" stroke="#303030" stroke-width="1.0"/>
<text x="1534.4" y="130.95" font-size="29" text-anchor="end">2</text>
<line x1="1546.1" y1="186.4" x2="1551.8" y2="186.4" stroke="#303030" stroke-width="1.0"/>
<line x1="2027.5" y1="186.4" x2="2021.8" y2="186.4" stroke="#303030" stroke-width="1.0"/>
<text x="1534.4" y="195.9" font-size="29" text-anchor="end">1</text>
<line x1="1546.1" y1="251.35" x2="1551.8" y2="251.35" stroke="#303030" stroke-width="1.0"/>
<line x1="2027.5" y1="251.35" x2="2021.8" y2="251.35" stroke="#303030" stroke-width="1.0"/>
<text x="1534.4" y="260.85" font-size="29" text-anchor="end">0</text>
<line x1="1546.1" y1="316.3" x2="1551.8" y2="316.3" stroke="#303030" stroke-width="1.0"/>
<line x1="2027.5" y1="316.3" x2="2021.8" y2="316.3" stroke="#303030" stroke-width="1.0"/>
<text x="1534.4" y="325.8" font-size="29" text-anchor="end">−1</text>
<line x1="1546.1" y1="381.25" x2="1551.8" y2="381.25" stroke="#303030" stroke-width="1.0"/>
<line x1="2027.5" y1="381.25" x2="2021.8" y2="381.25" stroke="#303030" stroke-width="1.0"/>
<text x="1534.4" y="390.75" font-size="29" text-anchor="end">−2</text>
<line x1="1546.1" y1="446.2" x2="1551.8" y2="446.2" stroke="#303030" stroke-width="1.0"/>
<line x1="2027.5" y1="446.2" x2="2021.8" y2="446.2" stroke="#303030" stroke-width="1.0"/>
<text x="1534.4" y="455.7" font-size="29" text-anchor="end">−3</text>
<text x="1787" y="523.5" font-size="29.2" text-anchor="middle">Wavelength [nm]</text>
<text transform="translate(1440.1 251.4) rotate(-90)" font-size="29" text-anchor="middle">Comb line</text>
<text transform="translate(1475 251.4) rotate(-90)" font-size="29" text-anchor="middle">power difference [dB]</text>
<text x="1414.8" y="48.8" font-size="42" font-weight="bold">c</text>
</svg>
</body></html>
